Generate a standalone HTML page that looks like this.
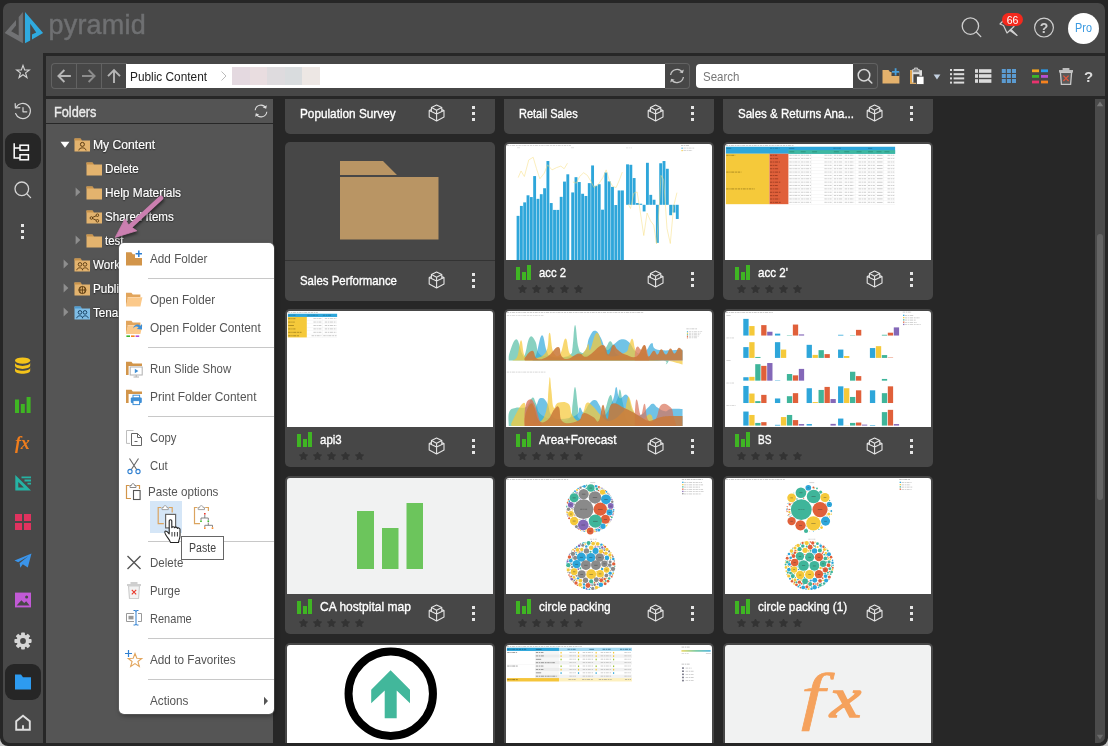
<!DOCTYPE html>
<html lang="en"><head><meta charset="utf-8"><title>Pyramid</title>
<style>
*{box-sizing:border-box;margin:0;padding:0}
html,body{width:1108px;height:746px;overflow:hidden;background:#c8c8c8;font-family:"Liberation Sans",sans-serif;}
body{position:relative}
div,svg,span{position:absolute}
#win{left:0;top:0;width:1108px;height:746px;background:#262626;border-radius:0 0 8px 8px}
#app{left:3px;top:3px;width:1102px;height:740px;background:#484848;border-radius:7px;}
#frame{left:43px;top:53px;width:1062px;height:690px;background:#272727;border-radius:0 0 8px 0}
#toolbar{left:46px;top:56px;width:1059px;height:40px;background:#474747;}
#fhead{left:46px;top:99px;width:227px;height:24px;background:#545454;}
#ftree{left:46px;top:124px;width:227px;height:619px;background:#555555;}
.t{white-space:nowrap;line-height:1}
.card{width:210px;height:158px;background:#474747;border-radius:5px;overflow:hidden}
.card .img{left:2px;top:2px;width:206px;height:116px;background:#fff;border-radius:3px 3px 0 0;overflow:hidden}
.card .ttl{left:35px;top:123px;font-size:13px;color:#fff;white-space:nowrap;line-height:16px;transform-origin:0 0;-webkit-text-stroke:0.35px #fff}
.card .ttl.nf{left:15px;top:131px}
.card .bars{left:12px;top:123px;width:15px;height:15px}
.card .bars i{position:absolute;bottom:0;width:4px;background:#3fb523}
.card .stars{left:13px;top:141.5px}
.card .cube{left:143px;top:128px;width:17px;height:18px}
.card .keb{left:186.5px;top:130px;width:4px;height:16px}
.card .keb i,.keb2 i{position:absolute;left:0;width:3px;height:3px;background:#e6e6e6}
.sep{height:1px;background:#c8c8c8;left:29px;width:126px}
.mi{left:31px;font-size:13px;color:#555;white-space:nowrap;line-height:16px}
.tr{-webkit-text-stroke:0.2px #fff;font-size:13px;color:#fff;white-space:nowrap;line-height:16px;text-shadow:0 0 2px #222,0 1px 1px #333}
.card.fc{height:159px}.card.fc .cube{top:129px}.card.fc .keb{top:131px}
</style></head>
<body>
<div id="win"></div>
<div id="app"></div>
<div id="frame"></div>
<div id="toolbar"></div>
<div id="fhead"></div>
<div id="ftree"></div>
<!-- header -->
<svg style="left:0;top:0" width="60" height="56" viewBox="0 0 60 56">
<path d="M22.9 11.9 L22.9 43.3 L4.7 33 L16 20.1 L16 25.5 L11.2 31.2 L18.7 35.5 L18.7 16.9 Z" fill="#717274"/>
<path d="M25 11.9 L43.1 32.9 L32 39.4 L32 34.6 L36.2 32.4 L30.2 23.7 L30.2 40.4 L25 43.3 Z" fill="#2faadf"/>
</svg>
<div class="t" style="left:48.5px;top:9px;font-size:27px;color:#6f7072;letter-spacing:0.2px;line-height:32px;-webkit-text-stroke:0.45px #6f7072">pyramid</div>
<svg style="left:958px;top:14px" width="26" height="26" viewBox="0 0 26 26" fill="none" stroke="#cfcfcf" stroke-width="1.3"><circle cx="12.4" cy="12.1" r="8.2"/><path d="M18.3 18 L22.8 22.6" stroke-linecap="round"/></svg>
<svg style="left:997px;top:16px" width="24" height="24" viewBox="0 0 24 24" fill="none" stroke="#cfcfcf" stroke-width="1.2" stroke-linejoin="round"><path d="M7.5 3.5 L3 8 L6.5 9.5 L10 17 L17 10.5 L11 6 Z"/><path d="M14 13.5 L20 19.5 L13 14.5Z" fill="#cfcfcf"/></svg>
<div style="left:1002px;top:13px;width:21px;height:13px;border-radius:7px;background:#f3291d"></div>
<div class="t" style="left:1002px;top:14px;width:21px;text-align:center;font-size:10.5px;color:#fff;line-height:12px">66</div>
<svg style="left:1033px;top:17px" width="22" height="22" viewBox="0 0 22 22"><circle cx="11" cy="10.6" r="9.4" fill="none" stroke="#cfcfcf" stroke-width="1.2"/><text x="11" y="15.6" font-family="Liberation Sans, sans-serif" font-size="14" font-weight="bold" fill="#cfcfcf" text-anchor="middle">?</text></svg>
<div style="left:1068px;top:12.600px;width:31px;height:31px;border-radius:50%;background:#fff"></div>
<div class="t" style="left:1068px;top:21px;width:31px;text-align:center;font-size:12px;color:#3b9ae1;line-height:15px;transform:scaleX(0.900)">Pro</div>
<!-- sidebar -->
<div style="left:5px;top:133px;width:36px;height:36px;border-radius:9px;background:#262626"></div>
<div style="left:5px;top:664px;width:36px;height:36px;border-radius:9px;background:#262626"></div>
<svg style="left:13px;top:61px" width="20" height="20" viewBox="0 0 20 20" fill="none" stroke="#d4d4d4" stroke-width="1.3" stroke-linejoin="miter"><g transform="translate(10 10.700) scale(0.860) translate(-10 -10)"><path d="M10 2.600 L11.900 7.900 L17.400 8 L13 11.400 L14.600 16.800 L10 13.600 L5.400 16.800 L7 11.400 L2.600 8 L8.100 7.900 Z"/></g></svg>
<svg style="left:12px;top:101px" width="22" height="22" viewBox="0 0 22 22" fill="none" stroke="#d4d4d4" stroke-width="1.200" stroke-linecap="round" stroke-linejoin="round"><path d="M4.2 6.2 A7.6 7.6 0 1 1 3.6 12.5"/><path d="M3.2 2.6 L3.4 7 L7.8 6.6"/><path d="M11 6.5 L11 10.8 L14.8 10.8"/></svg>
<svg style="left:12px;top:141px" width="22" height="22" viewBox="0 0 22 22" fill="none" stroke="#ffffff" stroke-width="1.5"><path d="M2.2 2.2 L2.2 17 L8 17 M2.2 7 L8 7"/><rect x="8" y="4.2" width="8.4" height="5" /><rect x="8" y="13.8" width="8.4" height="5"/></svg>
<svg style="left:12px;top:179px" width="22" height="22" viewBox="0 0 22 22" fill="none" stroke="#d4d4d4" stroke-width="1.3" stroke-linecap="round"><circle cx="9.8" cy="9.8" r="6.8"/><path d="M14.8 14.8 L18.6 18.6"/></svg>
<div class="keb2" style="left:21px;top:224px;width:3px;height:16px"><i style="top:0"></i><i style="top:6px"></i><i style="top:12px"></i></div>
<!-- db -->
<svg style="left:12px;top:355px" width="22" height="22" viewBox="0 0 22 22" fill="#f4c31a"><ellipse cx="10.6" cy="5.6" rx="7.6" ry="3.2"/><path d="M3 7.6 C3 12 18.2 12 18.2 7.6 L18.2 10.6 C18.2 15 3 15 3 10.6Z"/><path d="M3 12.4 C3 16.8 18.2 16.8 18.2 12.4 L18.2 15.4 C18.2 19.8 3 19.8 3 15.4Z"/></svg>
<!-- bars -->
<svg style="left:12px;top:394px" width="22" height="22" viewBox="0 0 22 22" fill="#3fb523"><rect x="3" y="5.5" width="4" height="13.5"/><rect x="8.8" y="10" width="4" height="9"/><rect x="14.6" y="3" width="4" height="16"/></svg>
<!-- fx -->
<div class="t" style="left:15px;top:434px;font-family:'Liberation Serif',serif;font-style:italic;font-weight:bold;font-size:18px;color:#f07d1c;letter-spacing:-0.3px;line-height:18px">fx</div>
<!-- ruler -->
<svg style="left:12px;top:472px" width="22" height="22" viewBox="0 0 22 22"><path d="M3.300 2.900 L3.300 18.600 L19 18.600 Z M6.300 10 L6.300 15.600 L11.900 15.600Z" fill="#25b3a4" fill-rule="evenodd"/><path d="M9.500 5.400 L19 5.400 M12.500 8.500 L19 8.500 M15.500 11.600 L19 11.600" stroke="#25b3a4" stroke-width="1.800" fill="none"/></svg>
<!-- grid -->
<svg style="left:12px;top:511px" width="22" height="22" viewBox="0 0 22 22" fill="#e0335f"><rect x="3" y="3" width="7" height="7"/><rect x="12" y="3" width="7" height="7"/><rect x="3" y="12" width="7" height="7"/><rect x="12" y="12" width="7" height="7"/></svg>
<!-- plane -->
<svg style="left:12px;top:550px" width="22" height="22" viewBox="0 0 22 22" fill="#3a94ea"><path d="M2.5 10.5 L19.5 3.5 L15.8 17.5 L10.8 14.2 L8.3 17.8 L7.6 13.2 L16.2 6.2 L6.2 12.2 Z"/></svg>
<!-- image -->
<svg style="left:12px;top:589px" width="22" height="22" viewBox="0 0 22 22"><rect x="3" y="3.6" width="16" height="14.8" fill="#c25ad6"/><path d="M4.6 16.6 L9.4 11.2 L12.2 14 L14.2 12.2 L17.6 16.6 Z" fill="#484848"/><circle cx="14.6" cy="8" r="1.5" fill="#484848"/></svg>
<!-- gear -->
<svg style="left:12px;top:630px" width="22" height="22" viewBox="0 0 22 22"><g transform="translate(11 11)"><g fill="#d6d6d6"><circle r="6.4"/><rect x="-1.9" y="-8.6" width="3.8" height="17.2" rx="0.8"/><rect x="-1.9" y="-8.6" width="3.8" height="17.2" rx="0.8" transform="rotate(45)"/><rect x="-1.9" y="-8.6" width="3.8" height="17.2" rx="0.8" transform="rotate(90)"/><rect x="-1.9" y="-8.6" width="3.8" height="17.2" rx="0.8" transform="rotate(135)"/></g><circle r="2.9" fill="#484848"/></g></svg>
<!-- folder -->
<svg style="left:12px;top:671px" width="22" height="22" viewBox="0 0 22 22" fill="#2d9bf0"><path d="M3 3.6 L9 3.6 L11 6.2 L19 6.2 L19 18.4 L3 18.4 Z"/></svg>
<!-- home -->
<svg style="left:12px;top:711px" width="22" height="22" viewBox="0 0 22 22" fill="none" stroke="#dedede" stroke-width="1.900" stroke-linejoin="miter"><path d="M4.200 10.300 L11 4.800 L17.800 10.300 L17.800 18.800 L4.200 18.800 Z"/><path d="M11 14.200 L11 18.800"/></svg>
<!-- toolbar -->
<div style="left:51px;top:63px;width:76px;height:26px;border:1px solid #626262;border-right:none;border-radius:4px 0 0 4px;background:#474747"></div>
<div style="left:76px;top:64px;width:1px;height:24px;background:#626262"></div>
<div style="left:101px;top:64px;width:1px;height:24px;background:#626262"></div>
<svg style="left:52px;top:64px" width="24" height="24" viewBox="52 64 24 24" fill="none" stroke="#b6b6b6" stroke-width="1.9"><path d="M58.200 76 L70.900 76 M64.400 70 L58.400 76 L64.400 82"/></svg>
<svg style="left:77px;top:64px" width="24" height="24" viewBox="77 64 24 24" fill="none" stroke="#8c8c8c" stroke-width="1.9"><path d="M82 76 L94.800 76 M88.600 70 L94.600 76 L88.600 82"/></svg>
<svg style="left:102px;top:64px" width="24" height="24" viewBox="102 64 24 24" fill="none" stroke="#b6b6b6" stroke-width="1.9"><path d="M114 70.200 L114 82.900 M108 76.200 L114 70.200 L120 76.200"/></svg>
<div style="left:126px;top:64px;width:539px;height:24px;background:#fff"></div>
<div class="t" style="left:129.5px;top:69px;font-size:13px;color:#222;line-height:16px;transform-origin:0 0;transform:scaleX(0.911)">Public Content</div>
<svg style="left:219px;top:70px" width="10" height="12" viewBox="0 0 10 12" fill="none" stroke="#bbb" stroke-width="1"><path d="M2.5 1.5 L7 6 L2.5 10.5"/></svg>
<div style="left:232px;top:67px;width:88px;height:18px;background:linear-gradient(90deg,#e4d9e0 0,#e4d9e0 20%,#e9dde0 20%,#e9dde0 40%,#dedbde 40%,#dedbde 60%,#d9dcde 60%,#d9dcde 80%,#ede7e4 80%)"></div>
<div style="left:665px;top:63px;width:25px;height:26px;border:1px solid #626262;border-left:none;border-radius:0 4px 4px 0;background:#474747"></div>
<svg style="left:668px;top:67px" width="18" height="18" viewBox="0 0 18 18" fill="none" stroke="#c4c4c4" stroke-width="1.3"><path d="M2.6 8 A6.5 6.5 0 0 1 14.6 5.6"/><path d="M15.4 10 A6.5 6.5 0 0 1 3.4 12.4"/><path d="M15.8 2.6 L14.9 6.3 L11.3 5.2" fill="#c4c4c4" stroke="none"/><path d="M2.2 15.4 L3.1 11.7 L6.7 12.8" fill="#c4c4c4" stroke="none"/></svg>
<div style="left:696px;top:64px;width:158px;height:24px;background:#fff;border-radius:4px 0 0 4px"></div>
<div class="t" style="left:702.5px;top:69px;font-size:13px;color:#777;line-height:16px;transform-origin:0 0;transform:scaleX(0.885)">Search</div>
<div style="left:853px;top:63px;width:25px;height:26px;border:1px solid #626262;border-left:none;border-radius:0 4px 4px 0;background:#474747"></div>
<svg style="left:855px;top:66px" width="20" height="20" viewBox="0 0 20 20" fill="none" stroke="#d6d6d6" stroke-width="1.5" stroke-linecap="round"><circle cx="9" cy="9.2" r="5.8"/><path d="M13.4 13.6 L16.8 17"/></svg>
<!-- new folder -->
<svg style="left:881px;top:66px" width="20" height="20" viewBox="0 0 20 20"><path d="M1.5 4 L7.5 4 L9 6 L18.4 6 L18.4 17.6 L1.5 17.6 Z" fill="#e5b26c"/><path d="M10.5 3 L18.5 3 L18.5 10 L10.5 10Z" fill="#474747"/><path d="M14.6 2.2 L14.6 9.4 M11 5.8 L18.2 5.8" stroke="#4b9fd8" stroke-width="1.8" fill="none"/></svg>
<!-- paste -->
<svg style="left:907px;top:66px" width="20" height="20" viewBox="0 0 20 20"><path d="M3 4.2 L15 4.2 L15 17.8 L3 17.8Z" fill="#dfdfdf"/><path d="M3 4.2 L5 4.2 L5 17.8 L3 17.8Z M3 16.4 L15 16.4 L15 17.8 L3 17.8Z" fill="#e0a44e"/><path d="M5.6 6.4 L12.4 6.4 L12.4 3.6 L10.6 3.6 L10.6 2 L7.4 2 L7.4 3.6 L5.6 3.6Z" fill="#8a8a8a" stroke="#dcdcdc" stroke-width="0.8"/><rect x="6.4" y="8.2" width="6" height="8.6" fill="#474747"/><rect x="9.6" y="10.2" width="7.4" height="8.2" fill="#fff" stroke="#474747" stroke-width="0.8"/></svg>
<svg style="left:933px;top:74px" width="8" height="6" viewBox="0 0 8 6"><path d="M0.6 0.4 L7.4 0.4 L4 5.6Z" fill="#c3d0e0"/></svg>
<!-- list 1 -->
<svg style="left:949px;top:68px" width="16" height="16" viewBox="0 0 16 16" fill="#dcdcdc"><rect x="1" y="1" width="2" height="2"/><rect x="4.6" y="1" width="10.6" height="2"/><rect x="1" y="5.2" width="2" height="2"/><rect x="4.6" y="5.2" width="10.6" height="2"/><rect x="1" y="9.4" width="2" height="2"/><rect x="4.6" y="9.4" width="10.6" height="2"/><rect x="1" y="13.6" width="2" height="2"/><rect x="4.6" y="13.6" width="10.6" height="2"/></svg>
<!-- list 2 -->
<svg style="left:974px;top:68px" width="18" height="16" viewBox="0 0 18 16" fill="#dcdcdc"><rect x="1" y="1.2" width="3" height="3.6"/><rect x="5" y="1.2" width="12.4" height="3.6"/><rect x="1" y="6.2" width="3" height="3.6"/><rect x="5" y="6.2" width="12.4" height="3.6"/><rect x="1" y="11.2" width="3" height="3.6"/><rect x="5" y="11.2" width="12.4" height="3.6"/></svg>
<!-- grid -->
<svg style="left:1001px;top:68px" width="16" height="16" viewBox="0 0 16 16" fill="#5b9bd1"><rect x="0.8" y="1" width="4" height="4"/><rect x="5.9" y="1" width="4" height="4"/><rect x="11" y="1" width="4" height="4"/><rect x="0.8" y="6" width="4" height="4"/><rect x="5.9" y="6" width="4" height="4"/><rect x="11" y="6" width="4" height="4"/><rect x="0.8" y="11" width="4" height="4"/><rect x="5.9" y="11" width="4" height="4"/><rect x="11" y="11" width="4" height="4"/></svg>
<!-- colour list -->
<svg style="left:1031px;top:68px" width="18" height="16" viewBox="0 0 18 16"><rect x="1" y="1.4" width="7" height="2.8" fill="#f5a41f"/><rect x="10" y="1.4" width="7" height="2.8" fill="#2a9df0"/><rect x="1" y="7" width="7" height="2.8" fill="#3bb52b"/><rect x="10" y="7" width="7" height="2.8" fill="#b54fd2"/><rect x="1" y="12.6" width="7" height="2.8" fill="#e8336e"/><rect x="10" y="12.6" width="7" height="2.8" fill="#f5821f"/></svg>
<!-- trash -->
<svg style="left:1057px;top:66px" width="18" height="20" viewBox="0 0 18 20"><path d="M2 4 L16 4 L16 6.4 L2 6.4Z M5.6 2 L12.4 2 L12.4 4 L5.6 4Z" fill="#bdbdbd"/><path d="M3.4 6.4 L14.6 6.4 L13.6 18.4 L4.4 18.4Z" fill="#5a5a5a" stroke="#c8c8c8" stroke-width="1.3"/><path d="M6.4 9.6 L11.6 15 M11.6 9.6 L6.4 15" stroke="#e4553a" stroke-width="1.2"/></svg>
<div class="t" style="left:1084px;top:68px;font-size:15px;font-weight:bold;color:#dcdcdc;line-height:18px">?</div>
<!-- folders panel -->
<div class="t" style="left:53.5px;top:104px;font-size:14px;color:#ececec;line-height:16px;-webkit-text-stroke:0.35px #ececec;transform-origin:0 0;transform:scaleX(0.91)">Folders</div>
<svg style="left:253px;top:103px" width="16" height="16" viewBox="0 0 16 16" fill="none" stroke="#dcdcdc" stroke-width="1.1"><path d="M2.2 7.2 A5.7 5.7 0 0 1 12.8 5"/><path d="M13.8 8.8 A5.7 5.7 0 0 1 3.2 11"/><path d="M13.8 2.2 L13.2 5.8 L9.8 4.6Z" fill="#dcdcdc" stroke="none"/><path d="M2.2 13.8 L2.8 10.2 L6.2 11.4Z" fill="#dcdcdc" stroke="none"/></svg>
<svg width="0" height="0" style="left:0;top:0"><defs>
<g id="fo"><path d="M0.5 1.5 L6.5 1.5 L7.8 3.4 L16 3.4 L16 14.5 L0.5 14.5Z" fill="#e3b36e"/><path d="M0.5 1.5 L6.5 1.5 L7.8 3.4 L0.5 3.4Z" fill="#c9944c"/></g>
<g id="fob"><path d="M0.5 1.5 L6.5 1.5 L7.8 3.4 L16 3.4 L16 14.5 L0.5 14.5Z" fill="#7fbde6"/><path d="M0.5 1.5 L6.5 1.5 L7.8 3.4 L0.5 3.4Z" fill="#4f9bd0"/></g>
<g id="cube" fill="none" stroke="#e4e4e4" stroke-width="1.1" stroke-linejoin="round" stroke-linecap="round"><path d="M8.600 1 L13.800 3.600 L8.600 6.200 L3.400 3.600Z M3.400 3.600 L3.400 7.500 M13.800 3.600 L13.800 7.500 M8.600 6.200 L8.600 16.900 M3.400 5.500 L1.200 6.500 L1.200 13.100 L8.600 16.900 L16 13.100 L16 6.500 L13.800 5.500 M1.200 6.500 L8.600 10 L16 6.500"/></g>
</defs></svg>
<!-- tree rows -->
<svg style="left:60px;top:141px" width="10" height="8" viewBox="0 0 10 8"><path d="M0.5 0.8 L9.5 0.8 L5 6.8Z" fill="#fff"/></svg>
<svg style="left:73.5px;top:136.500px" width="17" height="16" viewBox="0 0 17 16"><use href="#fo"/><g fill="none" stroke="#5a3a10" stroke-width="1"><circle cx="8.4" cy="7.4" r="2"/><path d="M4.8 13.4 C5 10 11.800 10 12 13.400"/></g></svg>
<div class="tr" style="left:93px;top:136.500px;transform-origin:0 0;transform:scaleX(0.934)">My Content</div>

<svg style="left:85.500px;top:160.500px" width="17" height="16" viewBox="0 0 17 16"><use href="#fo"/></svg>
<div class="tr" style="left:104.6px;top:160.500px;transform-origin:0 0;transform:scaleX(0.894)">Delete</div>

<svg style="left:75px;top:187px" width="6" height="10" viewBox="0 0 6 10"><path d="M0.600 0.600 L5.400 5 L0.600 9.400Z" fill="#8e8e8e"/></svg>
<svg style="left:85.500px;top:184.500px" width="17" height="16" viewBox="0 0 17 16"><use href="#fo"/></svg>
<div class="tr" style="left:104.6px;top:184.500px;transform-origin:0 0;transform:scaleX(0.915)">Help Materials</div>

<svg style="left:85.500px;top:208.500px" width="17" height="16" viewBox="0 0 17 16"><use href="#fo"/><g fill="none" stroke="#5a3a10" stroke-width="0.9"><circle cx="5.400" cy="9" r="1.300"/><circle cx="11.400" cy="6.200" r="1.300"/><circle cx="11.400" cy="11.800" r="1.300"/><path d="M6.600 8.400 L10.200 6.800 M6.600 9.600 L10.200 11.200"/></g></svg>
<div class="tr" style="left:104.6px;top:208.500px;transform-origin:0 0;transform:scaleX(0.889)">Shared Items</div>

<svg style="left:75px;top:235px" width="6" height="10" viewBox="0 0 6 10"><path d="M0.600 0.600 L5.400 5 L0.600 9.400Z" fill="#8e8e8e"/></svg>
<svg style="left:85.500px;top:232.500px" width="17" height="16" viewBox="0 0 17 16"><use href="#fo"/></svg>
<div class="tr" style="left:104.6px;top:232.500px;transform-origin:0 0;transform:scaleX(0.883)">test</div>

<svg style="left:63px;top:259px" width="6" height="10" viewBox="0 0 6 10"><path d="M0.600 0.600 L5.400 5 L0.600 9.400Z" fill="#8e8e8e"/></svg>
<svg style="left:73.500px;top:256.500px" width="17" height="16" viewBox="0 0 17 16"><use href="#fo"/><g fill="none" stroke="#5a3a10" stroke-width="0.9"><circle cx="6" cy="7.400" r="1.800"/><circle cx="11" cy="7.400" r="1.800"/><path d="M2.800 13.200 C3 10 8.600 10 8.600 13.200 M8.400 13.200 C8.400 10 14 10 14.200 13.200"/></g></svg>
<div class="tr" style="left:93px;top:256.500px;transform-origin:0 0;transform:scaleX(0.9)">Workgroup Content</div>

<svg style="left:63px;top:283px" width="6" height="10" viewBox="0 0 6 10"><path d="M0.600 0.600 L5.400 5 L0.600 9.400Z" fill="#8e8e8e"/></svg>
<svg style="left:73.500px;top:280.500px" width="17" height="16" viewBox="0 0 17 16"><use href="#fo"/><g fill="none" stroke="#5a3a10" stroke-width="0.9"><circle cx="8.400" cy="9" r="3.600"/><path d="M4.800 9 L12 9 M8.400 5.400 L8.400 12.600 M6.600 5.800 C5.600 8 5.600 10 6.600 12.200 M10.200 5.800 C11.200 8 11.200 10 10.200 12.200"/></g></svg>
<div class="tr" style="left:93px;top:280.500px;transform-origin:0 0;transform:scaleX(0.9)">Public Content</div>

<svg style="left:63px;top:307px" width="6" height="10" viewBox="0 0 6 10"><path d="M0.600 0.600 L5.400 5 L0.600 9.400Z" fill="#8e8e8e"/></svg>
<svg style="left:73.500px;top:304.500px" width="17" height="16" viewBox="0 0 17 16"><use href="#fob"/><g fill="none" stroke="#123a5a" stroke-width="0.9"><circle cx="6" cy="7.400" r="1.800"/><circle cx="11" cy="7.400" r="1.800"/><path d="M2.800 13.200 C3 10 8.600 10 8.600 13.200 M8.400 13.200 C8.400 10 14 10 14.200 13.200"/></g></svg>
<div class="tr" style="left:93px;top:304.500px;transform-origin:0 0;transform:scaleX(0.9)">Tenant Content</div>
<!-- pink arrow -->
<svg style="left:100px;top:185px;filter:drop-shadow(1.5px 2.5px 1.5px rgba(0,0,0,0.5))" width="80" height="70" viewBox="100 185 80 70"><path d="M160.900 198.100 L129 227.600" stroke="#cb7fb0" stroke-width="4.800" fill="none" stroke-linecap="round"/><path d="M115.200 237.400 L125 218.800 L128.800 225.200 L136.800 230.800Z" fill="#cb7fb0" stroke="#cb7fb0" stroke-width="0.800" stroke-linejoin="round"/></svg>
<!-- cards -->
<div id="cards" style="left:0;top:99px;width:1095px;height:644px;overflow:hidden">
<div class="card fc" style="left:285px;top:-124px"><div class="ttl nf" style="transform:scaleX(0.906)">Population Survey</div><svg class="cube" viewBox="0 0 17 18"><use href="#cube"/></svg><div class="keb"><i style="top:0"></i><i style="top:6px"></i><i style="top:12px"></i></div></div>
<div class="card fc" style="left:504px;top:-124px"><div class="ttl nf" style="transform:scaleX(0.846)">Retail Sales</div><svg class="cube" viewBox="0 0 17 18"><use href="#cube"/></svg><div class="keb"><i style="top:0"></i><i style="top:6px"></i><i style="top:12px"></i></div></div>
<div class="card fc" style="left:723px;top:-124px"><div class="ttl nf" style="transform:scaleX(0.887)">Sales &amp; Returns Ana...</div><svg class="cube" viewBox="0 0 17 18"><use href="#cube"/></svg><div class="keb"><i style="top:0"></i><i style="top:6px"></i><i style="top:12px"></i></div></div>
<div class="card fc" style="left:285px;top:43px"><svg style="left:55px;top:19px" width="99" height="79" viewBox="0 0 99 79"><path d="M0 0 L43 0 L57 14 L0 14Z M0 16 L98.500 16 L98.500 78.500 L0 78.500Z" fill="#b99564"/></svg><div style="left:0;top:118px;width:210px;height:1px;background:#333"></div><div class="ttl nf" style="transform:scaleX(0.877)">Sales Performance</div><svg class="cube" viewBox="0 0 17 18"><use href="#cube"/></svg><div class="keb"><i style="top:0"></i><i style="top:6px"></i><i style="top:12px"></i></div></div>
<div class="card" style="left:504px;top:43px"><div class="img" style="background:#fff"><svg style="left:0;top:0" width="206" height="116" viewBox="0 0 206 116"><line x1="1" y1="1.50" x2="65.00" y2="1.50" stroke="#aaa" stroke-width="0.6" stroke-dasharray="2.4 0.7 1.3 0.6 3.1 0.8 1.8 0.7" opacity="0.8"/><line x1="175" y1="1.50" x2="183.00" y2="1.50" stroke="#999" stroke-width="0.6" stroke-dasharray="2.4 0.7 1.3 0.6 3.1 0.8 1.8 0.7" opacity="0.8"/><rect x="175.5" y="3.6" width="1.2" height="1.2" fill="#2ea6da"/><rect x="175.5" y="6" width="1.2" height="1.2" fill="#f5c93a"/><line x1="177.5" y1="4.10" x2="188.50" y2="4.10" stroke="#aaa" stroke-width="0.6" stroke-dasharray="2.4 0.7 1.3 0.6 3.1 0.8 1.8 0.7" opacity="0.8"/><line x1="177.5" y1="6.50" x2="186.50" y2="6.50" stroke="#aaa" stroke-width="0.6" stroke-dasharray="2.4 0.7 1.3 0.6 3.1 0.8 1.8 0.7" opacity="0.8"/><rect x="11" y="3.6" width="3" height="0.5" fill="#bbb" opacity="0.8"/><rect x="65" y="3.6" width="3" height="0.5" fill="#bbb" opacity="0.8"/><line x1="120" y1="3.85" x2="126.00" y2="3.85" stroke="#bbb" stroke-width="0.5" stroke-dasharray="2.4 0.7 1.3 0.6 3.1 0.8 1.8 0.7" opacity="0.8"/><rect x="10.61" y="71.87" width="2.87" height="44.13" fill="#2ea6da"/><rect x="13.93" y="61.92" width="2.87" height="54.08" fill="#2ea6da"/><rect x="17.25" y="58.38" width="2.87" height="57.62" fill="#2ea6da"/><rect x="20.57" y="51.3" width="2.87" height="64.70" fill="#2ea6da"/><rect x="23.88" y="53.07" width="2.87" height="62.93" fill="#2ea6da"/><rect x="27.2" y="32.07" width="2.87" height="83.93" fill="#2ea6da"/><rect x="30.52" y="54.84" width="2.87" height="61.16" fill="#2ea6da"/><rect x="33.83" y="50.2" width="2.87" height="65.80" fill="#2ea6da"/><rect x="37.15" y="44.23" width="2.87" height="71.77" fill="#2ea6da"/><rect x="40.47" y="17.03" width="2.87" height="98.97" fill="#2ea6da"/><rect x="43.79" y="59.04" width="2.87" height="56.96" fill="#2ea6da"/><rect x="47.1" y="65.9" width="2.87" height="50.10" fill="#2ea6da"/><rect x="50.42" y="65.9" width="2.87" height="50.10" fill="#2ea6da"/><rect x="53.74" y="52.85" width="2.87" height="63.15" fill="#2ea6da"/><rect x="57.05" y="37.59" width="2.87" height="78.41" fill="#2ea6da"/><rect x="60.37" y="30.3" width="2.87" height="85.70" fill="#2ea6da"/><rect x="65.24" y="48.43" width="2.87" height="67.57" fill="#2ea6da"/><rect x="68.55" y="33.17" width="2.87" height="82.83" fill="#2ea6da"/><rect x="71.87" y="38.04" width="2.87" height="77.96" fill="#2ea6da"/><rect x="75.19" y="49.76" width="2.87" height="66.24" fill="#2ea6da"/><rect x="78.51" y="51.97" width="2.87" height="64.03" fill="#2ea6da"/><rect x="81.82" y="39.14" width="2.87" height="76.86" fill="#2ea6da"/><rect x="85.14" y="21.45" width="2.87" height="94.55" fill="#2ea6da"/><rect x="88.46" y="41.8" width="2.87" height="74.20" fill="#2ea6da"/><rect x="91.77" y="40.25" width="2.87" height="75.75" fill="#2ea6da"/><rect x="95.09" y="65.68" width="2.87" height="50.32" fill="#2ea6da"/><rect x="98.41" y="28.53" width="2.87" height="87.47" fill="#2ea6da"/><rect x="101.72" y="37.37" width="2.87" height="78.63" fill="#2ea6da"/><rect x="105.04" y="42.9" width="2.87" height="73.10" fill="#2ea6da"/><rect x="108.36" y="61.03" width="2.87" height="54.97" fill="#2ea6da"/><rect x="111.68" y="46.44" width="2.87" height="69.56" fill="#2ea6da"/><rect x="114.99" y="46.44" width="2.87" height="69.56" fill="#2ea6da"/><rect x="120.08" y="20.34" width="2.87" height="40.47" fill="#2ea6da"/><rect x="123.4" y="20.79" width="2.87" height="40.02" fill="#2ea6da"/><rect x="126.71" y="34.06" width="2.87" height="26.75" fill="#2ea6da"/><rect x="130.03" y="59.04" width="2.87" height="1.77" fill="#2ea6da"/><rect x="133.35" y="59.71" width="2.87" height="1.10" fill="#2ea6da"/><rect x="136.67" y="60.81" width="2.87" height="6.64" fill="#2ea6da"/><rect x="139.98" y="18.8" width="2.87" height="42.01" fill="#2ea6da"/><rect x="143.3" y="50.86" width="2.87" height="9.95" fill="#2ea6da"/><rect x="146.62" y="55.73" width="2.87" height="5.08" fill="#2ea6da"/><rect x="149.93" y="60.81" width="2.87" height="38.04" fill="#2ea6da"/><rect x="153.25" y="19.24" width="2.87" height="41.57" fill="#2ea6da"/><rect x="156.57" y="17.03" width="2.87" height="43.78" fill="#2ea6da"/><rect x="159.89" y="24.77" width="2.87" height="36.04" fill="#2ea6da"/><rect x="163.2" y="60.81" width="2.87" height="10.40" fill="#2ea6da"/><rect x="166.52" y="60.81" width="2.87" height="7.74" fill="#2ea6da"/><rect x="169.84" y="60.81" width="2.87" height="14.16" fill="#2ea6da"/><polyline points="12.16,33.61 15.04,26.98 18.35,32.51 22.78,15.92 27.2,13.27 30.52,24.77 33.83,34.72 38.26,29.19 41.57,20.79 46.0,25.87 50.42,23.66 54.84,22.11 58.16,24.77 61.48,19.24" fill="none" stroke="#f7dc7a" stroke-width="0.5" stroke-linejoin="round"/><polyline points="67.01,38.04 70.32,39.14 73.64,32.51 77.62,28.75 81.38,31.4 84.7,36.93 88.01,43.56 92.44,40.25 96.86,33.61 100.18,25.87 103.49,36.93 106.81,42.46 110.13,43.56 113.45,35.82 116.32,28.08" fill="none" stroke="#f7dc7a" stroke-width="0.5" stroke-linejoin="round"/><polyline points="122.29,60.15 124.5,64.57 127.82,49.09 131.14,47.99 134.45,69.0 137.77,91.55 141.09,69.0 144.41,76.74 147.72,81.16 150.6,99.96 153.25,62.36 155.02,31.4 157.67,35.82 160.99,84.48 164.31,99.51 167.62,62.36 170.94,48.65" fill="none" stroke="#f7dc7a" stroke-width="0.5" stroke-linejoin="round"/></svg></div><div class="bars"><i style="left:0;height:13px"></i><i style="left:5.500px;height:8.500px"></i><i style="left:11px;height:15px"></i></div><div class="ttl" style="transform:scaleX(0.869)">acc 2</div><svg class="stars" width="70" height="11" viewBox="0 0 70 11" fill="#333" stroke="#333" stroke-width="0.9" stroke-linejoin="round"><polygon points="5.50,1.00 6.73,3.60 9.59,3.97 7.50,5.95 8.03,8.78 5.50,7.40 2.97,8.78 3.50,5.95 1.41,3.97 4.27,3.60"/><polygon points="19.50,1.00 20.73,3.60 23.59,3.97 21.50,5.95 22.03,8.78 19.50,7.40 16.97,8.78 17.50,5.95 15.41,3.97 18.27,3.60"/><polygon points="33.50,1.00 34.73,3.60 37.59,3.97 35.50,5.95 36.03,8.78 33.50,7.40 30.97,8.78 31.50,5.95 29.41,3.97 32.27,3.60"/><polygon points="47.50,1.00 48.73,3.60 51.59,3.97 49.50,5.95 50.03,8.78 47.50,7.40 44.97,8.78 45.50,5.95 43.41,3.97 46.27,3.60"/><polygon points="61.50,1.00 62.73,3.60 65.59,3.97 63.50,5.95 64.03,8.78 61.50,7.40 58.97,8.78 59.50,5.95 57.41,3.97 60.27,3.60"/></svg><svg class="cube" viewBox="0 0 17 18"><use href="#cube"/></svg><div class="keb"><i style="top:0"></i><i style="top:6px"></i><i style="top:12px"></i></div></div>
<div class="card" style="left:723px;top:43px"><div class="img" style="background:#fff"><svg style="left:0;top:0" width="206" height="116" viewBox="0 0 206 116"><line x1="0.8" y1="1.50" x2="68.80" y2="1.50" stroke="#999" stroke-width="0.6" stroke-dasharray="2.4 0.7 1.3 0.6 3.1 0.8 1.8 0.7" opacity="0.8"/><rect x="0.85" y="2.75" width="169.26000000000002" height="7.01" fill="#2ea6da"/><rect x="63.4" y="6.16" width="106.71" height="3.60" fill="#3fb8a0"/><rect x="0.85" y="9.76" width="43.60" height="50.42" fill="#f5c93a"/><rect x="44.45" y="9.76" width="18.95" height="50.42" fill="#e0603a"/><rect x="1.23" y="3.89" width="4.93" height="0.7" fill="#155a80" opacity="0.7"/><line x1="45.02" y1="4.24" x2="54.50" y2="4.24" stroke="#155a80" stroke-width="0.7" stroke-dasharray="2.4 0.7 1.3 0.6 3.1 0.8 1.8 0.7" opacity="0.7"/><rect x="63.97" y="3.89" width="5.31" height="0.7" fill="#155a80" opacity="0.7"/><line x1="108.32" y1="4.24" x2="115.90" y2="4.24" stroke="#155a80" stroke-width="0.7" stroke-dasharray="2.4 0.7 1.3 0.6 3.1 0.8 1.8 0.7" opacity="0.7"/><rect x="143.01" y="3.89" width="4.17" height="0.7" fill="#155a80" opacity="0.7"/><rect x="64.35" y="7.49" width="4.93" height="0.7" fill="#1d6e5e" opacity="0.7"/><rect x="75.72" y="7.49" width="4.93" height="0.7" fill="#1d6e5e" opacity="0.7"/><rect x="87.09" y="7.49" width="4.93" height="0.7" fill="#1d6e5e" opacity="0.7"/><rect x="108.89" y="7.49" width="4.93" height="0.7" fill="#1d6e5e" opacity="0.7"/><rect x="119.31" y="7.49" width="4.93" height="0.7" fill="#1d6e5e" opacity="0.7"/><rect x="131.63" y="7.49" width="4.93" height="0.7" fill="#1d6e5e" opacity="0.7"/><rect x="143.01" y="7.49" width="4.93" height="0.7" fill="#1d6e5e" opacity="0.7"/><rect x="151.54" y="7.49" width="4.93" height="0.7" fill="#1d6e5e" opacity="0.7"/><rect x="159.5" y="7.49" width="4.93" height="0.7" fill="#1d6e5e" opacity="0.7"/><rect x="63.4" y="13.02" width="106.71" height="0.2" fill="#ddd"/><line x1="45.02" y1="11.30" x2="52.22" y2="11.30" stroke="#7a2a14" stroke-width="0.8" stroke-dasharray="2.4 0.7 1.3 0.6 3.1 0.8 1.8 0.7" opacity="0.75"/><line x1="64.35" y1="11.25" x2="74.77" y2="11.25" stroke="#8a8a8a" stroke-width="0.7" stroke-dasharray="2.4 0.7 1.3 0.6 3.1 0.8 1.8 0.7" opacity="0.6"/><line x1="76.1" y1="11.25" x2="85.96" y2="11.25" stroke="#8a8a8a" stroke-width="0.7" stroke-dasharray="2.4 0.7 1.3 0.6 3.1 0.8 1.8 0.7" opacity="0.6"/><line x1="99.41" y1="11.25" x2="106.61" y2="11.25" stroke="#8a8a8a" stroke-width="0.7" stroke-dasharray="2.4 0.7 1.3 0.6 3.1 0.8 1.8 0.7" opacity="0.6"/><line x1="108.89" y1="11.25" x2="117.99" y2="11.25" stroke="#8a8a8a" stroke-width="0.7" stroke-dasharray="2.4 0.7 1.3 0.6 3.1 0.8 1.8 0.7" opacity="0.6"/><line x1="119.69" y1="11.25" x2="129.17" y2="11.25" stroke="#8a8a8a" stroke-width="0.7" stroke-dasharray="2.4 0.7 1.3 0.6 3.1 0.8 1.8 0.7" opacity="0.6"/><line x1="133.53" y1="11.25" x2="141.11" y2="11.25" stroke="#8a8a8a" stroke-width="0.7" stroke-dasharray="2.4 0.7 1.3 0.6 3.1 0.8 1.8 0.7" opacity="0.6"/><line x1="143.01" y1="11.25" x2="149.83" y2="11.25" stroke="#8a8a8a" stroke-width="0.7" stroke-dasharray="2.4 0.7 1.3 0.6 3.1 0.8 1.8 0.7" opacity="0.6"/><rect x="151.91" y="10.9" width="5.69" height="0.7" fill="#8a8a8a" opacity="0.6"/><line x1="162.53" y1="11.25" x2="169.35" y2="11.25" stroke="#8a8a8a" stroke-width="0.7" stroke-dasharray="2.4 0.7 1.3 0.6 3.1 0.8 1.8 0.7" opacity="0.6"/><rect x="63.4" y="16.38" width="106.71" height="0.2" fill="#ddd"/><line x1="45.02" y1="14.66" x2="53.55" y2="14.66" stroke="#7a2a14" stroke-width="0.8" stroke-dasharray="2.4 0.7 1.3 0.6 3.1 0.8 1.8 0.7" opacity="0.75"/><line x1="64.35" y1="14.61" x2="74.77" y2="14.61" stroke="#8a8a8a" stroke-width="0.7" stroke-dasharray="2.4 0.7 1.3 0.6 3.1 0.8 1.8 0.7" opacity="0.6"/><line x1="76.1" y1="14.61" x2="85.96" y2="14.61" stroke="#8a8a8a" stroke-width="0.7" stroke-dasharray="2.4 0.7 1.3 0.6 3.1 0.8 1.8 0.7" opacity="0.6"/><line x1="99.41" y1="14.61" x2="106.61" y2="14.61" stroke="#8a8a8a" stroke-width="0.7" stroke-dasharray="2.4 0.7 1.3 0.6 3.1 0.8 1.8 0.7" opacity="0.6"/><line x1="108.89" y1="14.61" x2="117.99" y2="14.61" stroke="#8a8a8a" stroke-width="0.7" stroke-dasharray="2.4 0.7 1.3 0.6 3.1 0.8 1.8 0.7" opacity="0.6"/><line x1="119.69" y1="14.61" x2="129.17" y2="14.61" stroke="#8a8a8a" stroke-width="0.7" stroke-dasharray="2.4 0.7 1.3 0.6 3.1 0.8 1.8 0.7" opacity="0.6"/><line x1="133.53" y1="14.61" x2="141.11" y2="14.61" stroke="#8a8a8a" stroke-width="0.7" stroke-dasharray="2.4 0.7 1.3 0.6 3.1 0.8 1.8 0.7" opacity="0.6"/><line x1="143.01" y1="14.61" x2="149.83" y2="14.61" stroke="#8a8a8a" stroke-width="0.7" stroke-dasharray="2.4 0.7 1.3 0.6 3.1 0.8 1.8 0.7" opacity="0.6"/><rect x="151.91" y="14.26" width="5.69" height="0.7" fill="#8a8a8a" opacity="0.6"/><line x1="162.53" y1="14.61" x2="169.35" y2="14.61" stroke="#8a8a8a" stroke-width="0.7" stroke-dasharray="2.4 0.7 1.3 0.6 3.1 0.8 1.8 0.7" opacity="0.6"/><rect x="63.4" y="19.74" width="106.71" height="0.2" fill="#ddd"/><line x1="45.02" y1="18.02" x2="54.88" y2="18.02" stroke="#7a2a14" stroke-width="0.8" stroke-dasharray="2.4 0.7 1.3 0.6 3.1 0.8 1.8 0.7" opacity="0.75"/><line x1="64.35" y1="17.97" x2="74.77" y2="17.97" stroke="#8a8a8a" stroke-width="0.7" stroke-dasharray="2.4 0.7 1.3 0.6 3.1 0.8 1.8 0.7" opacity="0.6"/><line x1="76.1" y1="17.97" x2="85.96" y2="17.97" stroke="#8a8a8a" stroke-width="0.7" stroke-dasharray="2.4 0.7 1.3 0.6 3.1 0.8 1.8 0.7" opacity="0.6"/><line x1="99.41" y1="17.97" x2="106.61" y2="17.97" stroke="#8a8a8a" stroke-width="0.7" stroke-dasharray="2.4 0.7 1.3 0.6 3.1 0.8 1.8 0.7" opacity="0.6"/><line x1="108.89" y1="17.97" x2="117.99" y2="17.97" stroke="#8a8a8a" stroke-width="0.7" stroke-dasharray="2.4 0.7 1.3 0.6 3.1 0.8 1.8 0.7" opacity="0.6"/><line x1="119.69" y1="17.97" x2="129.17" y2="17.97" stroke="#8a8a8a" stroke-width="0.7" stroke-dasharray="2.4 0.7 1.3 0.6 3.1 0.8 1.8 0.7" opacity="0.6"/><line x1="133.53" y1="17.97" x2="141.11" y2="17.97" stroke="#8a8a8a" stroke-width="0.7" stroke-dasharray="2.4 0.7 1.3 0.6 3.1 0.8 1.8 0.7" opacity="0.6"/><line x1="143.01" y1="17.97" x2="149.83" y2="17.97" stroke="#8a8a8a" stroke-width="0.7" stroke-dasharray="2.4 0.7 1.3 0.6 3.1 0.8 1.8 0.7" opacity="0.6"/><rect x="151.91" y="17.62" width="5.69" height="0.7" fill="#8a8a8a" opacity="0.6"/><line x1="162.53" y1="17.97" x2="169.35" y2="17.97" stroke="#8a8a8a" stroke-width="0.7" stroke-dasharray="2.4 0.7 1.3 0.6 3.1 0.8 1.8 0.7" opacity="0.6"/><rect x="63.4" y="23.11" width="106.71" height="0.2" fill="#ddd"/><line x1="45.02" y1="21.38" x2="52.41" y2="21.38" stroke="#7a2a14" stroke-width="0.8" stroke-dasharray="2.4 0.7 1.3 0.6 3.1 0.8 1.8 0.7" opacity="0.75"/><line x1="64.35" y1="21.33" x2="74.77" y2="21.33" stroke="#8a8a8a" stroke-width="0.7" stroke-dasharray="2.4 0.7 1.3 0.6 3.1 0.8 1.8 0.7" opacity="0.6"/><line x1="76.1" y1="21.33" x2="85.96" y2="21.33" stroke="#8a8a8a" stroke-width="0.7" stroke-dasharray="2.4 0.7 1.3 0.6 3.1 0.8 1.8 0.7" opacity="0.6"/><line x1="99.41" y1="21.33" x2="106.61" y2="21.33" stroke="#8a8a8a" stroke-width="0.7" stroke-dasharray="2.4 0.7 1.3 0.6 3.1 0.8 1.8 0.7" opacity="0.6"/><line x1="108.89" y1="21.33" x2="117.99" y2="21.33" stroke="#8a8a8a" stroke-width="0.7" stroke-dasharray="2.4 0.7 1.3 0.6 3.1 0.8 1.8 0.7" opacity="0.6"/><line x1="119.69" y1="21.33" x2="129.17" y2="21.33" stroke="#8a8a8a" stroke-width="0.7" stroke-dasharray="2.4 0.7 1.3 0.6 3.1 0.8 1.8 0.7" opacity="0.6"/><line x1="133.53" y1="21.33" x2="141.11" y2="21.33" stroke="#8a8a8a" stroke-width="0.7" stroke-dasharray="2.4 0.7 1.3 0.6 3.1 0.8 1.8 0.7" opacity="0.6"/><line x1="143.01" y1="21.33" x2="149.83" y2="21.33" stroke="#8a8a8a" stroke-width="0.7" stroke-dasharray="2.4 0.7 1.3 0.6 3.1 0.8 1.8 0.7" opacity="0.6"/><rect x="151.91" y="20.98" width="5.69" height="0.7" fill="#8a8a8a" opacity="0.6"/><line x1="162.53" y1="21.33" x2="169.35" y2="21.33" stroke="#8a8a8a" stroke-width="0.7" stroke-dasharray="2.4 0.7 1.3 0.6 3.1 0.8 1.8 0.7" opacity="0.6"/><rect x="63.4" y="26.47" width="106.71" height="0.2" fill="#ddd"/><line x1="45.02" y1="24.74" x2="53.74" y2="24.74" stroke="#7a2a14" stroke-width="0.8" stroke-dasharray="2.4 0.7 1.3 0.6 3.1 0.8 1.8 0.7" opacity="0.75"/><line x1="64.35" y1="24.69" x2="74.77" y2="24.69" stroke="#8a8a8a" stroke-width="0.7" stroke-dasharray="2.4 0.7 1.3 0.6 3.1 0.8 1.8 0.7" opacity="0.6"/><line x1="76.1" y1="24.69" x2="85.96" y2="24.69" stroke="#8a8a8a" stroke-width="0.7" stroke-dasharray="2.4 0.7 1.3 0.6 3.1 0.8 1.8 0.7" opacity="0.6"/><line x1="99.41" y1="24.69" x2="106.61" y2="24.69" stroke="#8a8a8a" stroke-width="0.7" stroke-dasharray="2.4 0.7 1.3 0.6 3.1 0.8 1.8 0.7" opacity="0.6"/><line x1="108.89" y1="24.69" x2="117.99" y2="24.69" stroke="#8a8a8a" stroke-width="0.7" stroke-dasharray="2.4 0.7 1.3 0.6 3.1 0.8 1.8 0.7" opacity="0.6"/><line x1="119.69" y1="24.69" x2="129.17" y2="24.69" stroke="#8a8a8a" stroke-width="0.7" stroke-dasharray="2.4 0.7 1.3 0.6 3.1 0.8 1.8 0.7" opacity="0.6"/><line x1="133.53" y1="24.69" x2="141.11" y2="24.69" stroke="#8a8a8a" stroke-width="0.7" stroke-dasharray="2.4 0.7 1.3 0.6 3.1 0.8 1.8 0.7" opacity="0.6"/><line x1="143.01" y1="24.69" x2="149.83" y2="24.69" stroke="#8a8a8a" stroke-width="0.7" stroke-dasharray="2.4 0.7 1.3 0.6 3.1 0.8 1.8 0.7" opacity="0.6"/><rect x="151.91" y="24.34" width="5.69" height="0.7" fill="#8a8a8a" opacity="0.6"/><line x1="162.53" y1="24.69" x2="169.35" y2="24.69" stroke="#8a8a8a" stroke-width="0.7" stroke-dasharray="2.4 0.7 1.3 0.6 3.1 0.8 1.8 0.7" opacity="0.6"/><rect x="63.4" y="29.83" width="106.71" height="0.2" fill="#ddd"/><line x1="45.02" y1="28.10" x2="55.07" y2="28.10" stroke="#7a2a14" stroke-width="0.8" stroke-dasharray="2.4 0.7 1.3 0.6 3.1 0.8 1.8 0.7" opacity="0.75"/><line x1="64.35" y1="28.05" x2="74.77" y2="28.05" stroke="#8a8a8a" stroke-width="0.7" stroke-dasharray="2.4 0.7 1.3 0.6 3.1 0.8 1.8 0.7" opacity="0.6"/><line x1="76.1" y1="28.05" x2="85.96" y2="28.05" stroke="#8a8a8a" stroke-width="0.7" stroke-dasharray="2.4 0.7 1.3 0.6 3.1 0.8 1.8 0.7" opacity="0.6"/><line x1="99.41" y1="28.05" x2="106.61" y2="28.05" stroke="#8a8a8a" stroke-width="0.7" stroke-dasharray="2.4 0.7 1.3 0.6 3.1 0.8 1.8 0.7" opacity="0.6"/><line x1="108.89" y1="28.05" x2="117.99" y2="28.05" stroke="#8a8a8a" stroke-width="0.7" stroke-dasharray="2.4 0.7 1.3 0.6 3.1 0.8 1.8 0.7" opacity="0.6"/><line x1="119.69" y1="28.05" x2="129.17" y2="28.05" stroke="#8a8a8a" stroke-width="0.7" stroke-dasharray="2.4 0.7 1.3 0.6 3.1 0.8 1.8 0.7" opacity="0.6"/><line x1="133.53" y1="28.05" x2="141.11" y2="28.05" stroke="#8a8a8a" stroke-width="0.7" stroke-dasharray="2.4 0.7 1.3 0.6 3.1 0.8 1.8 0.7" opacity="0.6"/><line x1="143.01" y1="28.05" x2="149.83" y2="28.05" stroke="#8a8a8a" stroke-width="0.7" stroke-dasharray="2.4 0.7 1.3 0.6 3.1 0.8 1.8 0.7" opacity="0.6"/><rect x="151.91" y="27.7" width="5.69" height="0.7" fill="#8a8a8a" opacity="0.6"/><line x1="162.53" y1="28.05" x2="169.35" y2="28.05" stroke="#8a8a8a" stroke-width="0.7" stroke-dasharray="2.4 0.7 1.3 0.6 3.1 0.8 1.8 0.7" opacity="0.6"/><rect x="63.4" y="33.19" width="106.71" height="0.2" fill="#ddd"/><line x1="45.02" y1="31.47" x2="52.60" y2="31.47" stroke="#7a2a14" stroke-width="0.8" stroke-dasharray="2.4 0.7 1.3 0.6 3.1 0.8 1.8 0.7" opacity="0.75"/><line x1="64.35" y1="31.42" x2="74.77" y2="31.42" stroke="#8a8a8a" stroke-width="0.7" stroke-dasharray="2.4 0.7 1.3 0.6 3.1 0.8 1.8 0.7" opacity="0.6"/><line x1="76.1" y1="31.42" x2="85.96" y2="31.42" stroke="#8a8a8a" stroke-width="0.7" stroke-dasharray="2.4 0.7 1.3 0.6 3.1 0.8 1.8 0.7" opacity="0.6"/><line x1="99.41" y1="31.42" x2="106.61" y2="31.42" stroke="#8a8a8a" stroke-width="0.7" stroke-dasharray="2.4 0.7 1.3 0.6 3.1 0.8 1.8 0.7" opacity="0.6"/><line x1="108.89" y1="31.42" x2="117.99" y2="31.42" stroke="#8a8a8a" stroke-width="0.7" stroke-dasharray="2.4 0.7 1.3 0.6 3.1 0.8 1.8 0.7" opacity="0.6"/><line x1="119.69" y1="31.42" x2="129.17" y2="31.42" stroke="#8a8a8a" stroke-width="0.7" stroke-dasharray="2.4 0.7 1.3 0.6 3.1 0.8 1.8 0.7" opacity="0.6"/><line x1="133.53" y1="31.42" x2="141.11" y2="31.42" stroke="#8a8a8a" stroke-width="0.7" stroke-dasharray="2.4 0.7 1.3 0.6 3.1 0.8 1.8 0.7" opacity="0.6"/><line x1="143.01" y1="31.42" x2="149.83" y2="31.42" stroke="#8a8a8a" stroke-width="0.7" stroke-dasharray="2.4 0.7 1.3 0.6 3.1 0.8 1.8 0.7" opacity="0.6"/><rect x="151.91" y="31.07" width="5.69" height="0.7" fill="#8a8a8a" opacity="0.6"/><line x1="162.53" y1="31.42" x2="169.35" y2="31.42" stroke="#8a8a8a" stroke-width="0.7" stroke-dasharray="2.4 0.7 1.3 0.6 3.1 0.8 1.8 0.7" opacity="0.6"/><rect x="63.4" y="36.55" width="106.71" height="0.2" fill="#ddd"/><line x1="45.02" y1="34.83" x2="53.93" y2="34.83" stroke="#7a2a14" stroke-width="0.8" stroke-dasharray="2.4 0.7 1.3 0.6 3.1 0.8 1.8 0.7" opacity="0.75"/><line x1="64.35" y1="34.78" x2="74.77" y2="34.78" stroke="#8a8a8a" stroke-width="0.7" stroke-dasharray="2.4 0.7 1.3 0.6 3.1 0.8 1.8 0.7" opacity="0.6"/><line x1="76.1" y1="34.78" x2="85.96" y2="34.78" stroke="#8a8a8a" stroke-width="0.7" stroke-dasharray="2.4 0.7 1.3 0.6 3.1 0.8 1.8 0.7" opacity="0.6"/><line x1="99.41" y1="34.78" x2="106.61" y2="34.78" stroke="#8a8a8a" stroke-width="0.7" stroke-dasharray="2.4 0.7 1.3 0.6 3.1 0.8 1.8 0.7" opacity="0.6"/><line x1="108.89" y1="34.78" x2="117.99" y2="34.78" stroke="#8a8a8a" stroke-width="0.7" stroke-dasharray="2.4 0.7 1.3 0.6 3.1 0.8 1.8 0.7" opacity="0.6"/><line x1="119.69" y1="34.78" x2="129.17" y2="34.78" stroke="#8a8a8a" stroke-width="0.7" stroke-dasharray="2.4 0.7 1.3 0.6 3.1 0.8 1.8 0.7" opacity="0.6"/><line x1="133.53" y1="34.78" x2="141.11" y2="34.78" stroke="#8a8a8a" stroke-width="0.7" stroke-dasharray="2.4 0.7 1.3 0.6 3.1 0.8 1.8 0.7" opacity="0.6"/><line x1="143.01" y1="34.78" x2="149.83" y2="34.78" stroke="#8a8a8a" stroke-width="0.7" stroke-dasharray="2.4 0.7 1.3 0.6 3.1 0.8 1.8 0.7" opacity="0.6"/><rect x="151.91" y="34.43" width="5.69" height="0.7" fill="#8a8a8a" opacity="0.6"/><line x1="162.53" y1="34.78" x2="169.35" y2="34.78" stroke="#8a8a8a" stroke-width="0.7" stroke-dasharray="2.4 0.7 1.3 0.6 3.1 0.8 1.8 0.7" opacity="0.6"/><rect x="63.4" y="39.91" width="106.71" height="0.2" fill="#ddd"/><line x1="45.02" y1="38.19" x2="55.26" y2="38.19" stroke="#7a2a14" stroke-width="0.8" stroke-dasharray="2.4 0.7 1.3 0.6 3.1 0.8 1.8 0.7" opacity="0.75"/><line x1="64.35" y1="38.14" x2="74.77" y2="38.14" stroke="#8a8a8a" stroke-width="0.7" stroke-dasharray="2.4 0.7 1.3 0.6 3.1 0.8 1.8 0.7" opacity="0.6"/><line x1="76.1" y1="38.14" x2="85.96" y2="38.14" stroke="#8a8a8a" stroke-width="0.7" stroke-dasharray="2.4 0.7 1.3 0.6 3.1 0.8 1.8 0.7" opacity="0.6"/><line x1="99.41" y1="38.14" x2="106.61" y2="38.14" stroke="#8a8a8a" stroke-width="0.7" stroke-dasharray="2.4 0.7 1.3 0.6 3.1 0.8 1.8 0.7" opacity="0.6"/><line x1="108.89" y1="38.14" x2="117.99" y2="38.14" stroke="#8a8a8a" stroke-width="0.7" stroke-dasharray="2.4 0.7 1.3 0.6 3.1 0.8 1.8 0.7" opacity="0.6"/><line x1="119.69" y1="38.14" x2="129.17" y2="38.14" stroke="#8a8a8a" stroke-width="0.7" stroke-dasharray="2.4 0.7 1.3 0.6 3.1 0.8 1.8 0.7" opacity="0.6"/><line x1="133.53" y1="38.14" x2="141.11" y2="38.14" stroke="#8a8a8a" stroke-width="0.7" stroke-dasharray="2.4 0.7 1.3 0.6 3.1 0.8 1.8 0.7" opacity="0.6"/><line x1="143.01" y1="38.14" x2="149.83" y2="38.14" stroke="#8a8a8a" stroke-width="0.7" stroke-dasharray="2.4 0.7 1.3 0.6 3.1 0.8 1.8 0.7" opacity="0.6"/><rect x="151.91" y="37.79" width="5.69" height="0.7" fill="#8a8a8a" opacity="0.6"/><line x1="162.53" y1="38.14" x2="169.35" y2="38.14" stroke="#8a8a8a" stroke-width="0.7" stroke-dasharray="2.4 0.7 1.3 0.6 3.1 0.8 1.8 0.7" opacity="0.6"/><rect x="63.4" y="43.27" width="106.71" height="0.2" fill="#ddd"/><line x1="45.02" y1="41.55" x2="52.79" y2="41.55" stroke="#7a2a14" stroke-width="0.8" stroke-dasharray="2.4 0.7 1.3 0.6 3.1 0.8 1.8 0.7" opacity="0.75"/><line x1="64.35" y1="41.50" x2="74.77" y2="41.50" stroke="#8a8a8a" stroke-width="0.7" stroke-dasharray="2.4 0.7 1.3 0.6 3.1 0.8 1.8 0.7" opacity="0.6"/><line x1="76.1" y1="41.50" x2="85.96" y2="41.50" stroke="#8a8a8a" stroke-width="0.7" stroke-dasharray="2.4 0.7 1.3 0.6 3.1 0.8 1.8 0.7" opacity="0.6"/><line x1="99.41" y1="41.50" x2="106.61" y2="41.50" stroke="#8a8a8a" stroke-width="0.7" stroke-dasharray="2.4 0.7 1.3 0.6 3.1 0.8 1.8 0.7" opacity="0.6"/><line x1="108.89" y1="41.50" x2="117.99" y2="41.50" stroke="#8a8a8a" stroke-width="0.7" stroke-dasharray="2.4 0.7 1.3 0.6 3.1 0.8 1.8 0.7" opacity="0.6"/><line x1="119.69" y1="41.50" x2="129.17" y2="41.50" stroke="#8a8a8a" stroke-width="0.7" stroke-dasharray="2.4 0.7 1.3 0.6 3.1 0.8 1.8 0.7" opacity="0.6"/><line x1="133.53" y1="41.50" x2="141.11" y2="41.50" stroke="#8a8a8a" stroke-width="0.7" stroke-dasharray="2.4 0.7 1.3 0.6 3.1 0.8 1.8 0.7" opacity="0.6"/><line x1="143.01" y1="41.50" x2="149.83" y2="41.50" stroke="#8a8a8a" stroke-width="0.7" stroke-dasharray="2.4 0.7 1.3 0.6 3.1 0.8 1.8 0.7" opacity="0.6"/><rect x="151.91" y="41.15" width="5.69" height="0.7" fill="#8a8a8a" opacity="0.6"/><line x1="162.53" y1="41.50" x2="169.35" y2="41.50" stroke="#8a8a8a" stroke-width="0.7" stroke-dasharray="2.4 0.7 1.3 0.6 3.1 0.8 1.8 0.7" opacity="0.6"/><rect x="63.4" y="46.63" width="106.71" height="0.2" fill="#ddd"/><line x1="45.02" y1="44.91" x2="54.12" y2="44.91" stroke="#7a2a14" stroke-width="0.8" stroke-dasharray="2.4 0.7 1.3 0.6 3.1 0.8 1.8 0.7" opacity="0.75"/><line x1="64.35" y1="44.86" x2="74.77" y2="44.86" stroke="#8a8a8a" stroke-width="0.7" stroke-dasharray="2.4 0.7 1.3 0.6 3.1 0.8 1.8 0.7" opacity="0.6"/><line x1="76.1" y1="44.86" x2="85.96" y2="44.86" stroke="#8a8a8a" stroke-width="0.7" stroke-dasharray="2.4 0.7 1.3 0.6 3.1 0.8 1.8 0.7" opacity="0.6"/><line x1="99.41" y1="44.86" x2="106.61" y2="44.86" stroke="#8a8a8a" stroke-width="0.7" stroke-dasharray="2.4 0.7 1.3 0.6 3.1 0.8 1.8 0.7" opacity="0.6"/><line x1="108.89" y1="44.86" x2="117.99" y2="44.86" stroke="#8a8a8a" stroke-width="0.7" stroke-dasharray="2.4 0.7 1.3 0.6 3.1 0.8 1.8 0.7" opacity="0.6"/><line x1="119.69" y1="44.86" x2="129.17" y2="44.86" stroke="#8a8a8a" stroke-width="0.7" stroke-dasharray="2.4 0.7 1.3 0.6 3.1 0.8 1.8 0.7" opacity="0.6"/><line x1="133.53" y1="44.86" x2="141.11" y2="44.86" stroke="#8a8a8a" stroke-width="0.7" stroke-dasharray="2.4 0.7 1.3 0.6 3.1 0.8 1.8 0.7" opacity="0.6"/><line x1="143.01" y1="44.86" x2="149.83" y2="44.86" stroke="#8a8a8a" stroke-width="0.7" stroke-dasharray="2.4 0.7 1.3 0.6 3.1 0.8 1.8 0.7" opacity="0.6"/><rect x="151.91" y="44.51" width="5.69" height="0.7" fill="#8a8a8a" opacity="0.6"/><line x1="162.53" y1="44.86" x2="169.35" y2="44.86" stroke="#8a8a8a" stroke-width="0.7" stroke-dasharray="2.4 0.7 1.3 0.6 3.1 0.8 1.8 0.7" opacity="0.6"/><rect x="63.4" y="49.99" width="106.71" height="0.2" fill="#ddd"/><line x1="45.02" y1="48.27" x2="55.44" y2="48.27" stroke="#7a2a14" stroke-width="0.8" stroke-dasharray="2.4 0.7 1.3 0.6 3.1 0.8 1.8 0.7" opacity="0.75"/><line x1="64.35" y1="48.22" x2="74.77" y2="48.22" stroke="#8a8a8a" stroke-width="0.7" stroke-dasharray="2.4 0.7 1.3 0.6 3.1 0.8 1.8 0.7" opacity="0.6"/><line x1="76.1" y1="48.22" x2="85.96" y2="48.22" stroke="#8a8a8a" stroke-width="0.7" stroke-dasharray="2.4 0.7 1.3 0.6 3.1 0.8 1.8 0.7" opacity="0.6"/><line x1="99.41" y1="48.22" x2="106.61" y2="48.22" stroke="#8a8a8a" stroke-width="0.7" stroke-dasharray="2.4 0.7 1.3 0.6 3.1 0.8 1.8 0.7" opacity="0.6"/><line x1="108.89" y1="48.22" x2="117.99" y2="48.22" stroke="#8a8a8a" stroke-width="0.7" stroke-dasharray="2.4 0.7 1.3 0.6 3.1 0.8 1.8 0.7" opacity="0.6"/><line x1="119.69" y1="48.22" x2="129.17" y2="48.22" stroke="#8a8a8a" stroke-width="0.7" stroke-dasharray="2.4 0.7 1.3 0.6 3.1 0.8 1.8 0.7" opacity="0.6"/><line x1="133.53" y1="48.22" x2="141.11" y2="48.22" stroke="#8a8a8a" stroke-width="0.7" stroke-dasharray="2.4 0.7 1.3 0.6 3.1 0.8 1.8 0.7" opacity="0.6"/><line x1="143.01" y1="48.22" x2="149.83" y2="48.22" stroke="#8a8a8a" stroke-width="0.7" stroke-dasharray="2.4 0.7 1.3 0.6 3.1 0.8 1.8 0.7" opacity="0.6"/><rect x="151.91" y="47.87" width="5.69" height="0.7" fill="#8a8a8a" opacity="0.6"/><line x1="162.53" y1="48.22" x2="169.35" y2="48.22" stroke="#8a8a8a" stroke-width="0.7" stroke-dasharray="2.4 0.7 1.3 0.6 3.1 0.8 1.8 0.7" opacity="0.6"/><rect x="63.4" y="53.36" width="106.71" height="0.2" fill="#ddd"/><line x1="45.02" y1="51.63" x2="52.98" y2="51.63" stroke="#7a2a14" stroke-width="0.8" stroke-dasharray="2.4 0.7 1.3 0.6 3.1 0.8 1.8 0.7" opacity="0.75"/><line x1="64.35" y1="51.58" x2="74.77" y2="51.58" stroke="#8a8a8a" stroke-width="0.7" stroke-dasharray="2.4 0.7 1.3 0.6 3.1 0.8 1.8 0.7" opacity="0.6"/><line x1="76.1" y1="51.58" x2="85.96" y2="51.58" stroke="#8a8a8a" stroke-width="0.7" stroke-dasharray="2.4 0.7 1.3 0.6 3.1 0.8 1.8 0.7" opacity="0.6"/><line x1="99.41" y1="51.58" x2="106.61" y2="51.58" stroke="#8a8a8a" stroke-width="0.7" stroke-dasharray="2.4 0.7 1.3 0.6 3.1 0.8 1.8 0.7" opacity="0.6"/><line x1="108.89" y1="51.58" x2="117.99" y2="51.58" stroke="#8a8a8a" stroke-width="0.7" stroke-dasharray="2.4 0.7 1.3 0.6 3.1 0.8 1.8 0.7" opacity="0.6"/><line x1="119.69" y1="51.58" x2="129.17" y2="51.58" stroke="#8a8a8a" stroke-width="0.7" stroke-dasharray="2.4 0.7 1.3 0.6 3.1 0.8 1.8 0.7" opacity="0.6"/><line x1="133.53" y1="51.58" x2="141.11" y2="51.58" stroke="#8a8a8a" stroke-width="0.7" stroke-dasharray="2.4 0.7 1.3 0.6 3.1 0.8 1.8 0.7" opacity="0.6"/><line x1="143.01" y1="51.58" x2="149.83" y2="51.58" stroke="#8a8a8a" stroke-width="0.7" stroke-dasharray="2.4 0.7 1.3 0.6 3.1 0.8 1.8 0.7" opacity="0.6"/><rect x="151.91" y="51.23" width="5.69" height="0.7" fill="#8a8a8a" opacity="0.6"/><line x1="162.53" y1="51.58" x2="169.35" y2="51.58" stroke="#8a8a8a" stroke-width="0.7" stroke-dasharray="2.4 0.7 1.3 0.6 3.1 0.8 1.8 0.7" opacity="0.6"/><rect x="63.4" y="56.72" width="106.71" height="0.2" fill="#ddd"/><line x1="45.02" y1="54.99" x2="54.31" y2="54.99" stroke="#7a2a14" stroke-width="0.8" stroke-dasharray="2.4 0.7 1.3 0.6 3.1 0.8 1.8 0.7" opacity="0.75"/><line x1="64.35" y1="54.94" x2="74.77" y2="54.94" stroke="#8a8a8a" stroke-width="0.7" stroke-dasharray="2.4 0.7 1.3 0.6 3.1 0.8 1.8 0.7" opacity="0.6"/><line x1="76.1" y1="54.94" x2="85.96" y2="54.94" stroke="#8a8a8a" stroke-width="0.7" stroke-dasharray="2.4 0.7 1.3 0.6 3.1 0.8 1.8 0.7" opacity="0.6"/><line x1="99.41" y1="54.94" x2="106.61" y2="54.94" stroke="#8a8a8a" stroke-width="0.7" stroke-dasharray="2.4 0.7 1.3 0.6 3.1 0.8 1.8 0.7" opacity="0.6"/><line x1="108.89" y1="54.94" x2="117.99" y2="54.94" stroke="#8a8a8a" stroke-width="0.7" stroke-dasharray="2.4 0.7 1.3 0.6 3.1 0.8 1.8 0.7" opacity="0.6"/><line x1="119.69" y1="54.94" x2="129.17" y2="54.94" stroke="#8a8a8a" stroke-width="0.7" stroke-dasharray="2.4 0.7 1.3 0.6 3.1 0.8 1.8 0.7" opacity="0.6"/><line x1="133.53" y1="54.94" x2="141.11" y2="54.94" stroke="#8a8a8a" stroke-width="0.7" stroke-dasharray="2.4 0.7 1.3 0.6 3.1 0.8 1.8 0.7" opacity="0.6"/><line x1="143.01" y1="54.94" x2="149.83" y2="54.94" stroke="#8a8a8a" stroke-width="0.7" stroke-dasharray="2.4 0.7 1.3 0.6 3.1 0.8 1.8 0.7" opacity="0.6"/><rect x="151.91" y="54.59" width="5.69" height="0.7" fill="#8a8a8a" opacity="0.6"/><line x1="162.53" y1="54.94" x2="169.35" y2="54.94" stroke="#8a8a8a" stroke-width="0.7" stroke-dasharray="2.4 0.7 1.3 0.6 3.1 0.8 1.8 0.7" opacity="0.6"/><rect x="63.4" y="60.08" width="106.71" height="0.2" fill="#ddd"/><line x1="45.02" y1="58.35" x2="55.63" y2="58.35" stroke="#7a2a14" stroke-width="0.8" stroke-dasharray="2.4 0.7 1.3 0.6 3.1 0.8 1.8 0.7" opacity="0.75"/><line x1="64.35" y1="58.30" x2="74.77" y2="58.30" stroke="#8a8a8a" stroke-width="0.7" stroke-dasharray="2.4 0.7 1.3 0.6 3.1 0.8 1.8 0.7" opacity="0.6"/><line x1="76.1" y1="58.30" x2="85.96" y2="58.30" stroke="#8a8a8a" stroke-width="0.7" stroke-dasharray="2.4 0.7 1.3 0.6 3.1 0.8 1.8 0.7" opacity="0.6"/><line x1="99.41" y1="58.30" x2="106.61" y2="58.30" stroke="#8a8a8a" stroke-width="0.7" stroke-dasharray="2.4 0.7 1.3 0.6 3.1 0.8 1.8 0.7" opacity="0.6"/><line x1="108.89" y1="58.30" x2="117.99" y2="58.30" stroke="#8a8a8a" stroke-width="0.7" stroke-dasharray="2.4 0.7 1.3 0.6 3.1 0.8 1.8 0.7" opacity="0.6"/><line x1="119.69" y1="58.30" x2="129.17" y2="58.30" stroke="#8a8a8a" stroke-width="0.7" stroke-dasharray="2.4 0.7 1.3 0.6 3.1 0.8 1.8 0.7" opacity="0.6"/><line x1="133.53" y1="58.30" x2="141.11" y2="58.30" stroke="#8a8a8a" stroke-width="0.7" stroke-dasharray="2.4 0.7 1.3 0.6 3.1 0.8 1.8 0.7" opacity="0.6"/><line x1="143.01" y1="58.30" x2="149.83" y2="58.30" stroke="#8a8a8a" stroke-width="0.7" stroke-dasharray="2.4 0.7 1.3 0.6 3.1 0.8 1.8 0.7" opacity="0.6"/><rect x="151.91" y="57.95" width="5.69" height="0.7" fill="#8a8a8a" opacity="0.6"/><line x1="162.53" y1="58.30" x2="169.35" y2="58.30" stroke="#8a8a8a" stroke-width="0.7" stroke-dasharray="2.4 0.7 1.3 0.6 3.1 0.8 1.8 0.7" opacity="0.6"/><line x1="1.23" y1="11.30" x2="10.33" y2="11.30" stroke="#7a6010" stroke-width="0.8" stroke-dasharray="2.4 0.7 1.3 0.6 3.1 0.8 1.8 0.7" opacity="0.7"/><line x1="1.23" y1="28.10" x2="16.39" y2="28.10" stroke="#7a6010" stroke-width="0.8" stroke-dasharray="2.4 0.7 1.3 0.6 3.1 0.8 1.8 0.7" opacity="0.7"/><line x1="1.23" y1="44.91" x2="29.66" y2="44.91" stroke="#7a6010" stroke-width="0.8" stroke-dasharray="2.4 0.7 1.3 0.6 3.1 0.8 1.8 0.7" opacity="0.7"/><rect x="75.34" y="9.76" width="0.2" height="50.42" fill="#e2e2e2"/><rect x="86.71" y="9.76" width="0.2" height="50.42" fill="#e2e2e2"/><rect x="107.56" y="9.76" width="0.2" height="50.42" fill="#e2e2e2"/><rect x="118.75" y="9.76" width="0.2" height="50.42" fill="#e2e2e2"/><rect x="130.69" y="9.76" width="0.2" height="50.42" fill="#e2e2e2"/><rect x="142.06" y="9.76" width="0.2" height="50.42" fill="#e2e2e2"/><rect x="150.78" y="9.76" width="0.2" height="50.42" fill="#e2e2e2"/><rect x="158.74" y="9.76" width="0.2" height="50.42" fill="#e2e2e2"/></svg></div><div class="bars"><i style="left:0;height:13px"></i><i style="left:5.500px;height:8.500px"></i><i style="left:11px;height:15px"></i></div><div class="ttl" style="transform:scaleX(0.894)">acc 2'</div><svg class="stars" width="70" height="11" viewBox="0 0 70 11" fill="#333" stroke="#333" stroke-width="0.9" stroke-linejoin="round"><polygon points="5.50,1.00 6.73,3.60 9.59,3.97 7.50,5.95 8.03,8.78 5.50,7.40 2.97,8.78 3.50,5.95 1.41,3.97 4.27,3.60"/><polygon points="19.50,1.00 20.73,3.60 23.59,3.97 21.50,5.95 22.03,8.78 19.50,7.40 16.97,8.78 17.50,5.95 15.41,3.97 18.27,3.60"/><polygon points="33.50,1.00 34.73,3.60 37.59,3.97 35.50,5.95 36.03,8.78 33.50,7.40 30.97,8.78 31.50,5.95 29.41,3.97 32.27,3.60"/><polygon points="47.50,1.00 48.73,3.60 51.59,3.97 49.50,5.95 50.03,8.78 47.50,7.40 44.97,8.78 45.50,5.95 43.41,3.97 46.27,3.60"/><polygon points="61.50,1.00 62.73,3.60 65.59,3.97 63.50,5.95 64.03,8.78 61.50,7.40 58.97,8.78 59.50,5.95 57.41,3.97 60.27,3.60"/></svg><svg class="cube" viewBox="0 0 17 18"><use href="#cube"/></svg><div class="keb"><i style="top:0"></i><i style="top:6px"></i><i style="top:12px"></i></div></div>
<div class="card" style="left:285px;top:210px"><div class="img" style="background:#fff"><svg style="left:0;top:0" width="206" height="116" viewBox="0 0 206 116"><line x1="0.8" y1="1.50" x2="30.80" y2="1.50" stroke="#999" stroke-width="0.6" stroke-dasharray="2.4 0.7 1.3 0.6 3.1 0.8 1.8 0.7" opacity="0.8"/><rect x="0.85" y="2.75" width="49.28" height="3.22" fill="#2ea6da"/><rect x="0.85" y="5.97" width="18.96" height="20.47" fill="#f5c93a"/><line x1="1.23" y1="4.24" x2="8.43" y2="4.24" stroke="#155a80" stroke-width="0.7" stroke-dasharray="2.4 0.7 1.3 0.6 3.1 0.8 1.8 0.7" opacity="0.7"/><line x1="20.38" y1="4.24" x2="30.80" y2="4.24" stroke="#155a80" stroke-width="0.7" stroke-dasharray="2.4 0.7 1.3 0.6 3.1 0.8 1.8 0.7" opacity="0.7"/><line x1="35.92" y1="4.24" x2="44.45" y2="4.24" stroke="#155a80" stroke-width="0.7" stroke-dasharray="2.4 0.7 1.3 0.6 3.1 0.8 1.8 0.7" opacity="0.7"/><line x1="1.23" y1="7.70" x2="8.43" y2="7.70" stroke="#7a6010" stroke-width="0.8" stroke-dasharray="2.4 0.7 1.3 0.6 3.1 0.8 1.8 0.7" opacity="0.7"/><line x1="26.44" y1="7.65" x2="34.40" y2="7.65" stroke="#888" stroke-width="0.7" stroke-dasharray="2.4 0.7 1.3 0.6 3.1 0.8 1.8 0.7" opacity="0.65"/><line x1="37.81" y1="7.65" x2="49.56" y2="7.65" stroke="#888" stroke-width="0.7" stroke-dasharray="2.4 0.7 1.3 0.6 3.1 0.8 1.8 0.7" opacity="0.65"/><rect x="19.81" y="9.28" width="30.32" height="0.2" fill="#ddd"/><line x1="1.23" y1="11.11" x2="7.67" y2="11.11" stroke="#7a6010" stroke-width="0.8" stroke-dasharray="2.4 0.7 1.3 0.6 3.1 0.8 1.8 0.7" opacity="0.7"/><line x1="26.44" y1="11.06" x2="34.40" y2="11.06" stroke="#888" stroke-width="0.7" stroke-dasharray="2.4 0.7 1.3 0.6 3.1 0.8 1.8 0.7" opacity="0.65"/><line x1="37.81" y1="11.06" x2="49.56" y2="11.06" stroke="#888" stroke-width="0.7" stroke-dasharray="2.4 0.7 1.3 0.6 3.1 0.8 1.8 0.7" opacity="0.65"/><rect x="19.81" y="12.69" width="30.32" height="0.2" fill="#ddd"/><rect x="1.23" y="14.12" width="5.69" height="0.8" fill="#7a6010" opacity="0.7"/><line x1="26.44" y1="14.47" x2="34.40" y2="14.47" stroke="#888" stroke-width="0.7" stroke-dasharray="2.4 0.7 1.3 0.6 3.1 0.8 1.8 0.7" opacity="0.65"/><line x1="37.81" y1="14.47" x2="49.56" y2="14.47" stroke="#888" stroke-width="0.7" stroke-dasharray="2.4 0.7 1.3 0.6 3.1 0.8 1.8 0.7" opacity="0.65"/><rect x="19.81" y="16.11" width="30.32" height="0.2" fill="#ddd"/><line x1="1.23" y1="17.93" x2="8.43" y2="17.93" stroke="#7a6010" stroke-width="0.8" stroke-dasharray="2.4 0.7 1.3 0.6 3.1 0.8 1.8 0.7" opacity="0.7"/><line x1="26.44" y1="17.88" x2="34.40" y2="17.88" stroke="#888" stroke-width="0.7" stroke-dasharray="2.4 0.7 1.3 0.6 3.1 0.8 1.8 0.7" opacity="0.65"/><line x1="37.81" y1="17.88" x2="49.56" y2="17.88" stroke="#888" stroke-width="0.7" stroke-dasharray="2.4 0.7 1.3 0.6 3.1 0.8 1.8 0.7" opacity="0.65"/><rect x="19.81" y="19.52" width="30.32" height="0.2" fill="#ddd"/><line x1="1.23" y1="21.34" x2="14.50" y2="21.34" stroke="#7a6010" stroke-width="0.8" stroke-dasharray="2.4 0.7 1.3 0.6 3.1 0.8 1.8 0.7" opacity="0.7"/><line x1="26.44" y1="21.29" x2="34.40" y2="21.29" stroke="#888" stroke-width="0.7" stroke-dasharray="2.4 0.7 1.3 0.6 3.1 0.8 1.8 0.7" opacity="0.65"/><line x1="37.81" y1="21.29" x2="49.56" y2="21.29" stroke="#888" stroke-width="0.7" stroke-dasharray="2.4 0.7 1.3 0.6 3.1 0.8 1.8 0.7" opacity="0.65"/><rect x="19.81" y="22.93" width="30.32" height="0.2" fill="#ddd"/><line x1="1.23" y1="24.76" x2="12.60" y2="24.76" stroke="#7a6010" stroke-width="0.8" stroke-dasharray="2.4 0.7 1.3 0.6 3.1 0.8 1.8 0.7" opacity="0.7"/><line x1="24.55" y1="24.71" x2="34.41" y2="24.71" stroke="#888" stroke-width="0.7" stroke-dasharray="2.4 0.7 1.3 0.6 3.1 0.8 1.8 0.7" opacity="0.65"/><line x1="36.3" y1="24.71" x2="49.57" y2="24.71" stroke="#888" stroke-width="0.7" stroke-dasharray="2.4 0.7 1.3 0.6 3.1 0.8 1.8 0.7" opacity="0.65"/><rect x="19.81" y="26.34" width="30.32" height="0.2" fill="#ddd"/><rect x="35.35" y="5.97" width="0.2" height="20.47" fill="#ddd"/></svg></div><div class="bars"><i style="left:0;height:13px"></i><i style="left:5.500px;height:8.500px"></i><i style="left:11px;height:15px"></i></div><div class="ttl" style="transform:scaleX(0.883)">api3</div><svg class="stars" width="70" height="11" viewBox="0 0 70 11" fill="#333" stroke="#333" stroke-width="0.9" stroke-linejoin="round"><polygon points="5.50,1.00 6.73,3.60 9.59,3.97 7.50,5.95 8.03,8.78 5.50,7.40 2.97,8.78 3.50,5.95 1.41,3.97 4.27,3.60"/><polygon points="19.50,1.00 20.73,3.60 23.59,3.97 21.50,5.95 22.03,8.78 19.50,7.40 16.97,8.78 17.50,5.95 15.41,3.97 18.27,3.60"/><polygon points="33.50,1.00 34.73,3.60 37.59,3.97 35.50,5.95 36.03,8.78 33.50,7.40 30.97,8.78 31.50,5.95 29.41,3.97 32.27,3.60"/><polygon points="47.50,1.00 48.73,3.60 51.59,3.97 49.50,5.95 50.03,8.78 47.50,7.40 44.97,8.78 45.50,5.95 43.41,3.97 46.27,3.60"/><polygon points="61.50,1.00 62.73,3.60 65.59,3.97 63.50,5.95 64.03,8.78 61.50,7.40 58.97,8.78 59.50,5.95 57.41,3.97 60.27,3.60"/></svg><svg class="cube" viewBox="0 0 17 18"><use href="#cube"/></svg><div class="keb"><i style="top:0"></i><i style="top:6px"></i><i style="top:12px"></i></div></div>
<div class="card" style="left:504px;top:210px"><div class="img" style="background:#fff"><svg style="left:0;top:0" width="206" height="116" viewBox="0 0 206 116"><line x1="0.8" y1="1.50" x2="137.80" y2="1.50" stroke="#999" stroke-width="0.6" stroke-dasharray="2.4 0.7 1.3 0.6 3.1 0.8 1.8 0.7" opacity="0.8"/><line x1="0.8" y1="4.70" x2="37.80" y2="4.70" stroke="#aaa" stroke-width="0.6" stroke-dasharray="2.4 0.7 1.3 0.6 3.1 0.8 1.8 0.7" opacity="0.8"/><line x1="0.8" y1="61.10" x2="39.80" y2="61.10" stroke="#aaa" stroke-width="0.6" stroke-dasharray="2.4 0.7 1.3 0.6 3.1 0.8 1.8 0.7" opacity="0.8"/><line x1="180.34" y1="17.83" x2="191.34" y2="17.83" stroke="#999" stroke-width="0.6" stroke-dasharray="2.4 0.7 1.3 0.6 3.1 0.8 1.8 0.7" opacity="0.8"/><rect x="180.91" y="20.19" width="1" height="1.2" fill="#2ea6da"/><line x1="182.81" y1="20.68" x2="196.08" y2="20.68" stroke="#aaa" stroke-width="0.6" stroke-dasharray="2.4 0.7 1.3 0.6 3.1 0.8 1.8 0.7" opacity="0.8"/><rect x="180.91" y="21.70" width="1" height="1.2" fill="#f5c93a"/><line x1="182.81" y1="22.19" x2="194.94" y2="22.19" stroke="#aaa" stroke-width="0.6" stroke-dasharray="2.4 0.7 1.3 0.6 3.1 0.8 1.8 0.7" opacity="0.8"/><rect x="180.91" y="23.22" width="1" height="1.2" fill="#3fb59a"/><line x1="182.81" y1="23.71" x2="193.80" y2="23.71" stroke="#aaa" stroke-width="0.6" stroke-dasharray="2.4 0.7 1.3 0.6 3.1 0.8 1.8 0.7" opacity="0.8"/><rect x="180.91" y="24.73" width="1" height="1.2" fill="#e0603a"/><line x1="182.81" y1="25.22" x2="192.67" y2="25.22" stroke="#aaa" stroke-width="0.6" stroke-dasharray="2.4 0.7 1.3 0.6 3.1 0.8 1.8 0.7" opacity="0.8"/><rect x="180.91" y="26.25" width="1" height="1.2" fill="#e08a6a"/><line x1="182.81" y1="26.74" x2="191.53" y2="26.74" stroke="#aaa" stroke-width="0.6" stroke-dasharray="2.4 0.7 1.3 0.6 3.1 0.8 1.8 0.7" opacity="0.8"/><path d="M2.75,49.56 L2.75,49.56 C2.96,47.81 2.03,46.27 3.7,41.6 C5.37,36.93 7.62,28.13 10.33,28.34 C13.04,28.55 14.14,39.21 16.02,42.55 C17.90,45.89 17.19,47.04 18.86,43.5 C20.53,39.96 21.31,29.36 23.6,26.44 C25.89,23.52 27.20,26.69 29.28,30.23 C31.36,33.77 30.36,39.21 33.07,42.55 C35.78,45.89 36.80,44.56 41.6,45.39 C46.40,46.22 49.87,46.76 54.87,46.34 C59.87,45.92 61.76,45.79 64.35,43.5 C66.94,41.21 65.58,42.38 66.62,35.92 C67.66,29.46 67.84,14.12 69.09,14.12 C70.34,14.12 70.77,29.79 72.31,35.92 C73.85,42.05 73.68,40.31 76.1,41.98 C78.52,43.65 78.80,43.79 83.3,43.5 C87.80,43.21 92.82,42.33 96.57,40.66 C100.32,38.99 98.69,38.21 100.36,35.92 C102.03,33.63 102.48,30.23 104.15,30.23 C105.82,30.23 106.27,33.00 107.94,35.92 C109.61,38.84 106.73,40.91 111.73,43.5 C116.73,46.09 120.68,46.34 130.69,47.67 C140.70,49.00 150.76,48.31 157.22,49.56 C163.68,50.81 158.81,53.35 160.06,53.35 C161.31,53.35 162.28,50.39 162.91,49.56 L162.91,49.56Z" fill="#3fb59a" opacity="0.62"/><path d="M26.44,49.56 L26.44,49.56 C27.27,48.23 28.14,49.09 30.23,43.5 C32.32,37.91 33.63,25.00 35.92,24.17 C38.21,23.34 38.58,35.04 40.66,39.71 C42.74,44.38 41.01,43.93 45.39,45.39 C49.77,46.85 53.47,47.17 60.56,46.34 C67.65,45.51 72.62,45.98 77.62,41.6 C82.62,37.22 80.80,31.23 83.3,26.44 C85.80,21.65 86.49,19.81 88.99,19.81 C91.49,19.81 92.17,22.27 94.67,26.44 C97.17,30.61 97.65,37.09 100.36,38.76 C103.07,40.43 103.65,36.31 106.99,34.02 C110.33,31.73 111.98,28.96 115.52,28.34 C119.06,27.72 120.18,28.68 123.1,31.18 C126.02,33.68 126.29,37.21 128.79,39.71 C131.29,42.21 131.98,42.55 134.48,42.55 C136.98,42.55 137.66,42.00 140.16,39.71 C142.66,37.42 143.35,32.34 145.85,32.13 C148.35,31.92 144.79,37.30 151.54,38.76 C158.29,40.22 171.05,38.76 176.55,38.76 L176.55,49.56Z" fill="#2ea6da" opacity="0.68"/><path d="M5.59,49.56 L5.59,49.56 C6.84,48.64 9.19,49.85 11.28,45.39 C13.37,40.93 13.40,29.28 15.07,29.28 C16.74,29.28 16.36,41.34 18.86,45.39 C21.36,49.44 21.85,48.50 26.44,47.67 C31.03,46.84 35.96,47.31 39.71,41.6 C43.46,35.89 41.83,21.91 43.5,21.7 C45.17,21.49 45.00,35.86 47.29,40.66 C49.58,45.46 51.21,46.42 53.92,43.5 C56.63,40.58 57.32,27.39 59.61,27.39 C61.90,27.39 61.22,39.75 64.35,43.5 C67.48,47.25 70.48,45.49 73.82,44.45 C77.16,43.41 77.63,41.26 79.51,38.76 C81.39,36.26 81.31,33.07 82.35,33.07 C83.39,33.07 82.37,41.26 84.25,38.76 C86.13,36.26 87.96,21.91 90.88,21.7 C93.80,21.49 94.60,32.60 97.52,37.81 C100.44,43.02 99.36,44.56 104.15,45.39 C108.94,46.22 115.14,44.10 119.31,41.6 C123.48,39.10 121.51,37.02 123.1,34.02 C124.69,31.02 124.93,26.50 126.52,27.96 C128.11,29.42 127.72,36.32 130.31,40.66 C132.90,45.00 131.52,45.71 138.27,47.67 C145.02,49.63 155.17,48.98 161.01,49.56 C166.85,50.14 161.38,49.44 164.8,50.32 C168.22,51.20 173.97,52.83 176.55,53.54 L176.55,49.56Z" fill="#f5c93a" opacity="0.72"/><path d="M128.79,49.56 L128.79,49.56 C128.87,47.60 128.55,43.74 129.17,40.66 C129.79,37.58 130.25,35.96 131.63,35.54 C133.00,35.12 133.88,39.09 135.42,38.76 C136.96,38.43 137.27,33.19 138.65,34.02 C140.03,34.85 140.72,39.13 141.68,42.55 C142.64,45.97 142.72,48.02 143.01,49.56 L143.01,49.56Z" fill="#e08a6a" opacity="0.85"/><path d="M18.86,49.56 L18.86,49.56 C18.94,48.85 17.57,48.51 19.24,46.34 C20.91,44.17 23.81,39.42 26.44,39.71 C29.07,40.00 27.84,46.42 31.18,47.67 C34.52,48.92 37.01,47.98 41.6,45.39 C46.19,42.80 48.90,35.92 52.03,35.92 C55.16,35.92 53.53,42.80 55.82,45.39 C58.11,47.98 58.70,48.29 62.45,47.67 C66.20,47.05 68.71,43.05 72.88,42.55 C77.05,42.05 76.20,47.27 81.41,45.39 C86.62,43.51 91.98,34.44 96.57,34.02 C101.16,33.60 99.97,43.50 102.26,43.5 C104.55,43.50 104.91,35.06 106.99,34.02 C109.07,32.98 109.02,36.67 111.73,38.76 C114.44,40.85 115.14,42.04 119.31,43.5 C123.48,44.96 126.52,47.48 130.69,45.39 C134.86,43.30 135.77,34.02 138.27,34.02 C140.77,34.02 139.98,44.14 142.06,45.39 C144.14,46.64 145.65,40.13 147.74,39.71 C149.83,39.29 149.87,43.83 151.54,43.5 C153.21,43.17 153.46,38.19 155.33,38.19 C157.20,38.19 158.06,43.67 160.06,43.5 C162.06,43.33 162.54,37.64 164.42,37.43 C166.30,37.22 166.76,42.67 168.59,42.55 C170.42,42.43 171.01,37.49 172.76,36.87 C174.51,36.25 175.72,39.09 176.55,39.71 L176.55,49.56Z" fill="#c9793a" opacity="0.88"/><path d="M2.75,114.95 L2.75,114.95 C2.83,111.95 1.67,105.27 3.13,101.31 C4.59,97.35 5.92,97.99 9.38,96.95 C12.84,95.91 15.94,97.49 18.86,96.57 C21.78,95.65 21.40,94.45 22.65,92.78 C23.90,91.11 23.51,90.33 24.55,88.99 C25.59,87.65 26.14,85.88 27.39,86.71 C28.64,87.54 28.35,88.94 30.23,92.78 C32.11,96.62 30.50,100.40 35.92,104.15 C41.34,107.90 48.62,109.42 54.87,109.84 C61.12,110.26 61.76,109.80 64.35,106.05 C66.94,102.30 65.58,99.37 66.62,92.78 C67.66,86.19 67.92,75.27 69.09,76.1 C70.26,76.93 70.89,89.57 71.93,96.57 C72.97,103.57 69.23,105.44 73.82,107.94 C78.41,110.44 87.36,109.61 92.78,107.94 C98.20,106.27 95.96,105.57 98.46,100.36 C100.96,95.15 102.06,85.92 104.15,84.25 C106.24,82.58 106.27,92.16 107.94,92.78 C109.61,93.40 110.39,90.22 111.73,87.09 C113.07,83.96 112.84,77.31 114.01,78.56 C115.18,79.81 115.46,85.90 117.04,92.78 C118.62,99.66 118.21,104.96 121.21,109.84 C124.21,114.72 128.60,113.83 130.69,114.95 L130.69,114.95Z" fill="#3fb59a" opacity="0.62"/><path d="M26.44,114.95 L26.44,114.95 C27.48,110.07 29.09,98.91 31.18,92.78 C33.27,86.65 33.63,87.09 35.92,87.09 C38.21,87.09 39.52,89.03 41.6,92.78 C43.68,96.53 42.47,100.81 45.39,104.15 C48.31,107.49 49.45,107.94 54.87,107.94 C60.29,107.94 65.86,106.65 70.03,104.15 C74.20,101.65 72.15,97.19 73.82,96.57 C75.49,95.95 75.53,102.14 77.62,101.31 C79.71,100.48 80.80,95.49 83.3,92.78 C85.80,90.07 86.70,88.57 88.99,88.99 C91.28,89.41 91.65,91.33 93.73,94.67 C95.81,98.01 95.54,105.40 98.46,104.15 C101.38,102.90 104.40,95.16 106.99,88.99 C109.58,82.82 108.76,76.52 110.22,76.1 C111.68,75.68 111.21,85.30 113.63,87.09 C116.05,88.88 118.29,81.33 121.21,84.25 C124.13,87.17 123.98,95.98 126.9,100.36 C129.82,104.74 131.14,104.98 134.48,104.15 C137.82,103.32 139.35,99.07 142.06,96.57 C144.77,94.07 144.71,92.78 146.8,92.78 C148.89,92.78 148.83,94.90 151.54,96.57 C154.25,98.24 156.20,100.03 159.12,100.36 C162.04,100.69 160.97,98.59 164.8,98.09 C168.63,97.59 173.97,98.09 176.55,98.09 L176.55,114.95Z" fill="#2ea6da" opacity="0.68"/><path d="M5.59,114.95 L5.59,114.95 C5.80,113.83 3.83,114.93 6.54,109.84 C9.25,104.75 14.78,92.25 17.91,91.83 C21.04,91.41 17.62,103.56 20.75,107.94 C23.88,112.32 27.88,113.40 32.13,111.73 C36.38,110.06 37.80,107.86 40.09,100.36 C42.38,92.86 41.72,85.13 42.55,77.62 C43.38,70.11 43.26,65.82 43.88,66.24 C44.50,66.66 44.56,72.84 45.39,79.51 C46.22,86.18 46.21,93.86 47.67,96.57 C49.13,99.28 48.78,92.66 52.03,91.83 C55.28,91.00 59.32,90.07 62.45,92.78 C65.58,95.49 63.74,100.40 66.24,104.15 C68.74,107.90 71.32,110.67 73.82,109.84 C76.32,109.01 76.03,104.32 77.62,100.36 C79.21,96.40 78.95,92.87 81.03,91.83 C83.11,90.79 84.09,92.91 87.09,95.62 C90.09,98.33 90.92,101.02 94.67,104.15 C98.42,107.28 99.15,110.67 104.15,109.84 C109.16,109.01 113.75,104.53 117.42,100.36 C121.09,96.19 119.58,94.01 120.83,90.88 C122.08,87.75 121.56,84.05 123.1,86.14 C124.64,88.23 125.34,95.15 127.84,100.36 C130.34,105.57 130.94,109.22 134.48,109.84 C138.02,110.46 141.03,102.78 143.95,103.2 C146.87,103.62 146.49,109.15 147.74,111.73 C148.99,114.31 149.22,114.24 149.64,114.95 L149.64,114.95Z" fill="#f5c93a" opacity="0.72"/><path d="M18.48,114.95 L18.48,114.95 C18.65,110.91 18.11,102.36 19.24,96.57 C20.37,90.78 21.60,89.44 23.6,88.61 C25.60,87.78 26.26,88.53 28.34,92.78 C30.42,97.03 31.40,103.06 33.07,107.94 C34.74,112.82 35.29,113.41 35.92,114.95 L35.92,114.95Z" fill="#d9745a" opacity="0.8"/><path d="M128.79,114.95 L128.79,114.95 C128.87,110.91 128.67,102.28 129.17,96.57 C129.67,90.86 129.82,87.32 131.07,88.99 C132.32,90.66 133.19,103.32 134.86,104.15 C136.53,104.98 137.07,91.74 138.65,92.78 C140.23,93.82 139.64,105.55 142.06,108.89 C144.48,112.23 146.72,111.28 149.64,107.94 C152.56,104.60 151.99,96.23 155.33,93.73 C158.67,91.23 162.09,93.86 164.8,96.57 C167.51,99.28 166.40,102.01 167.65,106.05 C168.90,110.09 169.87,112.99 170.49,114.95 L170.49,114.95Z" fill="#d9745a" opacity="0.7"/><path d="M18.86,114.95 L18.86,114.95 C18.94,112.57 17.99,109.03 19.24,104.15 C20.49,99.27 22.55,94.45 24.55,92.78 C26.55,91.11 26.47,92.82 28.34,96.57 C30.21,100.32 30.15,107.13 33.07,109.84 C35.99,112.55 38.26,111.39 41.6,108.89 C44.94,106.39 45.74,101.17 48.24,98.46 C50.74,95.75 51.10,93.86 52.98,96.57 C54.86,99.28 52.60,107.86 56.77,110.78 C60.94,113.70 67.34,111.71 71.93,109.84 C76.52,107.97 74.28,103.09 77.62,102.26 C80.96,101.43 83.75,104.38 87.09,106.05 C90.43,107.72 90.61,112.55 92.78,109.84 C94.95,107.13 95.07,94.15 96.95,93.73 C98.83,93.31 99.31,108.15 101.31,107.94 C103.31,107.73 102.09,95.07 106.05,92.78 C110.01,90.49 114.31,95.43 119.31,97.52 C124.31,99.61 125.37,100.38 128.79,102.26 C132.21,104.14 131.94,104.38 134.86,106.05 C137.78,107.72 138.81,109.42 142.06,109.84 C145.31,110.26 146.72,108.77 149.64,107.94 C152.56,107.11 151.99,106.67 155.33,106.05 C158.67,105.43 160.13,105.31 164.8,105.1 C169.47,104.89 173.97,105.10 176.55,105.1 L176.55,114.95Z" fill="#c9793a" opacity="0.85"/></svg></div><div class="bars"><i style="left:0;height:13px"></i><i style="left:5.500px;height:8.500px"></i><i style="left:11px;height:15px"></i></div><div class="ttl" style="transform:scaleX(0.904)">Area+Forecast</div><svg class="stars" width="70" height="11" viewBox="0 0 70 11" fill="#333" stroke="#333" stroke-width="0.9" stroke-linejoin="round"><polygon points="5.50,1.00 6.73,3.60 9.59,3.97 7.50,5.95 8.03,8.78 5.50,7.40 2.97,8.78 3.50,5.95 1.41,3.97 4.27,3.60"/><polygon points="19.50,1.00 20.73,3.60 23.59,3.97 21.50,5.95 22.03,8.78 19.50,7.40 16.97,8.78 17.50,5.95 15.41,3.97 18.27,3.60"/><polygon points="33.50,1.00 34.73,3.60 37.59,3.97 35.50,5.95 36.03,8.78 33.50,7.40 30.97,8.78 31.50,5.95 29.41,3.97 32.27,3.60"/><polygon points="47.50,1.00 48.73,3.60 51.59,3.97 49.50,5.95 50.03,8.78 47.50,7.40 44.97,8.78 45.50,5.95 43.41,3.97 46.27,3.60"/><polygon points="61.50,1.00 62.73,3.60 65.59,3.97 63.50,5.95 64.03,8.78 61.50,7.40 58.97,8.78 59.50,5.95 57.41,3.97 60.27,3.60"/></svg><svg class="cube" viewBox="0 0 17 18"><use href="#cube"/></svg><div class="keb"><i style="top:0"></i><i style="top:6px"></i><i style="top:12px"></i></div></div>
<div class="card" style="left:723px;top:210px"><div class="img" style="background:#fff"><svg style="left:0;top:0" width="206" height="116" viewBox="0 0 206 116"><line x1="0.8" y1="1.50" x2="47.80" y2="1.50" stroke="#999" stroke-width="0.6" stroke-dasharray="2.4 0.7 1.3 0.6 3.1 0.8 1.8 0.7" opacity="0.8"/><line x1="177.69" y1="1.15" x2="186.69" y2="1.15" stroke="#999" stroke-width="0.6" stroke-dasharray="2.4 0.7 1.3 0.6 3.1 0.8 1.8 0.7" opacity="0.8"/><rect x="178.07" y="3.70" width="1.3" height="1.3" fill="#2ea6da"/><line x1="179.97" y1="4.56" x2="188.97" y2="4.56" stroke="#999" stroke-width="0.6" stroke-dasharray="2.4 0.7 1.3 0.6 3.1 0.8 1.8 0.7" opacity="0.8"/><rect x="178.07" y="5.97" width="1.3" height="1.3" fill="#f5c93a"/><line x1="179.97" y1="6.84" x2="194.97" y2="6.84" stroke="#999" stroke-width="0.6" stroke-dasharray="2.4 0.7 1.3 0.6 3.1 0.8 1.8 0.7" opacity="0.8"/><rect x="178.07" y="8.24" width="1.3" height="1.3" fill="#3fb59a"/><line x1="179.97" y1="9.11" x2="190.97" y2="9.11" stroke="#999" stroke-width="0.6" stroke-dasharray="2.4 0.7 1.3 0.6 3.1 0.8 1.8 0.7" opacity="0.8"/><rect x="178.07" y="10.52" width="1.3" height="1.3" fill="#e0603a"/><line x1="179.97" y1="11.39" x2="191.97" y2="11.39" stroke="#999" stroke-width="0.6" stroke-dasharray="2.4 0.7 1.3 0.6 3.1 0.8 1.8 0.7" opacity="0.8"/><rect x="178.07" y="12.79" width="1.3" height="1.3" fill="#8468b8"/><line x1="179.97" y1="13.66" x2="195.97" y2="13.66" stroke="#999" stroke-width="0.6" stroke-dasharray="2.4 0.7 1.3 0.6 3.1 0.8 1.8 0.7" opacity="0.8"/><rect x="1.42" y="4.26" width="4.17" height="0.6" fill="#aaa" opacity="0.8"/><rect x="18.29" y="7.87" width="5.31" height="16.68" fill="#2ea6da"/><rect x="24.26" y="15.07" width="5.31" height="9.48" fill="#f5c93a"/><rect x="36.2" y="14.12" width="5.31" height="10.42" fill="#e0603a"/><rect x="42.17" y="20.75" width="5.31" height="3.79" fill="#8468b8"/><rect x="49.94" y="22.65" width="5.31" height="1.90" fill="#2ea6da"/><rect x="61.88" y="24.17" width="5.31" height="0.38" fill="#3fb59a"/><rect x="67.85" y="13.55" width="5.31" height="10.99" fill="#e0603a"/><rect x="73.82" y="23.41" width="5.31" height="1.14" fill="#8468b8"/><rect x="113.06" y="23.79" width="5.31" height="0.76" fill="#2ea6da"/><rect x="125.0" y="24.17" width="5.31" height="0.38" fill="#3fb59a"/><rect x="130.97" y="18.86" width="5.31" height="5.69" fill="#e0603a"/><rect x="156.84" y="23.79" width="5.31" height="0.76" fill="#3fb59a"/><rect x="162.81" y="21.7" width="5.31" height="2.84" fill="#e0603a"/><rect x="168.78" y="16.39" width="5.31" height="8.15" fill="#8468b8"/><line x1="1.42" y1="26.93" x2="9.00" y2="26.93" stroke="#aaa" stroke-width="0.6" stroke-dasharray="2.4 0.7 1.3 0.6 3.1 0.8 1.8 0.7" opacity="0.8"/><rect x="18.29" y="36.11" width="5.31" height="10.80" fill="#2ea6da"/><rect x="24.26" y="31.18" width="5.31" height="15.73" fill="#f5c93a"/><rect x="30.23" y="45.96" width="5.31" height="0.95" fill="#3fb59a"/><rect x="49.94" y="31.18" width="5.31" height="15.73" fill="#2ea6da"/><rect x="55.91" y="38.57" width="5.31" height="8.34" fill="#f5c93a"/><rect x="81.6" y="33.83" width="5.31" height="13.08" fill="#2ea6da"/><rect x="87.57" y="43.88" width="5.31" height="3.03" fill="#f5c93a"/><rect x="93.54" y="39.14" width="5.31" height="7.77" fill="#3fb59a"/><rect x="99.51" y="43.12" width="5.31" height="3.79" fill="#e0603a"/><rect x="113.06" y="38.57" width="5.31" height="8.34" fill="#2ea6da"/><rect x="119.03" y="45.02" width="5.31" height="1.90" fill="#f5c93a"/><rect x="144.9" y="37.05" width="5.31" height="9.86" fill="#2ea6da"/><rect x="150.87" y="35.16" width="5.31" height="11.75" fill="#f5c93a"/><rect x="156.84" y="44.07" width="5.31" height="2.84" fill="#3fb59a"/><rect x="162.81" y="46.53" width="5.31" height="0.38" fill="#e0603a"/><rect x="1.42" y="49.37" width="4.17" height="0.6" fill="#aaa" opacity="0.8"/><rect x="18.29" y="66.24" width="5.31" height="3.41" fill="#2ea6da"/><rect x="24.26" y="65.86" width="5.31" height="3.79" fill="#f5c93a"/><rect x="30.23" y="53.17" width="5.31" height="16.49" fill="#3fb59a"/><rect x="36.2" y="54.87" width="5.31" height="14.78" fill="#e0603a"/><rect x="42.17" y="52.03" width="5.31" height="17.63" fill="#8468b8"/><rect x="49.94" y="69.28" width="5.31" height="0.38" fill="#2ea6da"/><rect x="61.88" y="63.02" width="5.31" height="6.63" fill="#3fb59a"/><rect x="67.85" y="64.35" width="5.31" height="5.31" fill="#e0603a"/><rect x="73.82" y="57.9" width="5.31" height="11.75" fill="#8468b8"/><rect x="125.0" y="60.75" width="5.31" height="8.91" fill="#3fb59a"/><rect x="130.97" y="65.11" width="5.31" height="4.55" fill="#e0603a"/><rect x="156.84" y="67.95" width="5.31" height="1.71" fill="#3fb59a"/><line x1="1.42" y1="72.04" x2="9.00" y2="72.04" stroke="#aaa" stroke-width="0.6" stroke-dasharray="2.4 0.7 1.3 0.6 3.1 0.8 1.8 0.7" opacity="0.8"/><rect x="18.29" y="74.96" width="5.31" height="17.06" fill="#2ea6da"/><rect x="24.26" y="82.54" width="5.31" height="9.48" fill="#f5c93a"/><rect x="30.23" y="90.13" width="5.31" height="1.90" fill="#3fb59a"/><rect x="36.2" y="83.87" width="5.31" height="8.15" fill="#e0603a"/><rect x="49.94" y="87.47" width="5.31" height="4.55" fill="#2ea6da"/><rect x="61.88" y="85.2" width="5.31" height="6.82" fill="#3fb59a"/><rect x="67.85" y="82.16" width="5.31" height="9.86" fill="#e0603a"/><rect x="81.6" y="77.24" width="5.31" height="14.78" fill="#2ea6da"/><rect x="87.57" y="91.07" width="5.31" height="0.95" fill="#f5c93a"/><rect x="93.54" y="78.94" width="5.31" height="13.08" fill="#3fb59a"/><rect x="99.51" y="75.91" width="5.31" height="16.11" fill="#e0603a"/><rect x="105.48" y="88.04" width="5.31" height="3.98" fill="#8468b8"/><rect x="113.06" y="75.34" width="5.31" height="16.68" fill="#2ea6da"/><rect x="119.03" y="77.24" width="5.31" height="14.78" fill="#f5c93a"/><rect x="125.0" y="85.96" width="5.31" height="6.07" fill="#3fb59a"/><rect x="130.97" y="79.32" width="5.31" height="12.70" fill="#e0603a"/><rect x="144.9" y="79.32" width="5.31" height="12.70" fill="#2ea6da"/><rect x="156.84" y="82.16" width="5.31" height="9.86" fill="#3fb59a"/><rect x="162.81" y="75.34" width="5.31" height="16.68" fill="#e0603a"/><line x1="1.42" y1="94.59" x2="10.90" y2="94.59" stroke="#aaa" stroke-width="0.6" stroke-dasharray="2.4 0.7 1.3 0.6 3.1 0.8 1.8 0.7" opacity="0.8"/><rect x="18.29" y="100.55" width="5.31" height="14.03" fill="#2ea6da"/><rect x="24.26" y="103.96" width="5.31" height="10.61" fill="#f5c93a"/><rect x="30.23" y="111.92" width="5.31" height="2.65" fill="#3fb59a"/><rect x="36.2" y="111.16" width="5.31" height="3.41" fill="#e0603a"/><rect x="49.94" y="113.82" width="5.31" height="0.76" fill="#2ea6da"/><rect x="55.91" y="106.05" width="5.31" height="8.53" fill="#f5c93a"/><rect x="61.88" y="103.96" width="5.31" height="10.61" fill="#3fb59a"/><rect x="67.85" y="109.08" width="5.31" height="5.50" fill="#e0603a"/><rect x="73.82" y="113.06" width="5.31" height="1.52" fill="#8468b8"/><rect x="81.6" y="113.06" width="5.31" height="1.52" fill="#2ea6da"/><rect x="105.48" y="112.87" width="5.31" height="1.71" fill="#8468b8"/><rect x="113.06" y="107.56" width="5.31" height="7.01" fill="#2ea6da"/><rect x="119.03" y="114.39" width="5.31" height="0.19" fill="#f5c93a"/><rect x="125.0" y="111.92" width="5.31" height="2.65" fill="#3fb59a"/><rect x="130.97" y="111.54" width="5.31" height="3.03" fill="#e0603a"/><rect x="136.94" y="113.63" width="5.31" height="0.95" fill="#8468b8"/><rect x="144.9" y="114.01" width="5.31" height="0.57" fill="#2ea6da"/><rect x="156.84" y="101.12" width="5.31" height="13.46" fill="#3fb59a"/><rect x="162.81" y="98.84" width="5.31" height="15.73" fill="#e0603a"/><rect x="168.78" y="113.06" width="5.31" height="1.52" fill="#8468b8"/></svg></div><div class="bars"><i style="left:0;height:13px"></i><i style="left:5.500px;height:8.500px"></i><i style="left:11px;height:15px"></i></div><div class="ttl" style="transform:scaleX(0.779)">BS</div><svg class="stars" width="70" height="11" viewBox="0 0 70 11" fill="#333" stroke="#333" stroke-width="0.9" stroke-linejoin="round"><polygon points="5.50,1.00 6.73,3.60 9.59,3.97 7.50,5.95 8.03,8.78 5.50,7.40 2.97,8.78 3.50,5.95 1.41,3.97 4.27,3.60"/><polygon points="19.50,1.00 20.73,3.60 23.59,3.97 21.50,5.95 22.03,8.78 19.50,7.40 16.97,8.78 17.50,5.95 15.41,3.97 18.27,3.60"/><polygon points="33.50,1.00 34.73,3.60 37.59,3.97 35.50,5.95 36.03,8.78 33.50,7.40 30.97,8.78 31.50,5.95 29.41,3.97 32.27,3.60"/><polygon points="47.50,1.00 48.73,3.60 51.59,3.97 49.50,5.95 50.03,8.78 47.50,7.40 44.97,8.78 45.50,5.95 43.41,3.97 46.27,3.60"/><polygon points="61.50,1.00 62.73,3.60 65.59,3.97 63.50,5.95 64.03,8.78 61.50,7.40 58.97,8.78 59.50,5.95 57.41,3.97 60.27,3.60"/></svg><svg class="cube" viewBox="0 0 17 18"><use href="#cube"/></svg><div class="keb"><i style="top:0"></i><i style="top:6px"></i><i style="top:12px"></i></div></div>
<div class="card" style="left:285px;top:377px"><div class="img" style="background:#f1f2f2"><svg style="left:0;top:0" width="206" height="116" viewBox="0 0 206 116"><rect x="70" y="33" width="17" height="58" fill="#6cc55c"/><rect x="95" y="50" width="16.5" height="41" fill="#6cc55c"/><rect x="119.5" y="25" width="16.500" height="66" fill="#6cc55c"/></svg></div><div class="bars"><i style="left:0;height:13px"></i><i style="left:5.500px;height:8.500px"></i><i style="left:11px;height:15px"></i></div><div class="ttl" style="transform:scaleX(0.925)">CA hostpital map</div><svg class="stars" width="70" height="11" viewBox="0 0 70 11" fill="#333" stroke="#333" stroke-width="0.9" stroke-linejoin="round"><polygon points="5.50,1.00 6.73,3.60 9.59,3.97 7.50,5.95 8.03,8.78 5.50,7.40 2.97,8.78 3.50,5.95 1.41,3.97 4.27,3.60"/><polygon points="19.50,1.00 20.73,3.60 23.59,3.97 21.50,5.95 22.03,8.78 19.50,7.40 16.97,8.78 17.50,5.95 15.41,3.97 18.27,3.60"/><polygon points="33.50,1.00 34.73,3.60 37.59,3.97 35.50,5.95 36.03,8.78 33.50,7.40 30.97,8.78 31.50,5.95 29.41,3.97 32.27,3.60"/><polygon points="47.50,1.00 48.73,3.60 51.59,3.97 49.50,5.95 50.03,8.78 47.50,7.40 44.97,8.78 45.50,5.95 43.41,3.97 46.27,3.60"/><polygon points="61.50,1.00 62.73,3.60 65.59,3.97 63.50,5.95 64.03,8.78 61.50,7.40 58.97,8.78 59.50,5.95 57.41,3.97 60.27,3.60"/></svg><svg class="cube" viewBox="0 0 17 18"><use href="#cube"/></svg><div class="keb"><i style="top:0"></i><i style="top:6px"></i><i style="top:12px"></i></div></div>
<div class="card" style="left:504px;top:377px"><div class="img" style="background:#fff"><svg style="left:0;top:0" width="206" height="116" viewBox="0 0 206 116"><line x1="0.8" y1="1.50" x2="62.80" y2="1.50" stroke="#999" stroke-width="0.6" stroke-dasharray="2.4 0.7 1.3 0.6 3.1 0.8 1.8 0.7" opacity="0.8"/><rect x="84.25" y="4.45" width="5" height="0.6" fill="#aaa" opacity="0.8"/><line x1="83.87" y1="61.24" x2="90.87" y2="61.24" stroke="#aaa" stroke-width="0.6" stroke-dasharray="2.4 0.7 1.3 0.6 3.1 0.8 1.8 0.7" opacity="0.8"/><line x1="175.8" y1="1.39" x2="196.80" y2="1.39" stroke="#888" stroke-width="0.7" stroke-dasharray="2.4 0.7 1.3 0.6 3.1 0.8 1.8 0.7" opacity="0.8"/><rect x="176.18" y="3.70" width="1.3" height="1.3" fill="#2ea6da"/><line x1="178.07" y1="4.56" x2="196.07" y2="4.56" stroke="#999" stroke-width="0.6" stroke-dasharray="2.4 0.7 1.3 0.6 3.1 0.8 1.8 0.7" opacity="0.8"/><rect x="176.18" y="5.97" width="1.3" height="1.3" fill="#f5c93a"/><line x1="178.07" y1="6.84" x2="197.07" y2="6.84" stroke="#999" stroke-width="0.6" stroke-dasharray="2.4 0.7 1.3 0.6 3.1 0.8 1.8 0.7" opacity="0.8"/><rect x="176.18" y="8.24" width="1.3" height="1.3" fill="#3fb59a"/><line x1="178.07" y1="9.11" x2="194.07" y2="9.11" stroke="#999" stroke-width="0.6" stroke-dasharray="2.4 0.7 1.3 0.6 3.1 0.8 1.8 0.7" opacity="0.8"/><rect x="176.18" y="10.52" width="1.3" height="1.3" fill="#e0603a"/><line x1="178.07" y1="11.39" x2="197.07" y2="11.39" stroke="#999" stroke-width="0.6" stroke-dasharray="2.4 0.7 1.3 0.6 3.1 0.8 1.8 0.7" opacity="0.8"/><rect x="176.18" y="12.79" width="1.3" height="1.3" fill="#8468b8"/><line x1="178.07" y1="13.66" x2="198.07" y2="13.66" stroke="#999" stroke-width="0.6" stroke-dasharray="2.4 0.7 1.3 0.6 3.1 0.8 1.8 0.7" opacity="0.8"/><rect x="176.18" y="15.07" width="1.3" height="1.3" fill="#8a8a8a"/><line x1="178.07" y1="15.94" x2="195.07" y2="15.94" stroke="#999" stroke-width="0.6" stroke-dasharray="2.4 0.7 1.3 0.6 3.1 0.8 1.8 0.7" opacity="0.8"/><circle cx="71.02" cy="12.02" r="0.98" fill="#f5c93a"/><circle cx="106.24" cy="23.81" r="1.24" fill="#8a8a8a"/><circle cx="63.18" cy="40.26" r="1.09" fill="#e0603a"/><circle cx="107.54" cy="31.85" r="0.94" fill="#2ea6da"/><circle cx="100.4" cy="13.76" r="0.92" fill="#2ea6da"/><circle cx="78.47" cy="8.48" r="1.39" fill="#2ea6da"/><circle cx="89.96" cy="8.24" r="1.17" fill="#2ea6da"/><circle cx="90.23" cy="51.79" r="0.96" fill="#2ea6da"/><circle cx="105.76" cy="39.26" r="0.94" fill="#3fb59a"/><circle cx="69.0" cy="13.25" r="0.95" fill="#2ea6da"/><circle cx="74.51" cy="9.68" r="1.18" fill="#8a8a8a"/><circle cx="104.98" cy="41.72" r="0.74" fill="#8468b8"/><circle cx="62.52" cy="21.7" r="0.78" fill="#e0603a"/><circle cx="70.58" cy="15.12" r="0.59" fill="#8468b8"/><circle cx="66.27" cy="31.94" r="0.63" fill="#f5c93a"/><circle cx="73.12" cy="41.58" r="0.58" fill="#f5c93a"/><circle cx="63.36" cy="23.26" r="0.89" fill="#2ea6da"/><circle cx="83.17" cy="48.76" r="0.65" fill="#8468b8"/><circle cx="72.15" cy="10.56" r="0.76" fill="#2ea6da"/><circle cx="92.91" cy="9.02" r="1.00" fill="#e0603a"/><circle cx="61.52" cy="24.86" r="0.82" fill="#e0603a"/><circle cx="88.99" cy="53.57" r="0.82" fill="#f5c93a"/><circle cx="72.03" cy="50.41" r="0.69" fill="#8468b8"/><circle cx="80.29" cy="10.56" r="0.70" fill="#3fb59a"/><circle cx="95.95" cy="10.14" r="0.68" fill="#8468b8"/><circle cx="100.44" cy="47.68" r="0.73" fill="#f5c93a"/><circle cx="60.74" cy="28.78" r="0.68" fill="#3fb59a"/><circle cx="78.21" cy="53.42" r="0.66" fill="#2ea6da"/><circle cx="92.46" cy="12.44" r="0.73" fill="#e0603a"/><circle cx="90.75" cy="53.37" r="0.59" fill="#8468b8"/><circle cx="105.92" cy="21.45" r="0.73" fill="#8468b8"/><circle cx="61.23" cy="36.15" r="0.59" fill="#8a8a8a"/><circle cx="76.22" cy="8.41" r="0.66" fill="#2ea6da"/><circle cx="61.25" cy="34.38" r="0.96" fill="#f5c93a"/><circle cx="99.75" cy="15.73" r="0.59" fill="#f5c93a"/><circle cx="104.24" cy="38.47" r="0.64" fill="#e0603a"/><circle cx="94.73" cy="50.9" r="0.58" fill="#8a8a8a"/><circle cx="65.96" cy="30.37" r="0.70" fill="#8a8a8a"/><circle cx="79.89" cy="52.98" r="0.69" fill="#f5c93a"/><circle cx="106.89" cy="36.79" r="0.72" fill="#8468b8"/><circle cx="103.01" cy="16.16" r="0.58" fill="#8468b8"/><circle cx="80.67" cy="7.31" r="0.69" fill="#3fb59a"/><circle cx="61.86" cy="37.89" r="0.72" fill="#8468b8"/><circle cx="107.48" cy="33.76" r="0.82" fill="#8a8a8a"/><circle cx="101.84" cy="15.24" r="0.67" fill="#8a8a8a"/><circle cx="93.54" cy="49.26" r="0.68" fill="#8468b8"/><circle cx="89.18" cy="50.25" r="0.41" fill="#f5c93a"/><circle cx="102.82" cy="45.08" r="0.44" fill="#8a8a8a"/><circle cx="105.01" cy="19.0" r="0.48" fill="#2ea6da"/><circle cx="74.34" cy="21.03" r="0.52" fill="#8468b8"/><circle cx="76.0" cy="52.92" r="0.44" fill="#2ea6da"/><circle cx="93.74" cy="12.58" r="0.39" fill="#f5c93a"/><circle cx="60.9" cy="27.15" r="0.44" fill="#8a8a8a"/><circle cx="91.21" cy="50.47" r="0.47" fill="#8468b8"/><circle cx="91.15" cy="12.71" r="0.41" fill="#3fb59a"/><circle cx="103.81" cy="44.22" r="0.44" fill="#f5c93a"/><circle cx="94.76" cy="9.68" r="0.49" fill="#f5c93a"/><circle cx="104.18" cy="17.46" r="0.38" fill="#8a8a8a"/><circle cx="74.52" cy="52.25" r="0.53" fill="#f5c93a"/><circle cx="68.58" cy="37.78" r="0.43" fill="#e0603a"/><circle cx="99.43" cy="12.5" r="0.53" fill="#e0603a"/><circle cx="88.56" cy="12.47" r="0.54" fill="#2ea6da"/><circle cx="104.56" cy="43.09" r="0.42" fill="#8a8a8a"/><circle cx="60.63" cy="32.98" r="0.40" fill="#e0603a"/><circle cx="67.22" cy="14.35" r="0.54" fill="#3fb59a"/><circle cx="71.56" cy="14.24" r="0.50" fill="#8a8a8a"/><circle cx="67.15" cy="30.98" r="0.46" fill="#8a8a8a"/><circle cx="94.18" cy="11.05" r="0.38" fill="#3fb59a"/><circle cx="80.68" cy="41.84" r="0.39" fill="#2ea6da"/><circle cx="88.7" cy="51.49" r="0.49" fill="#f5c93a"/><circle cx="101.52" cy="46.92" r="0.45" fill="#f5c93a"/><circle cx="107.47" cy="25.9" r="0.43" fill="#2ea6da"/><circle cx="93.12" cy="10.8" r="0.47" fill="#e0603a"/><circle cx="64.65" cy="31.96" r="0.38" fill="#e0603a"/><circle cx="61.71" cy="23.24" r="0.54" fill="#f5c93a"/><circle cx="79.7" cy="41.54" r="0.42" fill="#3fb59a"/><circle cx="67.17" cy="29.51" r="0.56" fill="#8468b8"/><circle cx="77.2" cy="52.76" r="0.46" fill="#e0603a"/><circle cx="74.31" cy="41.89" r="0.39" fill="#3fb59a"/><circle cx="83.85" cy="14.43" r="0.48" fill="#f5c93a"/><circle cx="73.38" cy="11.83" r="0.51" fill="#e0603a"/><circle cx="101.54" cy="29.89" r="0.39" fill="#3fb59a"/><circle cx="97.09" cy="11.01" r="0.42" fill="#3fb59a"/><circle cx="68.38" cy="36.71" r="0.56" fill="#f5c93a"/><circle cx="107.98" cy="29.84" r="0.40" fill="#2ea6da"/><circle cx="98.14" cy="11.19" r="0.39" fill="#8a8a8a"/><circle cx="68.04" cy="47.7" r="0.41" fill="#e0603a"/><circle cx="88.22" cy="7.08" r="0.40" fill="#e0603a"/><circle cx="73.41" cy="20.31" r="0.52" fill="#2ea6da"/><circle cx="101.65" cy="45.89" r="0.42" fill="#f5c93a"/><circle cx="67.91" cy="25.02" r="0.57" fill="#8468b8"/><circle cx="93.33" cy="13.71" r="0.41" fill="#f5c93a"/><circle cx="88.18" cy="52.52" r="0.43" fill="#f5c93a"/><circle cx="69.51" cy="14.67" r="0.43" fill="#8468b8"/><circle cx="68.23" cy="26.4" r="0.55" fill="#8a8a8a"/><circle cx="62.8" cy="20.47" r="0.40" fill="#2ea6da"/><circle cx="105.5" cy="19.88" r="0.41" fill="#8a8a8a"/><circle cx="101.53" cy="31.18" r="0.51" fill="#f5c93a"/><circle cx="96.0" cy="51.33" r="0.44" fill="#8a8a8a"/><circle cx="105.7" cy="31.29" r="0.53" fill="#e0603a"/><circle cx="80.47" cy="51.79" r="0.45" fill="#f5c93a"/><circle cx="66.03" cy="15.19" r="0.39" fill="#3fb59a"/><circle cx="69.59" cy="37.86" r="0.46" fill="#8468b8"/><circle cx="83.22" cy="15.44" r="0.43" fill="#f5c93a"/><circle cx="101.32" cy="26.91" r="0.41" fill="#3fb59a"/><circle cx="71.64" cy="15.74" r="0.45" fill="#8a8a8a"/><circle cx="70.56" cy="13.91" r="0.47" fill="#8a8a8a"/><circle cx="107.41" cy="35.51" r="0.47" fill="#e0603a"/><circle cx="71.36" cy="46.79" r="0.41" fill="#2ea6da"/><circle cx="80.55" cy="8.91" r="0.46" fill="#8a8a8a"/><circle cx="100.32" cy="26.77" r="0.39" fill="#8a8a8a"/><circle cx="72.95" cy="51.46" r="0.55" fill="#e0603a"/><circle cx="92.4" cy="49.79" r="0.41" fill="#8a8a8a"/><circle cx="91.67" cy="7.99" r="0.43" fill="#2ea6da"/><circle cx="77.62" cy="31.18" r="9.86" fill="#8a8a8a"/><circle cx="94.29" cy="31.18" r="6.63" fill="#e0603a"/><circle cx="88.99" cy="19.43" r="6.25" fill="#8a8a8a"/><circle cx="77.62" cy="16.02" r="5.12" fill="#8a8a8a"/><circle cx="84.82" cy="9.95" r="3.79" fill="#3fb59a"/><circle cx="68.14" cy="19.81" r="4.55" fill="#3fb59a"/><circle cx="99.98" cy="21.32" r="4.93" fill="#2ea6da"/><circle cx="104.72" cy="27.96" r="2.84" fill="#8468b8"/><circle cx="103.58" cy="34.4" r="3.03" fill="#2ea6da"/><circle cx="99.41" cy="41.22" r="4.55" fill="#e0603a"/><circle cx="89.37" cy="43.12" r="6.63" fill="#3fb59a"/><circle cx="77.24" cy="46.91" r="5.31" fill="#8468b8"/><circle cx="68.14" cy="42.93" r="4.17" fill="#f5c93a"/><circle cx="64.92" cy="35.92" r="2.84" fill="#f5c93a"/><circle cx="64.73" cy="26.82" r="2.84" fill="#8468b8"/><circle cx="84.25" cy="52.98" r="3.41" fill="#e0603a"/><circle cx="96.95" cy="48.24" r="2.65" fill="#2ea6da"/><circle cx="96.57" cy="14.12" r="2.65" fill="#f5c93a"/><circle cx="62.45" cy="31.18" r="1.71" fill="#8a8a8a"/><circle cx="70.41" cy="48.62" r="1.52" fill="#8a8a8a"/><circle cx="90.88" cy="10.9" r="1.33" fill="#3fb59a"/><circle cx="92.78" cy="52.03" r="1.52" fill="#2ea6da"/><circle cx="107.3" cy="81.1" r="1.27" fill="#2ea6da"/><circle cx="62.32" cy="87.18" r="2.14" fill="#3fb59a"/><circle cx="99.93" cy="75.26" r="1.81" fill="#f5c93a"/><circle cx="63.47" cy="79.04" r="1.69" fill="#e0603a"/><circle cx="82.6" cy="64.96" r="2.02" fill="#3fb59a"/><circle cx="69.98" cy="104.98" r="1.69" fill="#e0603a"/><circle cx="103.95" cy="77.0" r="1.73" fill="#f5c93a"/><circle cx="66.92" cy="75.84" r="2.19" fill="#8a8a8a"/><circle cx="67.99" cy="99.4" r="1.38" fill="#f5c93a"/><circle cx="106.98" cy="90.87" r="2.22" fill="#8a8a8a"/><circle cx="99.14" cy="105.66" r="1.49" fill="#e0603a"/><circle cx="90.44" cy="109.47" r="1.66" fill="#f5c93a"/><circle cx="96.26" cy="69.59" r="1.23" fill="#8468b8"/><circle cx="104.17" cy="95.13" r="1.70" fill="#2ea6da"/><circle cx="91.64" cy="65.82" r="1.94" fill="#f5c93a"/><circle cx="74.11" cy="106.75" r="1.91" fill="#f5c93a"/><circle cx="94.84" cy="106.71" r="2.25" fill="#2ea6da"/><circle cx="76.79" cy="67.34" r="1.53" fill="#8a8a8a"/><circle cx="86.73" cy="110.38" r="1.63" fill="#8a8a8a"/><circle cx="62.21" cy="91.95" r="1.59" fill="#f5c93a"/><circle cx="107.71" cy="85.88" r="1.70" fill="#e0603a"/><circle cx="103.19" cy="100.49" r="1.24" fill="#3fb59a"/><circle cx="73.12" cy="67.81" r="1.29" fill="#8468b8"/><circle cx="64.83" cy="82.65" r="1.90" fill="#2ea6da"/><circle cx="87.18" cy="65.61" r="1.90" fill="#f5c93a"/><circle cx="78.04" cy="109.73" r="1.37" fill="#2ea6da"/><circle cx="102.04" cy="103.16" r="1.35" fill="#e0603a"/><circle cx="96.17" cy="90.98" r="1.23" fill="#2ea6da"/><circle cx="65.89" cy="101.18" r="1.27" fill="#8468b8"/><circle cx="100.89" cy="71.39" r="1.65" fill="#f5c93a"/><circle cx="80.29" cy="68.41" r="1.26" fill="#2ea6da"/><circle cx="66.08" cy="89.09" r="1.14" fill="#8a8a8a"/><circle cx="99.09" cy="68.77" r="1.11" fill="#e0603a"/><circle cx="63.01" cy="97.07" r="0.82" fill="#e0603a"/><circle cx="91.56" cy="106.26" r="0.91" fill="#8468b8"/><circle cx="98.64" cy="100.92" r="1.25" fill="#e0603a"/><circle cx="67.07" cy="71.69" r="0.89" fill="#f5c93a"/><circle cx="106.9" cy="78.7" r="0.88" fill="#8a8a8a"/><circle cx="93.91" cy="70.32" r="0.89" fill="#3fb59a"/><circle cx="72.02" cy="100.33" r="1.20" fill="#2ea6da"/><circle cx="72.31" cy="91.09" r="0.94" fill="#8468b8"/><circle cx="65.2" cy="98.53" r="0.97" fill="#e0603a"/><circle cx="95.45" cy="66.59" r="1.21" fill="#2ea6da"/><circle cx="103.12" cy="73.4" r="1.06" fill="#8a8a8a"/><circle cx="83.53" cy="111.26" r="0.82" fill="#2ea6da"/><circle cx="68.62" cy="73.08" r="0.77" fill="#e0603a"/><circle cx="79.31" cy="66.12" r="0.79" fill="#f5c93a"/><circle cx="92.95" cy="109.15" r="0.76" fill="#f5c93a"/><circle cx="68.33" cy="102.35" r="0.93" fill="#8a8a8a"/><circle cx="88.64" cy="106.87" r="1.26" fill="#8a8a8a"/><circle cx="70.79" cy="102.31" r="0.85" fill="#f5c93a"/><circle cx="98.36" cy="72.03" r="0.88" fill="#8a8a8a"/><circle cx="88.4" cy="104.65" r="0.77" fill="#e0603a"/><circle cx="105.75" cy="98.67" r="0.90" fill="#e0603a"/><circle cx="107.25" cy="95.39" r="0.85" fill="#f5c93a"/><circle cx="70.41" cy="76.55" r="0.79" fill="#2ea6da"/><circle cx="89.71" cy="68.94" r="0.78" fill="#8468b8"/><circle cx="104.63" cy="79.9" r="0.96" fill="#f5c93a"/><circle cx="70.71" cy="68.89" r="0.84" fill="#2ea6da"/><circle cx="69.06" cy="70.3" r="0.88" fill="#8a8a8a"/><circle cx="86.09" cy="107.43" r="0.79" fill="#8a8a8a"/><circle cx="63.9" cy="94.81" r="0.88" fill="#8a8a8a"/><circle cx="78.03" cy="106.41" r="1.20" fill="#2ea6da"/><circle cx="74.47" cy="66.0" r="0.81" fill="#8a8a8a"/><circle cx="80.48" cy="110.84" r="0.85" fill="#8468b8"/><circle cx="70.82" cy="97.85" r="0.97" fill="#8a8a8a"/><circle cx="61.6" cy="83.37" r="1.06" fill="#8468b8"/><circle cx="99.69" cy="102.96" r="0.88" fill="#3fb59a"/><circle cx="104.03" cy="97.86" r="0.81" fill="#8a8a8a"/><circle cx="74.42" cy="90.21" r="0.92" fill="#3fb59a"/><circle cx="92.04" cy="68.67" r="0.78" fill="#8468b8"/><circle cx="84.49" cy="73.79" r="1.08" fill="#3fb59a"/><circle cx="65.57" cy="86.39" r="0.77" fill="#8a8a8a"/><circle cx="69.99" cy="74.72" r="0.83" fill="#2ea6da"/><circle cx="75.71" cy="109.5" r="0.80" fill="#f5c93a"/><circle cx="96.6" cy="99.83" r="0.80" fill="#8a8a8a"/><circle cx="77.91" cy="64.7" r="0.81" fill="#3fb59a"/><circle cx="63.43" cy="98.66" r="0.50" fill="#e0603a"/><circle cx="66.71" cy="103.05" r="0.51" fill="#f5c93a"/><circle cx="73.8" cy="73.92" r="0.74" fill="#e0603a"/><circle cx="61.99" cy="94.33" r="0.60" fill="#8a8a8a"/><circle cx="75.63" cy="73.86" r="0.52" fill="#8a8a8a"/><circle cx="64.12" cy="75.22" r="0.58" fill="#8a8a8a"/><circle cx="106.49" cy="77.12" r="0.62" fill="#e0603a"/><circle cx="98.14" cy="77.09" r="0.55" fill="#8468b8"/><circle cx="104.65" cy="81.56" r="0.53" fill="#2ea6da"/><circle cx="71.39" cy="107.29" r="0.70" fill="#e0603a"/><circle cx="90.0" cy="104.82" r="0.51" fill="#f5c93a"/><circle cx="66.47" cy="78.93" r="0.61" fill="#8468b8"/><circle cx="97.66" cy="67.29" r="0.72" fill="#f5c93a"/><circle cx="77.02" cy="104.88" r="0.52" fill="#8a8a8a"/><circle cx="104.16" cy="89.64" r="0.52" fill="#2ea6da"/><circle cx="100.83" cy="100.37" r="0.73" fill="#f5c93a"/><circle cx="73.64" cy="70.57" r="0.49" fill="#8468b8"/><circle cx="81.97" cy="111.36" r="0.58" fill="#2ea6da"/><circle cx="80.27" cy="76.87" r="0.58" fill="#8a8a8a"/><circle cx="97.77" cy="103.82" r="0.70" fill="#f5c93a"/><circle cx="77.09" cy="69.61" r="0.47" fill="#f5c93a"/><circle cx="89.43" cy="63.87" r="0.60" fill="#f5c93a"/><circle cx="64.41" cy="99.97" r="0.54" fill="#8468b8"/><circle cx="85.54" cy="63.44" r="0.60" fill="#8a8a8a"/><circle cx="86.81" cy="105.96" r="0.68" fill="#3fb59a"/><circle cx="88.3" cy="69.03" r="0.53" fill="#e0603a"/><circle cx="98.19" cy="70.48" r="0.58" fill="#2ea6da"/><circle cx="106.5" cy="97.02" r="0.67" fill="#8a8a8a"/><circle cx="63.31" cy="89.79" r="0.52" fill="#f5c93a"/><circle cx="97.85" cy="98.79" r="0.50" fill="#f5c93a"/><circle cx="92.52" cy="104.77" r="0.50" fill="#3fb59a"/><circle cx="107.16" cy="93.88" r="0.55" fill="#2ea6da"/><circle cx="94.32" cy="67.99" r="0.50" fill="#3fb59a"/><circle cx="76.91" cy="107.92" r="0.48" fill="#f5c93a"/><circle cx="65.5" cy="73.0" r="0.50" fill="#8a8a8a"/><circle cx="63.33" cy="76.56" r="0.54" fill="#8468b8"/><circle cx="82.3" cy="67.81" r="0.49" fill="#2ea6da"/><circle cx="85.02" cy="106.26" r="0.63" fill="#8468b8"/><circle cx="96.68" cy="104.54" r="0.49" fill="#f5c93a"/><circle cx="79.8" cy="64.2" r="0.48" fill="#3fb59a"/><circle cx="104.87" cy="74.71" r="0.66" fill="#f5c93a"/><circle cx="61.85" cy="81.32" r="0.60" fill="#8a8a8a"/><circle cx="64.32" cy="91.38" r="0.48" fill="#8a8a8a"/><circle cx="104.6" cy="92.53" r="0.49" fill="#e0603a"/><circle cx="60.84" cy="84.88" r="0.52" fill="#2ea6da"/><circle cx="108.32" cy="83.05" r="0.73" fill="#8a8a8a"/><circle cx="80.04" cy="93.33" r="0.49" fill="#e0603a"/><circle cx="72.06" cy="74.72" r="0.65" fill="#f5c93a"/><circle cx="69.24" cy="97.84" r="0.48" fill="#8a8a8a"/><circle cx="60.89" cy="89.93" r="0.47" fill="#f5c93a"/><circle cx="82.44" cy="104.57" r="0.48" fill="#e0603a"/><circle cx="76.77" cy="73.6" r="0.49" fill="#2ea6da"/><circle cx="84.51" cy="109.47" r="0.51" fill="#2ea6da"/><circle cx="97.42" cy="75.83" r="0.48" fill="#e0603a"/><circle cx="108.81" cy="88.25" r="0.64" fill="#3fb59a"/><circle cx="66.9" cy="97.76" r="0.50" fill="#2ea6da"/><circle cx="97.56" cy="74.53" r="0.53" fill="#e0603a"/><circle cx="93.54" cy="68.83" r="0.56" fill="#2ea6da"/><circle cx="89.36" cy="76.73" r="0.52" fill="#8a8a8a"/><circle cx="74.96" cy="91.63" r="0.47" fill="#8a8a8a"/><circle cx="89.3" cy="67.27" r="0.53" fill="#f5c93a"/><circle cx="93.39" cy="100.52" r="0.55" fill="#8468b8"/><circle cx="95.44" cy="89.24" r="0.55" fill="#f5c93a"/><circle cx="101.52" cy="88.47" r="0.50" fill="#8a8a8a"/><circle cx="69.48" cy="101.0" r="0.61" fill="#8a8a8a"/><circle cx="66.01" cy="80.36" r="0.56" fill="#3fb59a"/><circle cx="101.34" cy="82.95" r="0.62" fill="#8a8a8a"/><circle cx="67.51" cy="103.91" r="0.54" fill="#8a8a8a"/><circle cx="64.4" cy="85.29" r="0.50" fill="#8a8a8a"/><circle cx="76.54" cy="65.15" r="0.54" fill="#2ea6da"/><circle cx="89.05" cy="111.25" r="0.49" fill="#8a8a8a"/><circle cx="98.47" cy="81.37" r="0.49" fill="#e0603a"/><circle cx="90.24" cy="93.36" r="0.57" fill="#f5c93a"/><circle cx="96.95" cy="71.37" r="0.52" fill="#8a8a8a"/><circle cx="75.34" cy="79.13" r="4.55" fill="#2ea6da"/><circle cx="84.82" cy="79.51" r="4.55" fill="#2ea6da"/><circle cx="93.73" cy="79.51" r="4.36" fill="#8a8a8a"/><circle cx="70.6" cy="86.14" r="4.17" fill="#2ea6da"/><circle cx="79.89" cy="87.09" r="4.93" fill="#8a8a8a"/><circle cx="89.94" cy="87.09" r="4.93" fill="#8a8a8a"/><circle cx="98.46" cy="85.77" r="3.22" fill="#8a8a8a"/><circle cx="68.14" cy="93.73" r="3.41" fill="#f5c93a"/><circle cx="75.72" cy="96.19" r="3.98" fill="#8a8a8a"/><circle cx="85.2" cy="96.19" r="4.93" fill="#f5c93a"/><circle cx="94.11" cy="95.81" r="3.79" fill="#f5c93a"/><circle cx="100.55" cy="91.83" r="2.84" fill="#f5c93a"/><circle cx="89.56" cy="72.88" r="3.03" fill="#2ea6da"/><circle cx="80.46" cy="72.88" r="2.65" fill="#8a8a8a"/><circle cx="85.2" cy="69.66" r="2.27" fill="#f5c93a"/><circle cx="95.05" cy="73.45" r="2.08" fill="#f5c93a"/><circle cx="100.93" cy="79.89" r="2.27" fill="#2ea6da"/><circle cx="69.09" cy="79.89" r="2.08" fill="#8a8a8a"/><circle cx="71.55" cy="71.93" r="1.90" fill="#f5c93a"/><circle cx="75.72" cy="71.55" r="1.71" fill="#f5c93a"/><circle cx="79.51" cy="102.26" r="2.65" fill="#8a8a8a"/><circle cx="85.2" cy="103.39" r="2.08" fill="#3fb59a"/><circle cx="90.31" cy="101.69" r="2.46" fill="#8a8a8a"/><circle cx="95.24" cy="102.26" r="1.90" fill="#e0603a"/><circle cx="81.97" cy="107.56" r="2.46" fill="#e0603a"/><circle cx="74.39" cy="102.63" r="1.90" fill="#f5c93a"/><circle cx="100.36" cy="97.52" r="1.90" fill="#8a8a8a"/><circle cx="103.77" cy="87.09" r="1.90" fill="#8a8a8a"/><circle cx="104.15" cy="83.68" r="1.52" fill="#8a8a8a"/><line x1="74.17" y1="31.29" x2="81.07" y2="31.29" stroke="#333" stroke-width="0.6" stroke-dasharray="2.4 0.7 1.3 0.6 3.1 0.8 1.8 0.7" opacity="0.6"/><rect x="91.97" y="30.99" width="4.64" height="0.6" fill="#333" opacity="0.6"/><rect x="86.8" y="19.24" width="4.38" height="0.6" fill="#333" opacity="0.6"/><rect x="75.82" y="15.83" width="3.58" height="0.6" fill="#333" opacity="0.6"/><rect x="83.49" y="9.76" width="2.65" height="0.6" fill="#333" opacity="0.6"/><rect x="66.55" y="19.62" width="3.18" height="0.6" fill="#333" opacity="0.6"/><rect x="98.26" y="21.13" width="3.45" height="0.6" fill="#333" opacity="0.6"/><rect x="103.72" y="27.77" width="1.99" height="0.6" fill="#333" opacity="0.6"/><rect x="102.52" y="34.21" width="2.12" height="0.6" fill="#333" opacity="0.6"/><rect x="97.82" y="41.03" width="3.18" height="0.6" fill="#333" opacity="0.6"/><rect x="87.05" y="42.93" width="4.64" height="0.6" fill="#333" opacity="0.6"/><rect x="75.38" y="46.72" width="3.71" height="0.6" fill="#333" opacity="0.6"/><rect x="66.68" y="42.74" width="2.92" height="0.6" fill="#333" opacity="0.6"/><rect x="63.92" y="35.73" width="1.99" height="0.6" fill="#333" opacity="0.6"/><rect x="63.73" y="26.63" width="1.99" height="0.6" fill="#333" opacity="0.6"/><rect x="83.06" y="52.79" width="2.39" height="0.6" fill="#333" opacity="0.6"/><rect x="73.75" y="78.94" width="3.18" height="0.6" fill="#333" opacity="0.6"/><rect x="83.23" y="79.32" width="3.18" height="0.6" fill="#333" opacity="0.6"/><rect x="92.2" y="79.32" width="3.05" height="0.6" fill="#333" opacity="0.6"/><rect x="69.14" y="85.96" width="2.92" height="0.6" fill="#333" opacity="0.6"/><rect x="78.17" y="86.9" width="3.45" height="0.6" fill="#333" opacity="0.6"/><rect x="88.21" y="86.9" width="3.45" height="0.6" fill="#333" opacity="0.6"/><rect x="97.34" y="85.58" width="2.26" height="0.6" fill="#333" opacity="0.6"/><rect x="66.94" y="93.54" width="2.39" height="0.6" fill="#333" opacity="0.6"/><rect x="74.33" y="96.0" width="2.79" height="0.6" fill="#333" opacity="0.6"/><rect x="83.47" y="96.0" width="3.45" height="0.6" fill="#333" opacity="0.6"/><rect x="92.78" y="95.62" width="2.65" height="0.6" fill="#333" opacity="0.6"/><rect x="99.55" y="91.64" width="1.99" height="0.6" fill="#333" opacity="0.6"/></svg></div><div class="bars"><i style="left:0;height:13px"></i><i style="left:5.500px;height:8.500px"></i><i style="left:11px;height:15px"></i></div><div class="ttl" style="transform:scaleX(0.909)">circle packing</div><svg class="stars" width="70" height="11" viewBox="0 0 70 11" fill="#333" stroke="#333" stroke-width="0.9" stroke-linejoin="round"><polygon points="5.50,1.00 6.73,3.60 9.59,3.97 7.50,5.95 8.03,8.78 5.50,7.40 2.97,8.78 3.50,5.95 1.41,3.97 4.27,3.60"/><polygon points="19.50,1.00 20.73,3.60 23.59,3.97 21.50,5.95 22.03,8.78 19.50,7.40 16.97,8.78 17.50,5.95 15.41,3.97 18.27,3.60"/><polygon points="33.50,1.00 34.73,3.60 37.59,3.97 35.50,5.95 36.03,8.78 33.50,7.40 30.97,8.78 31.50,5.95 29.41,3.97 32.27,3.60"/><polygon points="47.50,1.00 48.73,3.60 51.59,3.97 49.50,5.95 50.03,8.78 47.50,7.40 44.97,8.78 45.50,5.95 43.41,3.97 46.27,3.60"/><polygon points="61.50,1.00 62.73,3.60 65.59,3.97 63.50,5.95 64.03,8.78 61.50,7.40 58.97,8.78 59.50,5.95 57.41,3.97 60.27,3.60"/></svg><svg class="cube" viewBox="0 0 17 18"><use href="#cube"/></svg><div class="keb"><i style="top:0"></i><i style="top:6px"></i><i style="top:12px"></i></div></div>
<div class="card" style="left:723px;top:377px"><div class="img" style="background:#fff"><svg style="left:0;top:0" width="206" height="116" viewBox="0 0 206 116"><line x1="0.8" y1="1.50" x2="59.80" y2="1.50" stroke="#999" stroke-width="0.6" stroke-dasharray="2.4 0.7 1.3 0.6 3.1 0.8 1.8 0.7" opacity="0.8"/><rect x="84.25" y="4.45" width="5" height="0.6" fill="#aaa" opacity="0.8"/><line x1="83.3" y1="61.24" x2="90.30" y2="61.24" stroke="#aaa" stroke-width="0.6" stroke-dasharray="2.4 0.7 1.3 0.6 3.1 0.8 1.8 0.7" opacity="0.8"/><line x1="174.28" y1="1.39" x2="185.28" y2="1.39" stroke="#888" stroke-width="0.7" stroke-dasharray="2.4 0.7 1.3 0.6 3.1 0.8 1.8 0.7" opacity="0.8"/><rect x="174.66" y="3.70" width="1.3" height="1.3" fill="#2ea6da"/><line x1="176.55" y1="4.56" x2="186.55" y2="4.56" stroke="#999" stroke-width="0.6" stroke-dasharray="2.4 0.7 1.3 0.6 3.1 0.8 1.8 0.7" opacity="0.8"/><rect x="174.66" y="5.97" width="1.3" height="1.3" fill="#f5c93a"/><line x1="176.55" y1="6.84" x2="185.55" y2="6.84" stroke="#999" stroke-width="0.6" stroke-dasharray="2.4 0.7 1.3 0.6 3.1 0.8 1.8 0.7" opacity="0.8"/><rect x="174.66" y="8.24" width="1.3" height="1.3" fill="#3fb59a"/><line x1="176.55" y1="9.11" x2="187.55" y2="9.11" stroke="#999" stroke-width="0.6" stroke-dasharray="2.4 0.7 1.3 0.6 3.1 0.8 1.8 0.7" opacity="0.8"/><rect x="174.66" y="10.52" width="1.3" height="1.3" fill="#e0603a"/><line x1="176.55" y1="11.39" x2="186.55" y2="11.39" stroke="#999" stroke-width="0.6" stroke-dasharray="2.4 0.7 1.3 0.6 3.1 0.8 1.8 0.7" opacity="0.8"/><circle cx="106.3" cy="33.01" r="0.93" fill="#2ea6da"/><circle cx="88.39" cy="9.53" r="0.94" fill="#e0603a"/><circle cx="71.94" cy="20.93" r="0.79" fill="#3fb59a"/><circle cx="91.98" cy="10.44" r="0.88" fill="#3fb59a"/><circle cx="62.19" cy="28.62" r="0.65" fill="#e0603a"/><circle cx="63.01" cy="25.59" r="0.50" fill="#2ea6da"/><circle cx="68.85" cy="15.07" r="0.49" fill="#3fb59a"/><circle cx="97.78" cy="14.19" r="0.49" fill="#f5c93a"/><circle cx="63.03" cy="31.69" r="0.63" fill="#e0603a"/><circle cx="61.76" cy="31.14" r="0.63" fill="#2ea6da"/><circle cx="64.71" cy="31.43" r="0.74" fill="#e0603a"/><circle cx="104.63" cy="22.33" r="0.68" fill="#3fb59a"/><circle cx="62.09" cy="33.61" r="0.63" fill="#e0603a"/><circle cx="106.24" cy="36.35" r="0.54" fill="#f5c93a"/><circle cx="78.68" cy="20.16" r="0.60" fill="#e0603a"/><circle cx="93.9" cy="51.31" r="0.61" fill="#3fb59a"/><circle cx="101.75" cy="36.94" r="0.56" fill="#f5c93a"/><circle cx="63.85" cy="36.75" r="0.64" fill="#e0603a"/><circle cx="81.8" cy="13.82" r="0.45" fill="#e0603a"/><circle cx="89.79" cy="9.17" r="0.43" fill="#3fb59a"/><circle cx="64.3" cy="38.43" r="0.41" fill="#2ea6da"/><circle cx="62.7" cy="30.22" r="0.47" fill="#e0603a"/><circle cx="63.29" cy="37.94" r="0.40" fill="#f5c93a"/><circle cx="100.46" cy="25.13" r="0.39" fill="#e0603a"/><circle cx="63.97" cy="24.21" r="0.42" fill="#f5c93a"/><circle cx="64.89" cy="35.74" r="0.43" fill="#3fb59a"/><circle cx="104.86" cy="33.03" r="0.39" fill="#f5c93a"/><circle cx="66.19" cy="25.68" r="0.41" fill="#e0603a"/><circle cx="81.17" cy="48.22" r="0.41" fill="#2ea6da"/><circle cx="65.86" cy="35.01" r="0.38" fill="#e0603a"/><circle cx="104.6" cy="38.45" r="0.40" fill="#2ea6da"/><circle cx="66.6" cy="37.86" r="0.43" fill="#3fb59a"/><circle cx="65.58" cy="38.26" r="0.46" fill="#2ea6da"/><circle cx="81.2" cy="50.31" r="0.43" fill="#3fb59a"/><circle cx="96.66" cy="47.46" r="0.41" fill="#3fb59a"/><circle cx="88.32" cy="53.49" r="0.45" fill="#2ea6da"/><circle cx="103.73" cy="32.34" r="0.42" fill="#f5c93a"/><circle cx="106.63" cy="34.95" r="0.43" fill="#f5c93a"/><circle cx="62.39" cy="37.39" r="0.40" fill="#3fb59a"/><circle cx="65.27" cy="28.08" r="0.45" fill="#3fb59a"/><circle cx="84.69" cy="53.57" r="0.44" fill="#f5c93a"/><circle cx="67.41" cy="24.89" r="0.41" fill="#e0603a"/><circle cx="89.68" cy="10.44" r="0.46" fill="#f5c93a"/><circle cx="61.55" cy="32.48" r="0.39" fill="#e0603a"/><circle cx="104.41" cy="39.59" r="0.43" fill="#f5c93a"/><circle cx="102.69" cy="38.24" r="0.42" fill="#f5c93a"/><circle cx="76.29" cy="31.56" r="10.42" fill="#3fb59a"/><circle cx="95.05" cy="31.56" r="7.58" fill="#e0603a"/><circle cx="88.61" cy="18.48" r="6.82" fill="#3fb59a"/><circle cx="75.91" cy="14.69" r="5.31" fill="#3fb59a"/><circle cx="66.62" cy="19.81" r="4.36" fill="#f5c93a"/><circle cx="99.98" cy="19.43" r="4.55" fill="#f5c93a"/><circle cx="83.3" cy="9.76" r="2.84" fill="#2ea6da"/><circle cx="104.34" cy="26.44" r="2.65" fill="#2ea6da"/><circle cx="100.55" cy="43.12" r="4.55" fill="#2ea6da"/><circle cx="88.42" cy="45.39" r="7.20" fill="#f5c93a"/><circle cx="75.53" cy="47.29" r="5.12" fill="#e0603a"/><circle cx="66.62" cy="43.12" r="4.17" fill="#e0603a"/><circle cx="81.03" cy="52.98" r="2.08" fill="#3fb59a"/><circle cx="103.77" cy="35.92" r="1.52" fill="#f5c93a"/><circle cx="95.62" cy="14.12" r="1.52" fill="#3fb59a"/><circle cx="64.73" cy="26.44" r="1.14" fill="#e0603a"/><circle cx="64.35" cy="34.02" r="1.14" fill="#f5c93a"/><circle cx="96.57" cy="49.56" r="1.33" fill="#f5c93a"/><circle cx="103.93" cy="76.32" r="2.03" fill="#2ea6da"/><circle cx="104.84" cy="90.82" r="1.49" fill="#3fb59a"/><circle cx="81.7" cy="65.12" r="2.15" fill="#f5c93a"/><circle cx="103.59" cy="87.16" r="1.90" fill="#e0603a"/><circle cx="71.46" cy="106.85" r="1.42" fill="#e0603a"/><circle cx="64.0" cy="75.97" r="1.34" fill="#2ea6da"/><circle cx="104.33" cy="98.94" r="1.52" fill="#e0603a"/><circle cx="95.13" cy="107.13" r="1.60" fill="#3fb59a"/><circle cx="78.19" cy="109.39" r="1.90" fill="#2ea6da"/><circle cx="89.71" cy="109.27" r="2.17" fill="#2ea6da"/><circle cx="106.63" cy="93.91" r="1.35" fill="#3fb59a"/><circle cx="101.11" cy="102.51" r="2.04" fill="#2ea6da"/><circle cx="62.2" cy="80.21" r="1.43" fill="#e0603a"/><circle cx="66.5" cy="73.11" r="1.81" fill="#f5c93a"/><circle cx="61.01" cy="89.43" r="1.31" fill="#f5c93a"/><circle cx="62.35" cy="84.15" r="1.31" fill="#3fb59a"/><circle cx="92.44" cy="65.7" r="1.38" fill="#3fb59a"/><circle cx="65.53" cy="95.12" r="1.48" fill="#3fb59a"/><circle cx="95.66" cy="67.83" r="1.30" fill="#2ea6da"/><circle cx="77.78" cy="68.1" r="1.77" fill="#3fb59a"/><circle cx="64.41" cy="86.36" r="1.51" fill="#2ea6da"/><circle cx="73.06" cy="67.49" r="1.74" fill="#f5c93a"/><circle cx="99.1" cy="105.53" r="1.26" fill="#3fb59a"/><circle cx="63.68" cy="98.04" r="1.51" fill="#f5c93a"/><circle cx="81.92" cy="108.77" r="1.57" fill="#e0603a"/><circle cx="107.48" cy="84.72" r="1.24" fill="#2ea6da"/><circle cx="63.94" cy="91.64" r="1.83" fill="#2ea6da"/><circle cx="87.74" cy="65.02" r="1.68" fill="#e0603a"/><circle cx="86.53" cy="110.76" r="1.24" fill="#2ea6da"/><circle cx="67.0" cy="103.29" r="1.23" fill="#e0603a"/><circle cx="65.67" cy="79.76" r="1.35" fill="#2ea6da"/><circle cx="69.86" cy="74.73" r="1.22" fill="#e0603a"/><circle cx="107.85" cy="89.71" r="0.93" fill="#e0603a"/><circle cx="98.11" cy="102.25" r="0.85" fill="#f5c93a"/><circle cx="105.75" cy="96.17" r="0.83" fill="#3fb59a"/><circle cx="92.81" cy="105.25" r="0.82" fill="#e0603a"/><circle cx="73.35" cy="108.52" r="0.94" fill="#2ea6da"/><circle cx="61.31" cy="93.11" r="0.86" fill="#f5c93a"/><circle cx="103.62" cy="80.29" r="0.79" fill="#f5c93a"/><circle cx="99.33" cy="76.62" r="0.98" fill="#3fb59a"/><circle cx="107.52" cy="82.36" r="0.81" fill="#2ea6da"/><circle cx="102.93" cy="94.61" r="1.03" fill="#3fb59a"/><circle cx="76.57" cy="102.0" r="0.77" fill="#f5c93a"/><circle cx="85.76" cy="102.57" r="1.16" fill="#2ea6da"/><circle cx="108.05" cy="87.37" r="0.80" fill="#3fb59a"/><circle cx="74.8" cy="107.11" r="0.91" fill="#3fb59a"/><circle cx="92.62" cy="68.92" r="1.04" fill="#f5c93a"/><circle cx="97.68" cy="100.1" r="0.91" fill="#e0603a"/><circle cx="90.0" cy="68.05" r="0.91" fill="#3fb59a"/><circle cx="64.95" cy="100.74" r="1.04" fill="#2ea6da"/><circle cx="92.57" cy="106.99" r="0.82" fill="#e0603a"/><circle cx="76.7" cy="105.68" r="0.85" fill="#e0603a"/><circle cx="83.79" cy="72.88" r="0.82" fill="#f5c93a"/><circle cx="81.03" cy="111.11" r="0.78" fill="#2ea6da"/><circle cx="98.39" cy="73.97" r="0.81" fill="#e0603a"/><circle cx="65.1" cy="82.26" r="0.84" fill="#e0603a"/><circle cx="106.01" cy="79.17" r="1.35" fill="#e0603a"/><circle cx="88.57" cy="105.94" r="1.05" fill="#e0603a"/><circle cx="95.54" cy="90.02" r="1.20" fill="#f5c93a"/><circle cx="69.08" cy="105.79" r="0.86" fill="#f5c93a"/><circle cx="85.3" cy="63.96" r="0.81" fill="#e0603a"/><circle cx="77.61" cy="65.0" r="1.14" fill="#e0603a"/><circle cx="102.72" cy="72.64" r="0.94" fill="#3fb59a"/><circle cx="100.89" cy="75.03" r="1.14" fill="#f5c93a"/><circle cx="60.61" cy="86.48" r="0.98" fill="#3fb59a"/><circle cx="90.89" cy="106.12" r="0.79" fill="#e0603a"/><circle cx="73.69" cy="91.51" r="0.78" fill="#2ea6da"/><circle cx="72.94" cy="101.59" r="0.86" fill="#2ea6da"/><circle cx="93.52" cy="109.37" r="0.86" fill="#2ea6da"/><circle cx="71.35" cy="104.25" r="1.03" fill="#3fb59a"/><circle cx="62.84" cy="94.58" r="1.05" fill="#3fb59a"/><circle cx="85.64" cy="72.84" r="0.88" fill="#3fb59a"/><circle cx="83.6" cy="111.02" r="1.09" fill="#f5c93a"/><circle cx="67.27" cy="101.03" r="0.80" fill="#f5c93a"/><circle cx="98.45" cy="68.81" r="1.19" fill="#e0603a"/><circle cx="97.31" cy="75.36" r="0.78" fill="#e0603a"/><circle cx="71.92" cy="72.55" r="0.78" fill="#f5c93a"/><circle cx="81.73" cy="68.5" r="1.00" fill="#3fb59a"/><circle cx="105.26" cy="81.56" r="0.78" fill="#f5c93a"/><circle cx="99.06" cy="95.45" r="0.76" fill="#3fb59a"/><circle cx="107.52" cy="91.73" r="0.87" fill="#f5c93a"/><circle cx="79.36" cy="93.96" r="0.85" fill="#f5c93a"/><circle cx="75.38" cy="109.64" r="0.77" fill="#e0603a"/><circle cx="102.81" cy="81.62" r="0.67" fill="#f5c93a"/><circle cx="60.9" cy="82.74" r="0.55" fill="#3fb59a"/><circle cx="96.18" cy="69.92" r="0.64" fill="#2ea6da"/><circle cx="64.41" cy="83.85" r="0.69" fill="#2ea6da"/><circle cx="61.98" cy="96.36" r="0.67" fill="#f5c93a"/><circle cx="90.13" cy="64.22" r="0.65" fill="#f5c93a"/><circle cx="79.09" cy="63.97" r="0.58" fill="#f5c93a"/><circle cx="101.75" cy="83.97" r="0.72" fill="#3fb59a"/><circle cx="83.77" cy="103.31" r="0.56" fill="#e0603a"/><circle cx="104.07" cy="96.11" r="0.57" fill="#f5c93a"/><circle cx="75.69" cy="65.09" r="0.48" fill="#f5c93a"/><circle cx="70.21" cy="72.62" r="0.76" fill="#e0603a"/><circle cx="62.35" cy="87.81" r="0.53" fill="#f5c93a"/><circle cx="89.23" cy="76.24" r="0.55" fill="#2ea6da"/><circle cx="84.58" cy="66.2" r="0.58" fill="#3fb59a"/><circle cx="62.1" cy="77.84" r="0.49" fill="#e0603a"/><circle cx="100.63" cy="95.41" r="0.57" fill="#3fb59a"/><circle cx="60.4" cy="84.16" r="0.56" fill="#f5c93a"/><circle cx="66.18" cy="88.41" r="0.64" fill="#e0603a"/><circle cx="103.96" cy="101.26" r="0.58" fill="#e0603a"/><circle cx="70.61" cy="67.63" r="0.56" fill="#f5c93a"/><circle cx="84.34" cy="109.03" r="0.50" fill="#e0603a"/><circle cx="102.77" cy="79.0" r="0.66" fill="#e0603a"/><circle cx="65.03" cy="89.46" r="0.52" fill="#f5c93a"/><circle cx="100.2" cy="69.44" r="0.55" fill="#3fb59a"/><circle cx="96.46" cy="105.24" r="0.60" fill="#3fb59a"/><circle cx="75.37" cy="66.2" r="0.59" fill="#2ea6da"/><circle cx="101.18" cy="76.92" r="0.64" fill="#3fb59a"/><circle cx="104.55" cy="93.65" r="0.57" fill="#e0603a"/><circle cx="78.84" cy="106.51" r="0.57" fill="#3fb59a"/><circle cx="67.9" cy="75.31" r="0.57" fill="#3fb59a"/><circle cx="79.56" cy="99.35" r="0.68" fill="#2ea6da"/><circle cx="66.44" cy="76.19" r="0.62" fill="#f5c93a"/><circle cx="71.94" cy="74.17" r="0.73" fill="#f5c93a"/><circle cx="97.93" cy="107.28" r="0.57" fill="#3fb59a"/><circle cx="72.05" cy="88.83" r="0.55" fill="#2ea6da"/><circle cx="97.39" cy="90.04" r="0.52" fill="#e0603a"/><circle cx="82.33" cy="105.91" r="0.53" fill="#e0603a"/><circle cx="102.86" cy="96.57" r="0.61" fill="#3fb59a"/><circle cx="63.5" cy="88.43" r="0.65" fill="#f5c93a"/><circle cx="69.72" cy="95.58" r="0.68" fill="#f5c93a"/><circle cx="69.38" cy="104.13" r="0.75" fill="#e0603a"/><circle cx="106.54" cy="88.66" r="0.56" fill="#3fb59a"/><circle cx="95.15" cy="65.92" r="0.49" fill="#2ea6da"/><circle cx="63.08" cy="82.28" r="0.53" fill="#f5c93a"/><circle cx="67.98" cy="69.62" r="0.48" fill="#e0603a"/><circle cx="75.14" cy="101.86" r="0.53" fill="#3fb59a"/><circle cx="86.64" cy="108.85" r="0.58" fill="#3fb59a"/><circle cx="79.91" cy="76.57" r="0.67" fill="#e0603a"/><circle cx="67.7" cy="70.75" r="0.58" fill="#3fb59a"/><circle cx="101.83" cy="71.08" r="0.61" fill="#f5c93a"/><circle cx="88.55" cy="68.68" r="0.48" fill="#f5c93a"/><circle cx="88.56" cy="67.3" r="0.63" fill="#e0603a"/><circle cx="106.43" cy="86.92" r="0.53" fill="#2ea6da"/><circle cx="67.65" cy="95.26" r="0.53" fill="#3fb59a"/><circle cx="74.29" cy="83.07" r="0.55" fill="#3fb59a"/><circle cx="70.54" cy="99.37" r="0.53" fill="#3fb59a"/><circle cx="90.6" cy="69.54" r="0.55" fill="#f5c93a"/><circle cx="89.29" cy="93.81" r="0.49" fill="#f5c93a"/><circle cx="74.96" cy="78.18" r="4.17" fill="#3fb59a"/><circle cx="84.63" cy="79.13" r="4.55" fill="#3fb59a"/><circle cx="93.92" cy="79.13" r="4.17" fill="#e0603a"/><circle cx="69.66" cy="84.44" r="3.79" fill="#e0603a"/><circle cx="78.56" cy="87.47" r="5.31" fill="#3fb59a"/><circle cx="89.37" cy="87.85" r="4.93" fill="#3fb59a"/><circle cx="98.09" cy="85.77" r="3.22" fill="#3fb59a"/><circle cx="69.09" cy="91.45" r="3.22" fill="#f5c93a"/><circle cx="75.15" cy="96.95" r="4.17" fill="#f5c93a"/><circle cx="84.63" cy="96.57" r="4.55" fill="#f5c93a"/><circle cx="93.92" cy="96.19" r="4.17" fill="#e0603a"/><circle cx="100.36" cy="91.83" r="2.65" fill="#e0603a"/><circle cx="89.56" cy="72.88" r="2.65" fill="#2ea6da"/><circle cx="80.08" cy="72.31" r="2.65" fill="#f5c93a"/><circle cx="85.2" cy="69.28" r="2.46" fill="#e0603a"/><circle cx="74.58" cy="71.17" r="2.08" fill="#3fb59a"/><circle cx="94.86" cy="72.5" r="2.08" fill="#3fb59a"/><circle cx="80.08" cy="103.2" r="2.84" fill="#3fb59a"/><circle cx="89.75" cy="102.26" r="2.46" fill="#2ea6da"/><circle cx="85.2" cy="106.05" r="2.08" fill="#3fb59a"/><circle cx="95.05" cy="102.82" r="1.90" fill="#e0603a"/><circle cx="67.76" cy="98.09" r="2.08" fill="#3fb59a"/><circle cx="74.39" cy="104.15" r="1.71" fill="#e0603a"/><circle cx="100.36" cy="80.46" r="1.90" fill="#3fb59a"/><circle cx="68.52" cy="77.99" r="1.90" fill="#e0603a"/><circle cx="104.15" cy="83.68" r="1.52" fill="#3fb59a"/><circle cx="100.55" cy="98.09" r="1.90" fill="#2ea6da"/><circle cx="70.03" cy="101.88" r="1.52" fill="#f5c93a"/><circle cx="70.03" cy="70.03" r="1.52" fill="#f5c93a"/><circle cx="99.41" cy="71.55" r="1.52" fill="#f5c93a"/><line x1="73.16" y1="31.67" x2="79.41" y2="31.67" stroke="#333" stroke-width="0.6" stroke-dasharray="2.4 0.7 1.3 0.6 3.1 0.8 1.8 0.7" opacity="0.55"/><rect x="92.78" y="31.37" width="4.55" height="0.6" fill="#333" opacity="0.55"/><rect x="86.56" y="18.29" width="4.09" height="0.6" fill="#333" opacity="0.55"/><rect x="74.32" y="14.5" width="3.18" height="0.6" fill="#333" opacity="0.55"/><rect x="65.31" y="19.62" width="2.62" height="0.6" fill="#333" opacity="0.55"/><rect x="98.62" y="19.24" width="2.73" height="0.6" fill="#333" opacity="0.55"/><rect x="82.45" y="9.57" width="1.71" height="0.6" fill="#333" opacity="0.55"/><rect x="103.54" y="26.25" width="1.59" height="0.6" fill="#333" opacity="0.55"/><rect x="99.18" y="42.93" width="2.73" height="0.6" fill="#333" opacity="0.55"/><rect x="86.26" y="45.2" width="4.32" height="0.6" fill="#333" opacity="0.55"/><rect x="74.0" y="47.1" width="3.07" height="0.6" fill="#333" opacity="0.55"/><rect x="65.37" y="42.93" width="2.5" height="0.6" fill="#333" opacity="0.55"/><rect x="73.71" y="77.99" width="2.5" height="0.6" fill="#333" opacity="0.55"/><rect x="83.26" y="78.94" width="2.73" height="0.6" fill="#333" opacity="0.55"/><rect x="92.66" y="78.94" width="2.5" height="0.6" fill="#333" opacity="0.55"/><rect x="68.52" y="84.25" width="2.27" height="0.6" fill="#333" opacity="0.55"/><rect x="76.97" y="87.28" width="3.18" height="0.6" fill="#333" opacity="0.55"/><rect x="87.89" y="87.66" width="2.96" height="0.6" fill="#333" opacity="0.55"/><rect x="97.12" y="85.58" width="1.93" height="0.6" fill="#333" opacity="0.55"/><rect x="68.12" y="91.26" width="1.93" height="0.6" fill="#333" opacity="0.55"/><rect x="73.9" y="96.76" width="2.5" height="0.6" fill="#333" opacity="0.55"/><rect x="83.26" y="96.38" width="2.73" height="0.6" fill="#333" opacity="0.55"/><rect x="92.66" y="96.0" width="2.5" height="0.6" fill="#333" opacity="0.55"/><rect x="99.56" y="91.64" width="1.59" height="0.6" fill="#333" opacity="0.55"/></svg></div><div class="bars"><i style="left:0;height:13px"></i><i style="left:5.500px;height:8.500px"></i><i style="left:11px;height:15px"></i></div><div class="ttl" style="transform:scaleX(0.908)">circle packing (1)</div><svg class="stars" width="70" height="11" viewBox="0 0 70 11" fill="#333" stroke="#333" stroke-width="0.9" stroke-linejoin="round"><polygon points="5.50,1.00 6.73,3.60 9.59,3.97 7.50,5.95 8.03,8.78 5.50,7.40 2.97,8.78 3.50,5.95 1.41,3.97 4.27,3.60"/><polygon points="19.50,1.00 20.73,3.60 23.59,3.97 21.50,5.95 22.03,8.78 19.50,7.40 16.97,8.78 17.50,5.95 15.41,3.97 18.27,3.60"/><polygon points="33.50,1.00 34.73,3.60 37.59,3.97 35.50,5.95 36.03,8.78 33.50,7.40 30.97,8.78 31.50,5.95 29.41,3.97 32.27,3.60"/><polygon points="47.50,1.00 48.73,3.60 51.59,3.97 49.50,5.95 50.03,8.78 47.50,7.40 44.97,8.78 45.50,5.95 43.41,3.97 46.27,3.60"/><polygon points="61.50,1.00 62.73,3.60 65.59,3.97 63.50,5.95 64.03,8.78 61.50,7.40 58.97,8.78 59.50,5.95 57.41,3.97 60.27,3.60"/></svg><svg class="cube" viewBox="0 0 17 18"><use href="#cube"/></svg><div class="keb"><i style="top:0"></i><i style="top:6px"></i><i style="top:12px"></i></div></div>
<div class="card" style="left:285px;top:544px"><div class="img" style="background:#fff"><svg style="left:0;top:0" width="206" height="116" viewBox="0 0 206 116"><circle cx="103.750" cy="48.700" r="42.200" fill="#fff" stroke="#000" stroke-width="8"/><path d="M103.600 25.300 L123 44.700 L123 58.300 L109.700 45.600 L109.700 73.200 L97.700 73.200 L97.700 45.600 L84.200 58.300 L84.200 44.800Z" fill="#42b79b"/></svg></div><div class="bars"><i style="left:0;height:13px"></i><i style="left:5.500px;height:8.500px"></i><i style="left:11px;height:15px"></i></div><svg class="stars" width="70" height="11" viewBox="0 0 70 11" fill="#333" stroke="#333" stroke-width="0.9" stroke-linejoin="round"><polygon points="5.50,1.00 6.73,3.60 9.59,3.97 7.50,5.95 8.03,8.78 5.50,7.40 2.97,8.78 3.50,5.95 1.41,3.97 4.27,3.60"/><polygon points="19.50,1.00 20.73,3.60 23.59,3.97 21.50,5.95 22.03,8.78 19.50,7.40 16.97,8.78 17.50,5.95 15.41,3.97 18.27,3.60"/><polygon points="33.50,1.00 34.73,3.60 37.59,3.97 35.50,5.95 36.03,8.78 33.50,7.40 30.97,8.78 31.50,5.95 29.41,3.97 32.27,3.60"/><polygon points="47.50,1.00 48.73,3.60 51.59,3.97 49.50,5.95 50.03,8.78 47.50,7.40 44.97,8.78 45.50,5.95 43.41,3.97 46.27,3.60"/><polygon points="61.50,1.00 62.73,3.60 65.59,3.97 63.50,5.95 64.03,8.78 61.50,7.40 58.97,8.78 59.50,5.95 57.41,3.97 60.27,3.60"/></svg><svg class="cube" viewBox="0 0 17 18"><use href="#cube"/></svg><div class="keb"><i style="top:0"></i><i style="top:6px"></i><i style="top:12px"></i></div></div>
<div class="card" style="left:504px;top:544px"><div class="img" style="background:#fff"><svg style="left:0;top:0" width="206" height="116" viewBox="0 0 206 116"><line x1="0.8" y1="1.50" x2="75.80" y2="1.50" stroke="#999" stroke-width="0.6" stroke-dasharray="2.4 0.7 1.3 0.6 3.1 0.8 1.8 0.7" opacity="0.8"/><rect x="0.85" y="2.75" width="52.13" height="3.22" fill="#2ea6da"/><rect x="52.98" y="2.75" width="72.97" height="3.22" fill="#a5daf2"/><line x1="1.23" y1="4.29" x2="20.18" y2="4.29" stroke="#124a68" stroke-width="0.8" stroke-dasharray="2.4 0.7 1.3 0.6 3.1 0.8 1.8 0.7" opacity="0.7"/><rect x="29.85" y="3.89" width="5.69" height="0.8" fill="#124a68" opacity="0.7"/><line x1="61.5" y1="4.29" x2="70.03" y2="4.29" stroke="#124a68" stroke-width="0.8" stroke-dasharray="2.4 0.7 1.3 0.6 3.1 0.8 1.8 0.7" opacity="0.7"/><rect x="83.3" y="3.89" width="4.74" height="0.8" fill="#124a68" opacity="0.7"/><line x1="96.57" y1="4.29" x2="105.10" y2="4.29" stroke="#124a68" stroke-width="0.8" stroke-dasharray="2.4 0.7 1.3 0.6 3.1 0.8 1.8 0.7" opacity="0.7"/><line x1="114.01" y1="4.29" x2="125.00" y2="4.29" stroke="#124a68" stroke-width="0.8" stroke-dasharray="2.4 0.7 1.3 0.6 3.1 0.8 1.8 0.7" opacity="0.7"/><rect x="29.28" y="5.97" width="23.70" height="3.39" fill="#f6f6f6"/><line x1="29.85" y1="7.51" x2="37.43" y2="7.51" stroke="#555" stroke-width="0.8" stroke-dasharray="2.4 0.7 1.3 0.6 3.1 0.8 1.8 0.7" opacity="0.7"/><line x1="63.4" y1="7.46" x2="69.84" y2="7.46" stroke="#888" stroke-width="0.7" stroke-dasharray="2.4 0.7 1.3 0.6 3.1 0.8 1.8 0.7" opacity="0.6"/><line x1="76.67" y1="7.46" x2="87.09" y2="7.46" stroke="#888" stroke-width="0.7" stroke-dasharray="2.4 0.7 1.3 0.6 3.1 0.8 1.8 0.7" opacity="0.6"/><line x1="94.67" y1="7.46" x2="105.09" y2="7.46" stroke="#888" stroke-width="0.7" stroke-dasharray="2.4 0.7 1.3 0.6 3.1 0.8 1.8 0.7" opacity="0.6"/><line x1="118.37" y1="7.46" x2="124.81" y2="7.46" stroke="#888" stroke-width="0.7" stroke-dasharray="2.4 0.7 1.3 0.6 3.1 0.8 1.8 0.7" opacity="0.6"/><rect x="54.49" y="6.92" width="1.200" height="1.600" fill="#f5c93a"/><rect x="71.93" y="6.92" width="1.200" height="1.600" fill="#f5c93a"/><rect x="89.56" y="6.92" width="1.200" height="1.600" fill="#f5c93a"/><rect x="106.99" y="6.92" width="1.200" height="1.600" fill="#f5c93a"/><rect x="52.98" y="9.36" width="72.97" height="3.39" fill="#f2f2f2"/><rect x="29.28" y="9.36" width="23.70" height="3.39" fill="#ececec"/><line x1="29.85" y1="10.90" x2="37.81" y2="10.90" stroke="#555" stroke-width="0.8" stroke-dasharray="2.4 0.7 1.3 0.6 3.1 0.8 1.8 0.7" opacity="0.7"/><line x1="63.4" y1="10.85" x2="69.84" y2="10.85" stroke="#888" stroke-width="0.7" stroke-dasharray="2.4 0.7 1.3 0.6 3.1 0.8 1.8 0.7" opacity="0.6"/><line x1="76.67" y1="10.85" x2="87.09" y2="10.85" stroke="#888" stroke-width="0.7" stroke-dasharray="2.4 0.7 1.3 0.6 3.1 0.8 1.8 0.7" opacity="0.6"/><line x1="94.67" y1="10.85" x2="105.09" y2="10.85" stroke="#888" stroke-width="0.7" stroke-dasharray="2.4 0.7 1.3 0.6 3.1 0.8 1.8 0.7" opacity="0.6"/><line x1="118.37" y1="10.85" x2="124.81" y2="10.85" stroke="#888" stroke-width="0.7" stroke-dasharray="2.4 0.7 1.3 0.6 3.1 0.8 1.8 0.7" opacity="0.6"/><rect x="54.49" y="10.31" width="1.200" height="1.600" fill="#f5c93a"/><rect x="71.93" y="10.31" width="1.200" height="1.600" fill="#f5c93a"/><rect x="89.56" y="10.31" width="1.200" height="1.600" fill="#f5c93a"/><rect x="106.99" y="10.31" width="1.200" height="1.600" fill="#f5c93a"/><rect x="29.28" y="12.75" width="23.70" height="3.39" fill="#f6f6f6"/><rect x="29.85" y="13.88" width="5.31" height="0.8" fill="#555" opacity="0.7"/><line x1="63.4" y1="14.23" x2="69.84" y2="14.23" stroke="#888" stroke-width="0.7" stroke-dasharray="2.4 0.7 1.3 0.6 3.1 0.8 1.8 0.7" opacity="0.6"/><line x1="76.67" y1="14.23" x2="87.09" y2="14.23" stroke="#888" stroke-width="0.7" stroke-dasharray="2.4 0.7 1.3 0.6 3.1 0.8 1.8 0.7" opacity="0.6"/><line x1="94.67" y1="14.23" x2="105.09" y2="14.23" stroke="#888" stroke-width="0.7" stroke-dasharray="2.4 0.7 1.3 0.6 3.1 0.8 1.8 0.7" opacity="0.6"/><line x1="118.37" y1="14.23" x2="124.81" y2="14.23" stroke="#888" stroke-width="0.7" stroke-dasharray="2.4 0.7 1.3 0.6 3.1 0.8 1.8 0.7" opacity="0.6"/><rect x="54.49" y="13.69" width="1.200" height="1.600" fill="#9bc53d"/><rect x="71.93" y="13.69" width="1.200" height="1.600" fill="#9bc53d"/><rect x="89.56" y="13.69" width="1.200" height="1.600" fill="#9bc53d"/><rect x="106.99" y="13.69" width="1.200" height="1.600" fill="#9bc53d"/><rect x="52.98" y="16.13" width="72.97" height="3.39" fill="#f2f2f2"/><rect x="29.28" y="16.13" width="23.70" height="3.39" fill="#ececec"/><line x1="29.85" y1="17.67" x2="48.80" y2="17.67" stroke="#555" stroke-width="0.8" stroke-dasharray="2.4 0.7 1.3 0.6 3.1 0.8 1.8 0.7" opacity="0.7"/><line x1="63.4" y1="17.62" x2="69.84" y2="17.62" stroke="#888" stroke-width="0.7" stroke-dasharray="2.4 0.7 1.3 0.6 3.1 0.8 1.8 0.7" opacity="0.6"/><line x1="76.67" y1="17.62" x2="87.09" y2="17.62" stroke="#888" stroke-width="0.7" stroke-dasharray="2.4 0.7 1.3 0.6 3.1 0.8 1.8 0.7" opacity="0.6"/><line x1="94.67" y1="17.62" x2="105.09" y2="17.62" stroke="#888" stroke-width="0.7" stroke-dasharray="2.4 0.7 1.3 0.6 3.1 0.8 1.8 0.7" opacity="0.6"/><line x1="118.37" y1="17.62" x2="124.81" y2="17.62" stroke="#888" stroke-width="0.7" stroke-dasharray="2.4 0.7 1.3 0.6 3.1 0.8 1.8 0.7" opacity="0.6"/><rect x="29.28" y="19.52" width="23.70" height="3.39" fill="#f6f6f6"/><line x1="29.85" y1="21.06" x2="37.43" y2="21.06" stroke="#555" stroke-width="0.8" stroke-dasharray="2.4 0.7 1.3 0.6 3.1 0.8 1.8 0.7" opacity="0.7"/><line x1="63.4" y1="21.01" x2="69.84" y2="21.01" stroke="#888" stroke-width="0.7" stroke-dasharray="2.4 0.7 1.3 0.6 3.1 0.8 1.8 0.7" opacity="0.6"/><line x1="76.67" y1="21.01" x2="87.09" y2="21.01" stroke="#888" stroke-width="0.7" stroke-dasharray="2.4 0.7 1.3 0.6 3.1 0.8 1.8 0.7" opacity="0.6"/><line x1="94.67" y1="21.01" x2="105.09" y2="21.01" stroke="#888" stroke-width="0.7" stroke-dasharray="2.4 0.7 1.3 0.6 3.1 0.8 1.8 0.7" opacity="0.6"/><line x1="118.37" y1="21.01" x2="124.81" y2="21.01" stroke="#888" stroke-width="0.7" stroke-dasharray="2.4 0.7 1.3 0.6 3.1 0.8 1.8 0.7" opacity="0.6"/><rect x="54.49" y="20.47" width="1.200" height="1.600" fill="#9bc53d"/><rect x="71.93" y="20.47" width="1.200" height="1.600" fill="#9bc53d"/><rect x="89.56" y="20.47" width="1.200" height="1.600" fill="#9bc53d"/><rect x="106.99" y="20.47" width="1.200" height="1.600" fill="#9bc53d"/><rect x="52.98" y="22.91" width="72.97" height="3.39" fill="#f2f2f2"/><rect x="29.28" y="22.91" width="23.70" height="3.39" fill="#ececec"/><line x1="29.85" y1="24.45" x2="37.43" y2="24.45" stroke="#555" stroke-width="0.8" stroke-dasharray="2.4 0.7 1.3 0.6 3.1 0.8 1.8 0.7" opacity="0.7"/><line x1="63.4" y1="24.40" x2="69.84" y2="24.40" stroke="#888" stroke-width="0.7" stroke-dasharray="2.4 0.7 1.3 0.6 3.1 0.8 1.8 0.7" opacity="0.6"/><line x1="76.67" y1="24.40" x2="87.09" y2="24.40" stroke="#888" stroke-width="0.7" stroke-dasharray="2.4 0.7 1.3 0.6 3.1 0.8 1.8 0.7" opacity="0.6"/><line x1="94.67" y1="24.40" x2="105.09" y2="24.40" stroke="#888" stroke-width="0.7" stroke-dasharray="2.4 0.7 1.3 0.6 3.1 0.8 1.8 0.7" opacity="0.6"/><line x1="118.37" y1="24.40" x2="124.81" y2="24.40" stroke="#888" stroke-width="0.7" stroke-dasharray="2.4 0.7 1.3 0.6 3.1 0.8 1.8 0.7" opacity="0.6"/><rect x="54.49" y="23.86" width="1.200" height="1.600" fill="#f5c93a"/><rect x="71.93" y="23.86" width="1.200" height="1.600" fill="#f5c93a"/><rect x="89.56" y="23.86" width="1.200" height="1.600" fill="#f5c93a"/><rect x="106.99" y="23.86" width="1.200" height="1.600" fill="#f5c93a"/><rect x="29.28" y="26.3" width="23.70" height="3.39" fill="#f6f6f6"/><rect x="29.85" y="27.44" width="5.31" height="0.8" fill="#555" opacity="0.7"/><line x1="63.4" y1="27.79" x2="69.84" y2="27.79" stroke="#888" stroke-width="0.7" stroke-dasharray="2.4 0.7 1.3 0.6 3.1 0.8 1.8 0.7" opacity="0.6"/><line x1="76.67" y1="27.79" x2="87.09" y2="27.79" stroke="#888" stroke-width="0.7" stroke-dasharray="2.4 0.7 1.3 0.6 3.1 0.8 1.8 0.7" opacity="0.6"/><line x1="94.67" y1="27.79" x2="105.09" y2="27.79" stroke="#888" stroke-width="0.7" stroke-dasharray="2.4 0.7 1.3 0.6 3.1 0.8 1.8 0.7" opacity="0.6"/><line x1="118.37" y1="27.79" x2="124.81" y2="27.79" stroke="#888" stroke-width="0.7" stroke-dasharray="2.4 0.7 1.3 0.6 3.1 0.8 1.8 0.7" opacity="0.6"/><rect x="54.49" y="27.25" width="1.200" height="1.600" fill="#2ea6da"/><rect x="71.93" y="27.25" width="1.200" height="1.600" fill="#2ea6da"/><rect x="89.56" y="27.25" width="1.200" height="1.600" fill="#2ea6da"/><rect x="106.99" y="27.25" width="1.200" height="1.600" fill="#2ea6da"/><rect x="52.98" y="29.69" width="72.97" height="3.39" fill="#f2f2f2"/><rect x="29.28" y="29.69" width="23.70" height="3.39" fill="#ececec"/><line x1="29.85" y1="31.22" x2="50.70" y2="31.22" stroke="#555" stroke-width="0.8" stroke-dasharray="2.4 0.7 1.3 0.6 3.1 0.8 1.8 0.7" opacity="0.7"/><line x1="63.4" y1="31.17" x2="69.84" y2="31.17" stroke="#888" stroke-width="0.7" stroke-dasharray="2.4 0.7 1.3 0.6 3.1 0.8 1.8 0.7" opacity="0.6"/><line x1="76.67" y1="31.17" x2="87.09" y2="31.17" stroke="#888" stroke-width="0.7" stroke-dasharray="2.4 0.7 1.3 0.6 3.1 0.8 1.8 0.7" opacity="0.6"/><line x1="94.67" y1="31.17" x2="105.09" y2="31.17" stroke="#888" stroke-width="0.7" stroke-dasharray="2.4 0.7 1.3 0.6 3.1 0.8 1.8 0.7" opacity="0.6"/><line x1="118.37" y1="31.17" x2="124.81" y2="31.17" stroke="#888" stroke-width="0.7" stroke-dasharray="2.4 0.7 1.3 0.6 3.1 0.8 1.8 0.7" opacity="0.6"/><line x1="1.23" y1="7.51" x2="11.09" y2="7.51" stroke="#555" stroke-width="0.8" stroke-dasharray="2.4 0.7 1.3 0.6 3.1 0.8 1.8 0.7" opacity="0.7"/><line x1="1.23" y1="21.06" x2="11.65" y2="21.06" stroke="#555" stroke-width="0.8" stroke-dasharray="2.4 0.7 1.3 0.6 3.1 0.8 1.8 0.7" opacity="0.7"/><rect x="0.85" y="19.52" width="28.43" height="0.2" fill="#ddd"/><rect x="0.85" y="33.07" width="52.13" height="3.42" fill="#f5c53a"/><rect x="52.98" y="33.07" width="72.97" height="3.42" fill="#fdf0bf"/><line x1="1.23" y1="34.61" x2="11.65" y2="34.61" stroke="#6a5208" stroke-width="0.8" stroke-dasharray="2.4 0.7 1.3 0.6 3.1 0.8 1.8 0.7" opacity="0.8"/><line x1="62.45" y1="34.56" x2="69.65" y2="34.56" stroke="#777" stroke-width="0.7" stroke-dasharray="2.4 0.7 1.3 0.6 3.1 0.8 1.8 0.7" opacity="0.7"/><line x1="76.1" y1="34.56" x2="87.47" y2="34.56" stroke="#777" stroke-width="0.7" stroke-dasharray="2.4 0.7 1.3 0.6 3.1 0.8 1.8 0.7" opacity="0.7"/><line x1="92.78" y1="34.56" x2="105.67" y2="34.56" stroke="#777" stroke-width="0.7" stroke-dasharray="2.4 0.7 1.3 0.6 3.1 0.8 1.8 0.7" opacity="0.7"/><line x1="118.93" y1="34.56" x2="125.00" y2="34.56" stroke="#777" stroke-width="0.7" stroke-dasharray="2.4 0.7 1.3 0.6 3.1 0.8 1.8 0.7" opacity="0.7"/><line x1="175.61" y1="2.10" x2="183.61" y2="2.10" stroke="#888" stroke-width="0.6" stroke-dasharray="2.4 0.7 1.3 0.6 3.1 0.8 1.8 0.7" opacity="0.8"/><defs><linearGradient id="lg1"><stop offset="0" stop-color="#e8d24a"/><stop offset="0.5" stop-color="#5fbf8f"/><stop offset="1" stop-color="#2ea6da"/></linearGradient></defs><rect x="175.42" y="5.21" width="29.19" height="1.400" fill="url(#lg1)"/><line x1="175.61" y1="8.36" x2="182.61" y2="8.36" stroke="#aaa" stroke-width="0.6" stroke-dasharray="2.4 0.7 1.3 0.6 3.1 0.8 1.8 0.7" opacity="0.8"/><rect x="199.87" y="8.06" width="5" height="0.6" fill="#aaa" opacity="0.8"/><line x1="175.61" y1="19.16" x2="183.61" y2="19.16" stroke="#888" stroke-width="0.6" stroke-dasharray="2.4 0.7 1.3 0.6 3.1 0.8 1.8 0.7" opacity="0.8"/><rect x="176.18" y="22.27" width="1.600" height="1.600" fill="#667"/><line x1="179.59" y1="23.14" x2="185.59" y2="23.14" stroke="#999" stroke-width="0.6" stroke-dasharray="2.4 0.7 1.3 0.6 3.1 0.8 1.8 0.7" opacity="0.8"/><rect x="176.18" y="25.40" width="1.600" height="1.600" fill="#667"/><line x1="179.59" y1="26.27" x2="187.59" y2="26.27" stroke="#999" stroke-width="0.6" stroke-dasharray="2.4 0.7 1.3 0.6 3.1 0.8 1.8 0.7" opacity="0.8"/><rect x="176.18" y="28.53" width="1.600" height="1.600" fill="#667"/><line x1="179.59" y1="29.39" x2="187.59" y2="29.39" stroke="#999" stroke-width="0.6" stroke-dasharray="2.4 0.7 1.3 0.6 3.1 0.8 1.8 0.7" opacity="0.8"/><rect x="176.18" y="31.65" width="1.600" height="1.600" fill="#667"/><line x1="179.59" y1="32.52" x2="187.59" y2="32.52" stroke="#999" stroke-width="0.6" stroke-dasharray="2.4 0.7 1.3 0.6 3.1 0.8 1.8 0.7" opacity="0.8"/><rect x="176.18" y="34.78" width="1.600" height="1.600" fill="#667"/><line x1="179.59" y1="35.65" x2="187.59" y2="35.65" stroke="#999" stroke-width="0.6" stroke-dasharray="2.4 0.7 1.3 0.6 3.1 0.8 1.8 0.7" opacity="0.8"/></svg></div><div class="bars"><i style="left:0;height:13px"></i><i style="left:5.500px;height:8.500px"></i><i style="left:11px;height:15px"></i></div><svg class="stars" width="70" height="11" viewBox="0 0 70 11" fill="#333" stroke="#333" stroke-width="0.9" stroke-linejoin="round"><polygon points="5.50,1.00 6.73,3.60 9.59,3.97 7.50,5.95 8.03,8.78 5.50,7.40 2.97,8.78 3.50,5.95 1.41,3.97 4.27,3.60"/><polygon points="19.50,1.00 20.73,3.60 23.59,3.97 21.50,5.95 22.03,8.78 19.50,7.40 16.97,8.78 17.50,5.95 15.41,3.97 18.27,3.60"/><polygon points="33.50,1.00 34.73,3.60 37.59,3.97 35.50,5.95 36.03,8.78 33.50,7.40 30.97,8.78 31.50,5.95 29.41,3.97 32.27,3.60"/><polygon points="47.50,1.00 48.73,3.60 51.59,3.97 49.50,5.95 50.03,8.78 47.50,7.40 44.97,8.78 45.50,5.95 43.41,3.97 46.27,3.60"/><polygon points="61.50,1.00 62.73,3.60 65.59,3.97 63.50,5.95 64.03,8.78 61.50,7.40 58.97,8.78 59.50,5.95 57.41,3.97 60.27,3.60"/></svg><svg class="cube" viewBox="0 0 17 18"><use href="#cube"/></svg><div class="keb"><i style="top:0"></i><i style="top:6px"></i><i style="top:12px"></i></div></div>
<div class="card" style="left:723px;top:544px"><div class="img" style="background:#f1f2f2"><svg style="left:0;top:0" width="206" height="116" viewBox="0 0 206 116"><g font-family="Liberation Serif, serif" font-style="italic" font-size="61" fill="#f5a25d"><text x="0" y="0" transform="translate(76 72.2) scale(1.4 1.05)" stroke="#f5a25d" stroke-width="0.6">f</text><text x="0" y="0" transform="translate(105 71.6) scale(1.15 0.93)" stroke="#f5a25d" stroke-width="1.6">x</text></g></svg></div><div class="bars"><i style="left:0;height:13px"></i><i style="left:5.500px;height:8.500px"></i><i style="left:11px;height:15px"></i></div><svg class="stars" width="70" height="11" viewBox="0 0 70 11" fill="#333" stroke="#333" stroke-width="0.9" stroke-linejoin="round"><polygon points="5.50,1.00 6.73,3.60 9.59,3.97 7.50,5.95 8.03,8.78 5.50,7.40 2.97,8.78 3.50,5.95 1.41,3.97 4.27,3.60"/><polygon points="19.50,1.00 20.73,3.60 23.59,3.97 21.50,5.95 22.03,8.78 19.50,7.40 16.97,8.78 17.50,5.95 15.41,3.97 18.27,3.60"/><polygon points="33.50,1.00 34.73,3.60 37.59,3.97 35.50,5.95 36.03,8.78 33.50,7.40 30.97,8.78 31.50,5.95 29.41,3.97 32.27,3.60"/><polygon points="47.50,1.00 48.73,3.60 51.59,3.97 49.50,5.95 50.03,8.78 47.50,7.40 44.97,8.78 45.50,5.95 43.41,3.97 46.27,3.60"/><polygon points="61.50,1.00 62.73,3.60 65.59,3.97 63.50,5.95 64.03,8.78 61.50,7.40 58.97,8.78 59.50,5.95 57.41,3.97 60.27,3.60"/></svg><svg class="cube" viewBox="0 0 17 18"><use href="#cube"/></svg><div class="keb"><i style="top:0"></i><i style="top:6px"></i><i style="top:12px"></i></div></div>
</div>
<div style="left:1095px;top:99px;width:10px;height:644px;background:#4b4b4b;border-radius:0 0 7px 0"></div>
<svg style="left:1096px;top:100px" width="8" height="8" viewBox="0 0 8 8"><path d="M0.800 6.300 L4 1.500 L7.200 6.300Z" fill="#787878"/></svg>
<svg style="left:1096px;top:733px" width="8" height="8" viewBox="0 0 8 8"><path d="M0.800 1.700 L4 6.500 L7.200 1.700Z" fill="#6a6a6a"/></svg>
<div style="left:1097px;top:234px;width:6px;height:266px;background:#646464;border-radius:3px"></div>
<!-- context menu -->
<div id="menu" style="left:119px;top:243px;width:155px;height:471px;background:#fff;border-radius:5px;box-shadow:0 0 0 1px rgba(120,120,120,0.35),1px 2px 5px rgba(0,0,0,0.35)">
<!-- Add Folder -->
<svg style="left:6px;top:7px" width="18" height="17" viewBox="0 0 18 17"><path d="M1 2.2 L6.4 2.2 L7.8 4.2 L17 4.2 L17 15.6 L1 15.6Z" fill="#d2954a"/><rect x="10" y="0" width="8" height="8" fill="#fff"/><path d="M13.800 0.600 L13.800 7 M10.600 3.800 L17 3.800" stroke="#2f7fd0" stroke-width="1.500"/></svg>
<div class="mi" style="top:7.5px;transform-origin:0 0;transform:scaleX(0.903)">Add Folder</div>
<div class="sep" style="top:35px"></div>
<!-- Open Folder -->
<svg style="left:6px;top:48px" width="18" height="17" viewBox="0 0 18 17"><path d="M1 1.800 L6.400 1.800 L7.800 3.600 L15.400 3.600 L15.400 6 L1 6Z" fill="#e2a55c"/><path d="M1 15.400 L3 6.200 L17.400 6.200 L15.400 15.400Z" fill="#fbc98a"/><path d="M1 6 L1 15.400 L3 6.200Z" fill="#e2a55c"/></svg>
<div class="mi" style="top:48.5px;transform-origin:0 0;transform:scaleX(0.901)">Open Folder</div>
<!-- Open Folder Content -->
<svg style="left:6px;top:76px" width="18" height="19" viewBox="0 0 18 19"><path d="M1 1.800 L6.400 1.800 L7.800 3.600 L15.400 3.600 L15.400 6 L1 6Z" fill="#e2a55c"/><path d="M1 15 L3 6.200 L17.400 6.200 L15.400 15Z" fill="#fbc98a"/><path d="M1 6 L1 15 L3 6.200Z" fill="#e2a55c"/><path d="M8 9.500 C9 5.500 13 4.500 15.500 6.800 L17 5 L17 10.500 L11.800 10 L13.600 8.400 C12 7 10 7.500 8 9.500Z" fill="#3f8fd6"/><rect x="1.400" y="16.400" width="3.600" height="1.600" fill="#3bb52b"/><rect x="6" y="16.400" width="3.600" height="1.600" fill="#f5821f"/><rect x="10.600" y="16.400" width="3.600" height="1.600" fill="#b54fd2"/></svg>
<div class="mi" style="top:76.5px;transform-origin:0 0;transform:scaleX(0.912)">Open Folder Content</div>
<div class="sep" style="top:104px"></div>
<!-- Run Slide Show -->
<svg style="left:6px;top:117px" width="18" height="18" viewBox="0 0 18 18"><path d="M1 1.800 L6.400 1.800 L7.800 3.400 L17 3.400 L17 6 L3.600 6 L3.600 15 L1 15Z" fill="#d2954a"/><rect x="5.200" y="7" width="12" height="8" fill="#fff" stroke="#b0b0b0" stroke-width="1"/><path d="M9.800 8.800 L13.400 11 L9.800 13.200Z" fill="#3f8fd6"/><path d="M8.500 17 L14 17 M11.200 15 L11.200 17" stroke="#b0b0b0" stroke-width="1"/></svg>
<div class="mi" style="top:117.5px;transform-origin:0 0;transform:scaleX(0.877)">Run Slide Show</div>
<!-- Print Folder Content -->
<svg style="left:6px;top:145px" width="18" height="18" viewBox="0 0 18 18"><path d="M1 1.800 L6.400 1.800 L7.800 3.400 L17 3.400 L17 6 L3.600 6 L3.600 15 L1 15Z" fill="#d2954a"/><rect x="5.800" y="9.600" width="11" height="5.400" rx="1" fill="#3f8fd6"/><rect x="8" y="7.200" width="6.600" height="2.600" fill="#fff" stroke="#3f8fd6" stroke-width="1"/><rect x="8" y="12.600" width="6.600" height="4" fill="#fff" stroke="#3f8fd6" stroke-width="1"/></svg>
<div class="mi" style="top:145.5px;transform-origin:0 0;transform:scaleX(0.915)">Print Folder Content</div>
<div class="sep" style="top:173px"></div>
<!-- Copy -->
<svg style="left:6px;top:186px" width="18" height="18" viewBox="0 0 18 18" fill="none"><path d="M5 14.400 L1.500 14.400 L1.500 1.500 L8.500 1.500" stroke="#bdbdbd" stroke-width="1"/><path d="M6.500 4.500 L12.500 4.500 L16.500 8.500 L16.500 16.500 L6.500 16.500Z" stroke="#666" stroke-width="1" fill="#fff"/><path d="M12.500 4.500 L12.500 8.500 L16.500 8.500 M9.500 12.500 L12.500 12.500" stroke="#666" stroke-width="1"/></svg>
<div class="mi" style="top:186.5px;transform-origin:0 0;transform:scaleX(0.873)">Copy</div>
<!-- Cut -->
<svg style="left:6px;top:214px" width="18" height="18" viewBox="0 0 18 18" fill="none"><path d="M4.500 1.500 L11.800 12.800 M13.500 1.500 L6.200 12.800" stroke="#666" stroke-width="1.100"/><circle cx="5" cy="14.500" r="2.100" stroke="#2f7fd0" stroke-width="1.100"/><circle cx="13" cy="14.500" r="2.100" stroke="#2f7fd0" stroke-width="1.100"/></svg>
<div class="mi" style="top:214.5px;transform-origin:0 0;transform:scaleX(0.87)">Cut</div>
<!-- Paste options -->
<svg style="left:6px;top:239px" width="18" height="19" viewBox="0 0 18 19" fill="none"><path d="M4.500 3.500 L1.500 3.500 L1.500 16.500 L6 16.500 M11.500 3.500 L14.500 3.500 L14.500 7" stroke="#d2954a" stroke-width="1.200"/><path d="M5 5.500 L11 5.500 L11 3.500 L9.600 3.500 C9.600 1 6.400 1 6.400 3.500 L5 3.500Z" stroke="#888" stroke-width="1" fill="#fff"/><rect x="8.500" y="8.500" width="6.600" height="9" stroke="#555" stroke-width="1.100" fill="#fff"/></svg>
<div class="mi" style="left:29px;top:240.500px;transform-origin:0 0;transform:scaleX(0.894)">Paste options</div>
<div style="left:31px;top:258px;width:32px;height:32px;background:#d5e6f7"></div>
<svg style="left:36px;top:261px" width="24" height="26" viewBox="0 0 24 26" fill="none"><path d="M6.200 3.500 L3.200 3.500 L3.200 19.600 L8.800 19.600 M14 3.500 L17.200 3.500 L17.200 8.500" stroke="#dba45f" stroke-width="1.200"/><path d="M7 5.600 L13.300 5.600 L13.300 3.600 L11.900 3.600 C11.900 1 8.400 1 8.400 3.600 L7 3.600Z" stroke="#999" stroke-width="0.900" fill="#fff"/><rect x="10.600" y="10.400" width="10" height="13.500" stroke="#666" stroke-width="1.200" fill="#fff"/></svg>
<svg style="left:73px;top:261px" width="24" height="26" viewBox="0 0 24 26" fill="none"><path d="M5.400 3.500 L2.500 3.500 L2.500 19.600 L8 19.600 M13.200 3.500 L16.400 3.500 L16.400 7" stroke="#dba45f" stroke-width="1.200"/><path d="M6.200 5.600 L12.500 5.600 L12.500 3.600 L11.100 3.600 C11.100 1 7.600 1 7.600 3.600 L6.200 3.600Z" stroke="#999" stroke-width="0.900" fill="#fff"/><path d="M12.800 11 L12.800 14 M9 16 L9 14 L16.300 14 L16.300 16 M16.300 18.500 L16.300 21.300 M12.800 23 L12.800 21.300 L20.500 21.300 L20.500 23" stroke="#777" stroke-width="0.900"/><rect x="12" y="9" width="1.600" height="1.600" fill="#e8392c"/><rect x="8.200" y="16.400" width="1.600" height="1.600" fill="#3bb52b"/><rect x="15.500" y="16.400" width="1.600" height="1.600" fill="#3bb52b"/><rect x="12" y="23.300" width="1.600" height="1.600" fill="#f5821f"/><rect x="19.700" y="23.300" width="1.600" height="1.600" fill="#f5821f"/></svg>
<div class="sep" style="top:298px"></div>
<!-- Delete -->
<svg style="left:7px;top:312px" width="16" height="15" viewBox="0 0 16 15" fill="none"><path d="M1.500 1 L14.500 14 M14.500 1 L1.500 14" stroke="#555" stroke-width="1.400"/></svg>
<div class="mi" style="top:311.5px;transform-origin:0 0;transform:scaleX(0.886)">Delete</div>
<!-- Purge -->
<svg style="left:6px;top:338px" width="18" height="19" viewBox="0 0 18 19"><path d="M2 3 L16 3 L16 5 L2 5Z M5.500 1 L12.500 1 L12.500 3 L5.500 3Z" fill="#cfcfcf"/><path d="M3.500 5 L14.500 5 L13.500 17.500 L4.500 17.500Z" fill="#f3f3f3" stroke="#cfcfcf" stroke-width="1.200"/><path d="M6.800 8.800 L11.200 13.400 M11.200 8.800 L6.800 13.400" stroke="#e8392c" stroke-width="1.100"/></svg>
<div class="mi" style="top:339.5px;transform-origin:0 0;transform:scaleX(0.871)">Purge</div>
<!-- Rename -->
<svg style="left:6px;top:366px" width="18" height="18" viewBox="0 0 18 18" fill="none"><path d="M9 4.500 L1.500 4.500 L1.500 12.500 L9 12.500 M13 4.500 L16.500 4.500 L16.500 12.500 L13 12.500" stroke="#999" stroke-width="1"/><rect x="3.500" y="6.800" width="5" height="3.600" fill="#999"/><path d="M11 2 L11 15.500 M8.500 1.500 L10 1.500 Q11 1.500 11 2.500 Q11 1.500 12 1.500 L13.500 1.500 M8.500 16 L10 16 Q11 16 11 15 Q11 16 12 16 L13.500 16" stroke="#2f7fd0" stroke-width="1"/></svg>
<div class="mi" style="top:367.5px;transform-origin:0 0;transform:scaleX(0.849)">Rename</div>
<div class="sep" style="top:395px"></div>
<!-- Add to Favorites -->
<svg style="left:5px;top:406px" width="20" height="20" viewBox="0 0 20 20" fill="none"><path d="M11 4.500 L12.800 9.200 L17.800 9.400 L13.900 12.500 L15.300 17.400 L11 14.600 L6.700 17.400 L8.100 12.500 L4.200 9.400 L9.200 9.200Z" stroke="#e2a55c" stroke-width="1.100" fill="#fff"/><rect x="1" y="0.500" width="7.500" height="8" fill="#fff"/><path d="M4.500 1 L4.500 8 M1 4.500 L8 4.500" stroke="#2f7fd0" stroke-width="1.200"/></svg>
<div class="mi" style="top:408.5px;transform-origin:0 0;transform:scaleX(0.904)">Add to Favorites</div>
<div class="sep" style="top:436px"></div>
<div class="mi" style="top:449.5px;transform-origin:0 0;transform:scaleX(0.901)">Actions</div>
<svg style="left:144px;top:453px" width="6" height="10" viewBox="0 0 6 10"><path d="M1 0.800 L5 5 L1 9.200Z" fill="#555"/></svg>
</div>
<!-- tooltip -->
<div style="left:180.500px;top:535.500px;width:43px;height:24px;background:#fff;border:1px solid #666"></div>
<div class="t" style="left:188.500px;top:541px;font-size:12px;color:#444;line-height:14px;transform-origin:0 0;transform:scaleX(0.88)">Paste</div>
<!-- hand cursor -->
<svg style="left:163px;top:519px" width="20" height="25" viewBox="0 0 20 25"><path d="M6.200 1.800 C6.200 0.400 8.800 0.400 8.800 1.800 L8.800 8.600 C9 7.400 11.400 7.400 11.600 8.800 C11.800 7.800 14.200 7.800 14.400 9.400 C14.800 8.600 17 8.800 17 10.400 L17 16.500 C17 20 15.500 21 15.500 23.500 L7.500 23.500 C7 21 5 19.500 3.200 16.500 C2 14.500 1.200 13 2.200 12.200 C3.400 11.400 4.800 13 6.200 14.800Z" fill="#fff" stroke="#222" stroke-width="1.100" stroke-linejoin="round"/><path d="M9 13 L9 17.500 M11.700 13 L11.700 17.500 M14.400 13 L14.400 17.500" stroke="#222" stroke-width="0.900"/></svg>
</body></html>
